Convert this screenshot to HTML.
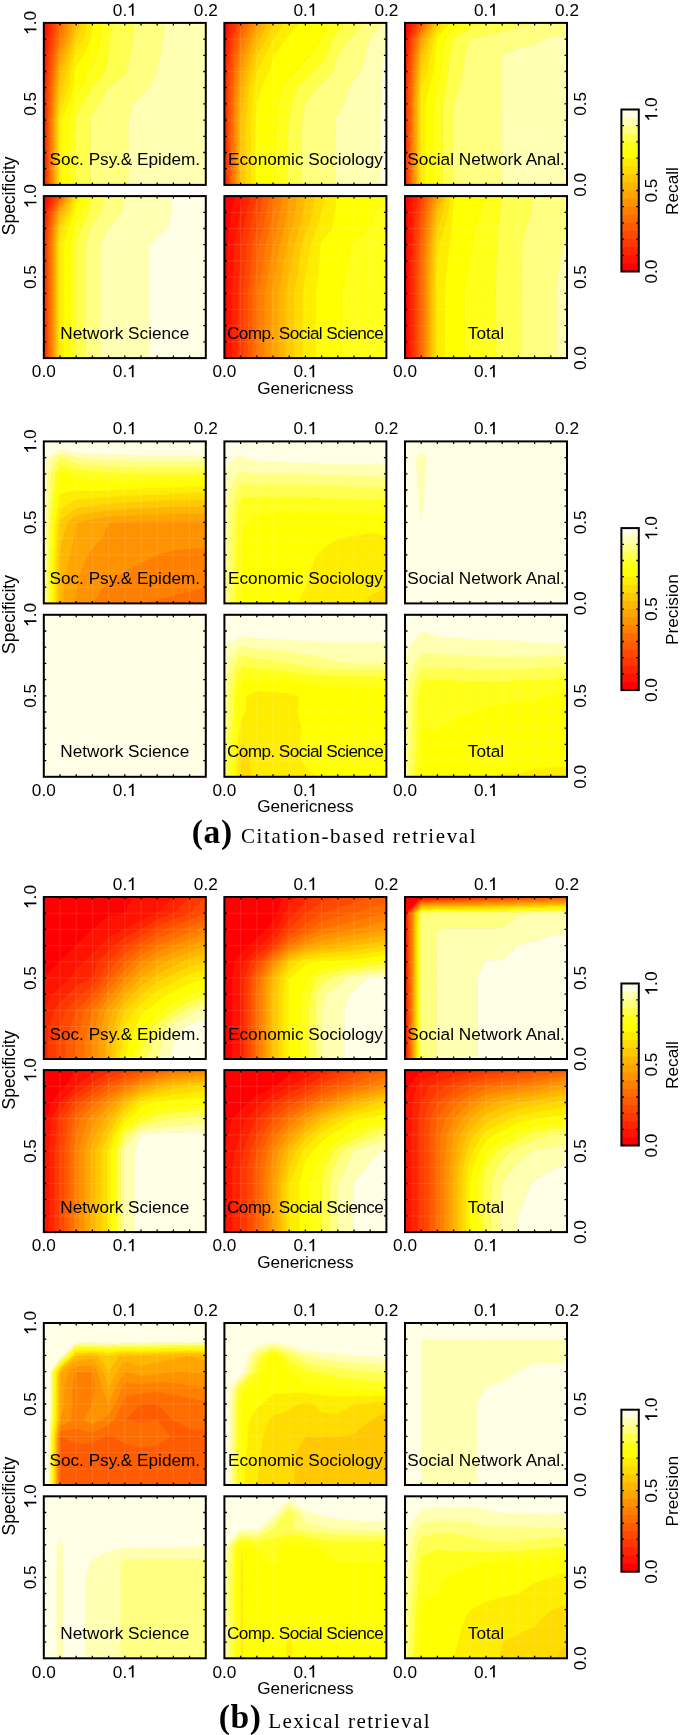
<!DOCTYPE html>
<html><head><meta charset="utf-8"><style>
html,body{margin:0;padding:0;background:#fff;}
svg{display:block;will-change:transform;}
.s{font-family:"Liberation Sans",sans-serif;font-size:17.2px;fill:#000;font-variant-ligatures:none;}
.cb{font-family:"Liberation Serif",serif;font-weight:bold;font-size:33.5px;fill:#000;letter-spacing:0.6px;}
.cn{font-family:"Liberation Serif",serif;font-size:21px;fill:#000;}
</style></head><body>
<svg width="685" height="1735" viewBox="0 0 685 1735" shape-rendering="auto">
<g>
<rect x="43.8" y="22.9" width="162.0" height="162.0" fill="#FF0000"/>
<path fill="#FF0000" stroke="#FF0000" stroke-width="0.7" d="M44.3 39.1L43.8 55.3L43.8 55.3L43.8 55.3L43.8 39.1L43.8 22.9L45.3 22.9Z"/>
<path fill="#FF1200" stroke="#FF1200" stroke-width="0.7" d="M46.9 39.1L45.8 55.3L45.2 71.5L44.6 87.7L44.5 103.9L44.5 120.1L44.5 136.3L44.5 152.5L44.5 168.7L44.5 184.9L43.8 184.9L43.8 168.7L43.8 152.5L43.8 136.3L43.8 120.1L43.8 103.9L43.8 87.7L43.8 71.5L43.8 55.3L43.8 55.3L44.3 39.1L45.3 22.9L48.2 22.9Z"/>
<path fill="#FF2400" stroke="#FF2400" stroke-width="0.7" d="M49.5 39.1L47.8 55.3L46.9 71.5L46.2 87.7L46.0 103.9L45.8 120.1L45.8 136.3L45.8 152.5L45.8 168.7L45.8 184.9L44.5 184.9L44.5 168.7L44.5 152.5L44.5 136.3L44.5 120.1L44.5 103.9L44.6 87.7L45.2 71.5L45.8 55.3L46.9 39.1L48.2 22.9L51.2 22.9Z"/>
<path fill="#FF3700" stroke="#FF3700" stroke-width="0.7" d="M52.2 39.1L49.9 55.3L48.7 71.5L47.8 87.7L47.5 103.9L47.1 120.1L47.1 136.3L47.1 152.5L47.1 168.7L47.1 184.9L45.8 184.9L45.8 168.7L45.8 152.5L45.8 136.3L45.8 120.1L46.0 103.9L46.2 87.7L46.9 71.5L47.8 55.3L49.5 39.1L51.2 22.9L54.1 22.9Z"/>
<path fill="#FF4900" stroke="#FF4900" stroke-width="0.7" d="M54.8 39.1L51.9 55.3L50.4 71.5L49.5 87.7L49.0 103.9L48.4 120.1L48.4 136.3L48.4 152.5L48.4 168.7L48.4 184.9L47.1 184.9L47.1 168.7L47.1 152.5L47.1 136.3L47.1 120.1L47.5 103.9L47.8 87.7L48.7 71.5L49.9 55.3L52.2 39.1L54.1 22.9L57.1 22.9Z"/>
<path fill="#FF5B00" stroke="#FF5B00" stroke-width="0.7" d="M60.0 22.9L60.0 22.9L60.0 22.9L57.4 39.1L53.9 55.3L52.2 71.5L51.1 87.7L50.4 103.9L49.7 120.1L49.7 136.3L49.7 152.5L49.7 168.7L49.7 184.9L48.4 184.9L48.4 168.7L48.4 152.5L48.4 136.3L48.4 120.1L49.0 103.9L49.5 87.7L50.4 71.5L51.9 55.3L54.8 39.1L57.1 22.9Z"/>
<path fill="#FF6D00" stroke="#FF6D00" stroke-width="0.7" d="M60.0 22.9L60.0 22.9L63.2 22.9L60.0 39.1L60.0 39.1L55.9 55.3L53.9 71.5L52.7 87.7L51.9 103.9L51.0 120.1L51.0 136.3L51.0 152.5L51.0 168.7L51.0 184.9L49.7 184.9L49.7 168.7L49.7 152.5L49.7 136.3L49.7 120.1L50.4 103.9L51.1 87.7L52.2 71.5L53.9 55.3L57.4 39.1Z"/>
<path fill="#FF8000" stroke="#FF8000" stroke-width="0.7" d="M63.2 39.1L60.0 47.2L58.0 55.3L55.6 71.5L54.3 87.7L53.4 103.9L52.4 120.1L52.4 136.3L52.4 152.5L52.4 168.7L52.4 184.9L51.0 184.9L51.0 168.7L51.0 152.5L51.0 136.3L51.0 120.1L51.9 103.9L52.7 87.7L53.9 71.5L55.9 55.3L60.0 39.1L60.0 39.1L63.2 22.9L66.5 22.9Z"/>
<path fill="#FF9200" stroke="#FF9200" stroke-width="0.7" d="M66.5 39.1L60.0 55.3L60.0 55.3L57.4 71.5L55.9 87.7L54.8 103.9L53.7 120.1L53.7 136.3L53.7 152.5L53.7 168.7L53.7 184.9L52.4 184.9L52.4 168.7L52.4 152.5L52.4 136.3L52.4 120.1L53.4 103.9L54.3 87.7L55.6 71.5L58.0 55.3L60.0 47.2L63.2 39.1L66.5 22.9L69.7 22.9Z"/>
<path fill="#FFA400" stroke="#FFA400" stroke-width="0.7" d="M69.7 39.1L63.6 55.3L60.0 66.1L59.1 71.5L57.6 87.7L56.3 103.9L55.0 120.1L55.0 136.3L55.0 152.5L55.0 168.7L55.0 184.9L53.7 184.9L53.7 168.7L53.7 152.5L53.7 136.3L53.7 120.1L54.8 103.9L55.9 87.7L57.4 71.5L60.0 55.3L60.0 55.3L66.5 39.1L69.7 22.9L73.0 22.9Z"/>
<path fill="#FFB600" stroke="#FFB600" stroke-width="0.7" d="M76.2 22.9L76.2 22.9L76.2 22.9L73.0 39.1L67.2 55.3L62.1 71.5L60.0 79.6L59.2 87.7L57.8 103.9L56.3 120.1L56.3 136.3L56.3 152.5L56.3 168.7L56.3 184.9L55.0 184.9L55.0 168.7L55.0 152.5L55.0 136.3L55.0 120.1L56.3 103.9L57.6 87.7L59.1 71.5L60.0 66.1L63.6 55.3L69.7 39.1L73.0 22.9Z"/>
<path fill="#FFC800" stroke="#FFC800" stroke-width="0.7" d="M76.2 22.9L76.2 22.9L81.6 22.9L76.2 39.1L76.2 39.1L70.8 55.3L66.4 71.5L62.6 87.7L60.0 95.8L59.3 103.9L57.6 120.1L57.6 136.3L57.6 152.5L57.6 168.7L57.6 184.9L56.3 184.9L56.3 168.7L56.3 152.5L56.3 136.3L56.3 120.1L57.8 103.9L59.2 87.7L60.0 79.6L62.1 71.5L67.2 55.3L73.0 39.1Z"/>
<path fill="#FFDB00" stroke="#FFDB00" stroke-width="0.7" d="M83.6 39.1L76.2 49.9L74.4 55.3L70.7 71.5L67.8 87.7L62.7 103.9L60.0 110.1L58.9 120.1L58.9 136.3L58.9 152.5L58.9 168.7L58.9 184.9L57.6 184.9L57.6 168.7L57.6 152.5L57.6 136.3L57.6 120.1L59.3 103.9L60.0 95.8L62.6 87.7L66.4 71.5L70.8 55.3L76.2 39.1L76.2 39.1L81.6 22.9L87.0 22.9Z"/>
<path fill="#FFED00" stroke="#FFED00" stroke-width="0.7" d="M92.4 22.9L92.4 22.9L92.4 22.9L90.9 39.1L83.6 55.3L76.2 65.4L74.9 71.5L73.1 87.7L68.1 103.9L61.4 120.1L61.4 136.3L61.4 152.5L61.4 168.7L61.4 184.9L60.0 184.9L58.9 184.9L58.9 168.7L58.9 152.5L58.9 136.3L58.9 120.1L60.0 110.1L62.7 103.9L67.8 87.7L70.7 71.5L74.4 55.3L76.2 49.9L83.6 39.1L87.0 22.9Z"/>
<path fill="#FFFF00" stroke="#FFFF00" stroke-width="0.7" d="M92.4 22.9L92.4 22.9L101.4 22.9L100.0 39.1L97.0 55.3L92.4 64.6L87.5 71.5L80.8 87.7L76.2 94.9L73.5 103.9L68.5 120.1L68.5 136.3L68.5 152.5L68.5 168.7L68.5 184.9L61.4 184.9L61.4 168.7L61.4 152.5L61.4 136.3L61.4 120.1L68.1 103.9L73.1 87.7L74.9 71.5L76.2 65.4L83.6 55.3L90.9 39.1Z"/>
<path fill="#FFFF19" stroke="#FFFF19" stroke-width="0.7" d="M108.6 22.9L112.6 22.9L110.6 39.1L108.6 55.3L108.6 55.3L105.0 71.5L92.4 87.7L92.4 87.7L82.4 103.9L76.2 117.4L75.5 120.1L75.5 136.3L75.5 152.5L75.5 168.7L75.5 184.9L68.5 184.9L68.5 168.7L68.5 152.5L68.5 136.3L68.5 120.1L73.5 103.9L76.2 94.9L80.8 87.7L87.5 71.5L92.4 64.6L97.0 55.3L100.0 39.1L101.4 22.9Z"/>
<path fill="#FFFF4D" stroke="#FFFF4D" stroke-width="0.7" d="M124.8 22.9L134.1 22.9L132.9 39.1L130.2 55.3L127.5 71.5L124.8 74.7L108.6 87.7L108.6 87.7L98.9 103.9L92.4 114.7L90.8 120.1L90.8 136.3L90.8 152.5L90.8 168.7L90.8 184.9L76.2 184.9L75.5 184.9L75.5 168.7L75.5 152.5L75.5 136.3L75.5 120.1L76.2 117.4L82.4 103.9L92.4 87.7L92.4 87.7L105.0 71.5L108.6 55.3L108.6 55.3L110.6 39.1L112.6 22.9Z"/>
<path fill="#FFFF80" stroke="#FFFF80" stroke-width="0.7" d="M141.0 22.9L157.2 22.9L163.7 22.9L163.7 39.1L160.4 55.3L157.2 71.5L157.2 71.5L149.1 87.7L141.0 95.8L132.9 103.9L128.9 120.1L128.9 136.3L128.9 152.5L128.9 168.7L128.9 184.9L124.8 184.9L108.6 184.9L92.4 184.9L90.8 184.9L90.8 168.7L90.8 152.5L90.8 136.3L90.8 120.1L92.4 114.7L98.9 103.9L108.6 87.7L108.6 87.7L124.8 74.7L127.5 71.5L130.2 55.3L132.9 39.1L134.1 22.9Z"/>
<path fill="#FFFFB2" stroke="#FFFFB2" stroke-width="0.7" d="M173.4 22.9L189.6 22.9L205.8 22.9L205.8 39.1L205.8 55.3L205.8 71.5L205.8 87.7L205.8 103.9L205.8 120.1L205.8 136.3L205.8 152.5L205.8 168.7L205.8 184.9L189.6 184.9L173.4 184.9L157.2 184.9L141.0 184.9L128.9 184.9L128.9 168.7L128.9 152.5L128.9 136.3L128.9 120.1L132.9 103.9L141.0 95.8L149.1 87.7L157.2 71.5L157.2 71.5L160.4 55.3L163.7 39.1L163.7 22.9Z"/>
<path d="M60.0 22.9v162.0M43.8 39.1h162.0M76.2 22.9v162.0M43.8 55.3h162.0M92.4 22.9v162.0M43.8 71.5h162.0M108.6 22.9v162.0M43.8 87.7h162.0M124.8 22.9v162.0M43.8 103.9h162.0M141.0 22.9v162.0M43.8 120.1h162.0M157.2 22.9v162.0M43.8 136.3h162.0M173.4 22.9v162.0M43.8 152.5h162.0M189.6 22.9v162.0M43.8 168.7h162.0" stroke="#fff" stroke-width="0.8" stroke-opacity="0.14" fill="none"/>
</g>
<path d="M60.0 22.9v2.5M60.0 184.9v-2.5M43.8 39.1h2.5M205.8 39.1h-2.5M76.2 22.9v2.5M76.2 184.9v-2.5M43.8 55.3h2.5M205.8 55.3h-2.5M92.4 22.9v2.5M92.4 184.9v-2.5M43.8 71.5h2.5M205.8 71.5h-2.5M108.6 22.9v2.5M108.6 184.9v-2.5M43.8 87.7h2.5M205.8 87.7h-2.5M124.8 22.9v2.5M124.8 184.9v-2.5M43.8 103.9h2.5M205.8 103.9h-2.5M141.0 22.9v2.5M141.0 184.9v-2.5M43.8 120.1h2.5M205.8 120.1h-2.5M157.2 22.9v2.5M157.2 184.9v-2.5M43.8 136.3h2.5M205.8 136.3h-2.5M173.4 22.9v2.5M173.4 184.9v-2.5M43.8 152.5h2.5M205.8 152.5h-2.5M189.6 22.9v2.5M189.6 184.9v-2.5M43.8 168.7h2.5M205.8 168.7h-2.5" stroke="#000" stroke-width="1.3" fill="none"/>
<rect x="43.8" y="22.9" width="162.0" height="162.0" fill="none" stroke="#000" stroke-width="2"/>
<text x="124.8" y="165.4" text-anchor="middle" class="s">Soc. Psy.& Epidem.</text>
<g><text x="112.85" y="15.80" class="s">0.</text><path d="M133.59 15.80L133.59 3.50L132.19 3.50C131.79 4.60 130.59 5.80 128.79 6.50L128.79 8.00C130.19 7.60 131.19 7.00 131.89 6.20L131.89 15.80Z" fill="#000"/></g>
<g><text x="193.85" y="15.80" class="s">0.2</text></g>
<g transform="rotate(-90 36.4 22.9)"><path d="M30.85 22.90L30.85 10.60L29.45 10.60C29.05 11.70 27.85 12.90 26.05 13.60L26.05 15.10C27.45 14.70 28.45 14.10 29.15 13.30L29.15 22.90Z" fill="#000"/><text x="34.01" y="22.90" class="s">.0</text></g>
<g transform="rotate(-90 36.4 103.9)"><text x="24.45" y="103.90" class="s">0.5</text></g>
<g>
<rect x="224.4" y="22.9" width="162.0" height="162.0" fill="#FF0000"/>
<path fill="#FF0000" stroke="#FF0000" stroke-width="0.7" d="M224.4 39.1L224.4 39.1L224.4 39.1L224.4 22.9L226.2 22.9Z"/>
<path fill="#FF1200" stroke="#FF1200" stroke-width="0.7" d="M227.3 39.1L225.6 55.3L224.4 71.5L224.4 87.7L224.4 103.9L224.4 120.1L224.4 136.3L224.4 152.5L224.4 168.7L224.4 184.9L224.4 184.9L224.4 168.7L224.4 152.5L224.4 136.3L224.4 120.1L224.4 103.9L224.4 87.7L224.4 71.5L224.4 55.3L224.4 39.1L224.4 39.1L226.2 22.9L229.8 22.9Z"/>
<path fill="#FF2400" stroke="#FF2400" stroke-width="0.7" d="M230.3 39.1L228.1 55.3L226.7 71.5L226.4 87.7L226.3 103.9L226.2 120.1L226.2 136.3L226.2 152.5L226.2 168.7L226.2 184.9L224.4 184.9L224.4 168.7L224.4 152.5L224.4 136.3L224.4 120.1L224.4 103.9L224.4 87.7L224.4 71.5L225.6 55.3L227.3 39.1L229.8 22.9L233.4 22.9Z"/>
<path fill="#FF3700" stroke="#FF3700" stroke-width="0.7" d="M233.2 39.1L230.6 55.3L229.0 71.5L228.5 87.7L228.2 103.9L228.0 120.1L228.0 136.3L228.0 152.5L228.0 168.7L228.0 184.9L226.2 184.9L226.2 168.7L226.2 152.5L226.2 136.3L226.2 120.1L226.3 103.9L226.4 87.7L226.7 71.5L228.1 55.3L230.3 39.1L233.4 22.9L237.0 22.9Z"/>
<path fill="#FF4900" stroke="#FF4900" stroke-width="0.7" d="M240.6 22.9L240.6 22.9L240.6 22.9L236.2 39.1L233.1 55.3L231.3 71.5L230.5 87.7L230.1 103.9L229.8 120.1L229.8 136.3L229.8 152.5L229.8 168.7L229.8 184.9L228.0 184.9L228.0 168.7L228.0 152.5L228.0 136.3L228.0 120.1L228.2 103.9L228.5 87.7L229.0 71.5L230.6 55.3L233.2 39.1L237.0 22.9Z"/>
<path fill="#FF5B00" stroke="#FF5B00" stroke-width="0.7" d="M240.6 22.9L240.6 22.9L244.7 22.9L240.6 33.7L239.1 39.1L235.6 55.3L233.7 71.5L232.5 87.7L232.0 103.9L231.6 120.1L231.6 136.3L231.6 152.5L231.6 168.7L231.6 184.9L229.8 184.9L229.8 168.7L229.8 152.5L229.8 136.3L229.8 120.1L230.1 103.9L230.5 87.7L231.3 71.5L233.1 55.3L236.2 39.1Z"/>
<path fill="#FF6D00" stroke="#FF6D00" stroke-width="0.7" d="M240.6 33.7L244.7 22.9L248.7 22.9L242.6 39.1L240.6 44.5L238.1 55.3L236.0 71.5L234.5 87.7L233.9 103.9L233.4 120.1L233.4 136.3L233.4 152.5L233.4 168.7L233.4 184.9L231.6 184.9L231.6 168.7L231.6 152.5L231.6 136.3L231.6 120.1L232.0 103.9L232.5 87.7L233.7 71.5L235.6 55.3L239.1 39.1Z"/>
<path fill="#FF8000" stroke="#FF8000" stroke-width="0.7" d="M246.7 39.1L240.6 55.3L240.6 55.3L238.3 71.5L236.6 87.7L235.8 103.9L235.2 120.1L235.2 136.3L235.2 152.5L235.2 168.7L235.2 184.9L233.4 184.9L233.4 168.7L233.4 152.5L233.4 136.3L233.4 120.1L233.9 103.9L234.5 87.7L236.0 71.5L238.1 55.3L240.6 44.5L242.6 39.1L248.7 22.9L252.8 22.9Z"/>
<path fill="#FF9200" stroke="#FF9200" stroke-width="0.7" d="M256.8 22.9L256.8 22.9L256.8 22.9L250.7 39.1L244.7 55.3L240.6 71.5L240.6 71.5L238.6 87.7L237.7 103.9L237.0 120.1L237.0 136.3L237.0 152.5L237.0 168.7L237.0 184.9L235.2 184.9L235.2 168.7L235.2 152.5L235.2 136.3L235.2 120.1L235.8 103.9L236.6 87.7L238.3 71.5L240.6 55.3L240.6 55.3L246.7 39.1L252.8 22.9Z"/>
<path fill="#FFA400" stroke="#FFA400" stroke-width="0.7" d="M256.8 22.9L256.8 22.9L262.2 22.9L256.8 33.7L254.8 39.1L248.7 55.3L244.7 71.5L240.6 87.7L240.6 87.7L239.6 103.9L238.8 120.1L238.8 136.3L238.8 152.5L238.8 168.7L238.8 184.9L237.0 184.9L237.0 168.7L237.0 152.5L237.0 136.3L237.0 120.1L237.7 103.9L238.6 87.7L240.6 71.5L240.6 71.5L244.7 55.3L250.7 39.1Z"/>
<path fill="#FFB600" stroke="#FFB600" stroke-width="0.7" d="M256.8 33.7L262.2 22.9L267.6 22.9L260.0 39.1L256.8 44.5L252.8 55.3L248.7 71.5L244.9 87.7L242.9 103.9L240.6 120.1L240.6 136.3L240.6 152.5L240.6 168.7L240.6 184.9L240.6 184.9L238.8 184.9L238.8 168.7L238.8 152.5L238.8 136.3L238.8 120.1L239.6 103.9L240.6 87.7L240.6 87.7L244.7 71.5L248.7 55.3L254.8 39.1Z"/>
<path fill="#FFC800" stroke="#FFC800" stroke-width="0.7" d="M273.0 22.9L273.0 22.9L273.0 22.9L266.5 39.1L256.8 55.3L256.8 55.3L252.8 71.5L249.1 87.7L247.5 103.9L245.7 120.1L245.5 136.3L245.5 152.5L245.5 168.7L245.5 184.9L240.6 184.9L240.6 168.7L240.6 152.5L240.6 136.3L240.6 120.1L242.9 103.9L244.9 87.7L248.7 71.5L252.8 55.3L256.8 44.5L260.0 39.1L267.6 22.9Z"/>
<path fill="#FFDB00" stroke="#FFDB00" stroke-width="0.7" d="M273.0 22.9L273.0 22.9L283.8 22.9L273.0 39.1L273.0 39.1L264.9 55.3L256.8 71.5L256.8 71.5L253.4 87.7L252.2 103.9L250.7 120.1L250.4 136.3L250.4 152.5L250.4 168.7L250.4 184.9L245.5 184.9L245.5 168.7L245.5 152.5L245.5 136.3L245.7 120.1L247.5 103.9L249.1 87.7L252.8 71.5L256.8 55.3L256.8 55.3L266.5 39.1Z"/>
<path fill="#FFED00" stroke="#FFED00" stroke-width="0.7" d="M289.2 22.9L299.3 22.9L289.2 34.5L286.5 39.1L273.0 55.3L273.0 55.3L269.3 71.5L261.4 87.7L256.8 103.9L256.8 103.9L255.8 120.1L255.3 136.3L255.3 152.5L255.3 168.7L255.3 184.9L250.4 184.9L250.4 168.7L250.4 152.5L250.4 136.3L250.7 120.1L252.2 103.9L253.4 87.7L256.8 71.5L256.8 71.5L264.9 55.3L273.0 39.1L273.0 39.1L283.8 22.9Z"/>
<path fill="#FFFF00" stroke="#FFFF00" stroke-width="0.7" d="M289.2 34.5L299.3 22.9L305.4 22.9L321.6 22.9L327.7 22.9L321.6 39.1L321.6 39.1L310.0 55.3L305.4 59.9L295.3 71.5L289.2 77.6L281.1 87.7L278.4 103.9L276.7 120.1L275.5 136.3L275.5 152.5L275.5 168.7L275.5 184.9L273.0 184.9L256.8 184.9L255.3 184.9L255.3 168.7L255.3 152.5L255.3 136.3L255.8 120.1L256.8 103.9L256.8 103.9L261.4 87.7L269.3 71.5L273.0 55.3L273.0 55.3L286.5 39.1Z"/>
<path fill="#FFFF19" stroke="#FFFF19" stroke-width="0.7" d="M337.8 22.9L345.9 22.9L337.8 31.0L332.4 39.1L327.0 55.3L321.6 63.4L313.5 71.5L305.4 79.6L297.3 87.7L291.9 103.9L289.2 120.1L289.2 120.1L288.0 136.3L288.0 152.5L288.0 168.7L288.0 184.9L275.5 184.9L275.5 168.7L275.5 152.5L275.5 136.3L276.7 120.1L278.4 103.9L281.1 87.7L289.2 77.6L295.3 71.5L305.4 59.9L310.0 55.3L321.6 39.1L321.6 39.1L327.7 22.9Z"/>
<path fill="#FFFF4D" stroke="#FFFF4D" stroke-width="0.7" d="M337.8 31.0L345.9 22.9L354.0 22.9L362.1 22.9L354.0 34.5L349.4 39.1L337.8 55.3L337.8 55.3L333.2 71.5L321.6 83.1L317.0 87.7L305.4 103.9L305.4 103.9L302.7 120.1L301.4 136.3L301.4 152.5L301.4 168.7L301.4 184.9L289.2 184.9L288.0 184.9L288.0 168.7L288.0 152.5L288.0 136.3L289.2 120.1L289.2 120.1L291.9 103.9L297.3 87.7L305.4 79.6L313.5 71.5L321.6 63.4L327.0 55.3L332.4 39.1Z"/>
<path fill="#FFFF80" stroke="#FFFF80" stroke-width="0.7" d="M354.0 34.5L362.1 22.9L370.2 22.9L381.8 22.9L370.2 39.1L370.2 39.1L365.6 55.3L360.5 71.5L354.0 79.6L349.4 87.7L344.3 103.9L337.8 114.7L335.1 120.1L336.0 136.3L336.0 152.5L336.0 168.7L336.0 184.9L321.6 184.9L305.4 184.9L301.4 184.9L301.4 168.7L301.4 152.5L301.4 136.3L302.7 120.1L305.4 103.9L305.4 103.9L317.0 87.7L321.6 83.1L333.2 71.5L337.8 55.3L337.8 55.3L349.4 39.1Z"/>
<path fill="#FFFFB2" stroke="#FFFFB2" stroke-width="0.7" d="M386.4 22.9L386.4 39.1L386.4 50.7L383.2 55.3L382.8 71.5L381.8 87.7L381.8 103.9L381.0 120.1L381.0 136.3L381.0 152.5L381.0 168.7L381.0 184.9L370.2 184.9L354.0 184.9L337.8 184.9L336.0 184.9L336.0 168.7L336.0 152.5L336.0 136.3L335.1 120.1L337.8 114.7L344.3 103.9L349.4 87.7L354.0 79.6L360.5 71.5L365.6 55.3L370.2 39.1L370.2 39.1L381.8 22.9Z"/>
<path fill="#FFFFE6" stroke="#FFFFE6" stroke-width="0.7" d="M386.4 50.7L386.4 55.3L386.4 71.5L386.4 87.7L386.4 103.9L386.4 120.1L386.4 136.3L386.4 152.5L386.4 168.7L386.4 184.9L381.0 184.9L381.0 168.7L381.0 152.5L381.0 136.3L381.0 120.1L381.8 103.9L381.8 87.7L382.8 71.5L383.2 55.3Z"/>
<path d="M240.6 22.9v162.0M224.4 39.1h162.0M256.8 22.9v162.0M224.4 55.3h162.0M273.0 22.9v162.0M224.4 71.5h162.0M289.2 22.9v162.0M224.4 87.7h162.0M305.4 22.9v162.0M224.4 103.9h162.0M321.6 22.9v162.0M224.4 120.1h162.0M337.8 22.9v162.0M224.4 136.3h162.0M354.0 22.9v162.0M224.4 152.5h162.0M370.2 22.9v162.0M224.4 168.7h162.0" stroke="#fff" stroke-width="0.8" stroke-opacity="0.14" fill="none"/>
</g>
<path d="M240.6 22.9v2.5M240.6 184.9v-2.5M224.4 39.1h2.5M386.4 39.1h-2.5M256.8 22.9v2.5M256.8 184.9v-2.5M224.4 55.3h2.5M386.4 55.3h-2.5M273.0 22.9v2.5M273.0 184.9v-2.5M224.4 71.5h2.5M386.4 71.5h-2.5M289.2 22.9v2.5M289.2 184.9v-2.5M224.4 87.7h2.5M386.4 87.7h-2.5M305.4 22.9v2.5M305.4 184.9v-2.5M224.4 103.9h2.5M386.4 103.9h-2.5M321.6 22.9v2.5M321.6 184.9v-2.5M224.4 120.1h2.5M386.4 120.1h-2.5M337.8 22.9v2.5M337.8 184.9v-2.5M224.4 136.3h2.5M386.4 136.3h-2.5M354.0 22.9v2.5M354.0 184.9v-2.5M224.4 152.5h2.5M386.4 152.5h-2.5M370.2 22.9v2.5M370.2 184.9v-2.5M224.4 168.7h2.5M386.4 168.7h-2.5" stroke="#000" stroke-width="1.3" fill="none"/>
<rect x="224.4" y="22.9" width="162.0" height="162.0" fill="none" stroke="#000" stroke-width="2"/>
<text x="305.4" y="165.4" text-anchor="middle" class="s">Economic Sociology</text>
<g><text x="293.45" y="15.80" class="s">0.</text><path d="M314.19 15.80L314.19 3.50L312.79 3.50C312.39 4.60 311.19 5.80 309.39 6.50L309.39 8.00C310.79 7.60 311.79 7.00 312.49 6.20L312.49 15.80Z" fill="#000"/></g>
<g><text x="374.45" y="15.80" class="s">0.2</text></g>
<g>
<rect x="405.0" y="22.9" width="162.0" height="162.0" fill="#FF0000"/>
<path fill="#FF0000" stroke="#FF0000" stroke-width="0.7" d="M406.0 39.1L405.0 55.3L405.0 55.3L405.0 55.3L405.0 39.1L405.0 22.9L408.2 22.9Z"/>
<path fill="#FF1200" stroke="#FF1200" stroke-width="0.7" d="M407.9 39.1L406.6 55.3L405.8 71.5L405.0 87.7L405.0 103.9L405.0 120.1L405.0 136.3L405.0 152.5L405.0 168.7L405.0 184.9L405.0 184.9L405.0 168.7L405.0 152.5L405.0 136.3L405.0 120.1L405.0 103.9L405.0 87.7L405.0 71.5L405.0 55.3L405.0 55.3L406.0 39.1L408.2 22.9L411.5 22.9Z"/>
<path fill="#FF2400" stroke="#FF2400" stroke-width="0.7" d="M409.8 39.1L408.2 55.3L407.3 71.5L406.5 87.7L406.4 103.9L406.4 120.1L406.4 136.3L406.4 152.5L406.4 168.7L406.4 184.9L405.0 184.9L405.0 168.7L405.0 152.5L405.0 136.3L405.0 120.1L405.0 103.9L405.0 87.7L405.8 71.5L406.6 55.3L407.9 39.1L411.5 22.9L414.7 22.9Z"/>
<path fill="#FF3700" stroke="#FF3700" stroke-width="0.7" d="M411.7 39.1L409.9 55.3L408.9 71.5L407.9 87.7L407.8 103.9L407.8 120.1L407.8 136.3L407.8 152.5L407.8 168.7L407.8 184.9L406.4 184.9L406.4 168.7L406.4 152.5L406.4 136.3L406.4 120.1L406.4 103.9L406.5 87.7L407.3 71.5L408.2 55.3L409.8 39.1L414.7 22.9L418.0 22.9Z"/>
<path fill="#FF4900" stroke="#FF4900" stroke-width="0.7" d="M421.2 22.9L421.2 22.9L421.2 22.9L413.6 39.1L411.5 55.3L410.4 71.5L409.4 87.7L409.2 103.9L409.2 120.1L409.2 136.3L409.2 152.5L409.2 168.7L409.2 184.9L407.8 184.9L407.8 168.7L407.8 152.5L407.8 136.3L407.8 120.1L407.8 103.9L407.9 87.7L408.9 71.5L409.9 55.3L411.7 39.1L418.0 22.9Z"/>
<path fill="#FF5B00" stroke="#FF5B00" stroke-width="0.7" d="M421.2 22.9L421.2 22.9L423.5 22.9L421.2 26.9L415.5 39.1L413.1 55.3L411.9 71.5L410.9 87.7L410.6 103.9L410.6 120.1L410.6 136.3L410.6 152.5L410.6 168.7L410.6 184.9L409.2 184.9L409.2 168.7L409.2 152.5L409.2 136.3L409.2 120.1L409.2 103.9L409.4 87.7L410.4 71.5L411.5 55.3L413.6 39.1Z"/>
<path fill="#FF6D00" stroke="#FF6D00" stroke-width="0.7" d="M421.2 26.9L423.5 22.9L425.8 22.9L421.2 31.0L417.4 39.1L414.7 55.3L413.5 71.5L412.4 87.7L412.0 103.9L412.0 120.1L412.0 136.3L412.0 152.5L412.0 168.7L412.0 184.9L410.6 184.9L410.6 168.7L410.6 152.5L410.6 136.3L410.6 120.1L410.6 103.9L410.9 87.7L411.9 71.5L413.1 55.3L415.5 39.1Z"/>
<path fill="#FF8000" stroke="#FF8000" stroke-width="0.7" d="M421.2 31.0L425.8 22.9L428.1 22.9L421.2 35.0L419.3 39.1L416.3 55.3L415.0 71.5L413.8 87.7L413.5 103.9L413.5 120.1L413.5 136.3L413.5 152.5L413.5 168.7L413.5 184.9L412.0 184.9L412.0 168.7L412.0 152.5L412.0 136.3L412.0 120.1L412.0 103.9L412.4 87.7L413.5 71.5L414.7 55.3L417.4 39.1Z"/>
<path fill="#FF9200" stroke="#FF9200" stroke-width="0.7" d="M421.2 35.0L428.1 22.9L430.5 22.9L421.2 39.1L421.2 39.1L418.0 55.3L416.6 71.5L415.3 87.7L414.9 103.9L414.9 120.1L414.9 136.3L414.9 152.5L414.9 168.7L414.9 184.9L413.5 184.9L413.5 168.7L413.5 152.5L413.5 136.3L413.5 120.1L413.5 103.9L413.8 87.7L415.0 71.5L416.3 55.3L419.3 39.1Z"/>
<path fill="#FFA400" stroke="#FFA400" stroke-width="0.7" d="M424.3 39.1L421.2 47.2L419.6 55.3L418.1 71.5L416.8 87.7L416.3 103.9L416.3 120.1L416.3 136.3L416.3 152.5L416.3 168.7L416.3 184.9L414.9 184.9L414.9 168.7L414.9 152.5L414.9 136.3L414.9 120.1L414.9 103.9L415.3 87.7L416.6 71.5L418.0 55.3L421.2 39.1L421.2 39.1L430.5 22.9L432.8 22.9Z"/>
<path fill="#FFB600" stroke="#FFB600" stroke-width="0.7" d="M427.4 39.1L421.2 55.3L421.2 55.3L419.7 71.5L418.3 87.7L417.7 103.9L417.7 120.1L417.7 136.3L417.7 152.5L417.7 168.7L417.7 184.9L416.3 184.9L416.3 168.7L416.3 152.5L416.3 136.3L416.3 120.1L416.3 103.9L416.8 87.7L418.1 71.5L419.6 55.3L421.2 47.2L424.3 39.1L432.8 22.9L435.1 22.9Z"/>
<path fill="#FFC800" stroke="#FFC800" stroke-width="0.7" d="M437.4 22.9L437.4 22.9L437.4 22.9L430.5 39.1L425.8 55.3L421.2 71.5L421.2 71.5L419.7 87.7L419.1 103.9L419.1 120.1L419.1 136.3L419.1 152.5L419.1 168.7L419.1 184.9L417.7 184.9L417.7 168.7L417.7 152.5L417.7 136.3L417.7 120.1L417.7 103.9L418.3 87.7L419.7 71.5L421.2 55.3L421.2 55.3L427.4 39.1L435.1 22.9Z"/>
<path fill="#FFDB00" stroke="#FFDB00" stroke-width="0.7" d="M437.4 22.9L437.4 22.9L443.9 22.9L437.4 30.3L433.7 39.1L430.5 55.3L427.4 71.5L421.2 87.7L421.2 87.7L420.5 103.9L420.5 120.1L420.5 136.3L420.5 152.5L420.5 168.7L420.5 184.9L419.1 184.9L419.1 168.7L419.1 152.5L419.1 136.3L419.1 120.1L419.1 103.9L419.7 87.7L421.2 71.5L421.2 71.5L425.8 55.3L430.5 39.1Z"/>
<path fill="#FFED00" stroke="#FFED00" stroke-width="0.7" d="M437.4 30.3L443.9 22.9L450.4 22.9L437.4 37.6L436.8 39.1L435.1 55.3L433.7 71.5L429.3 87.7L425.2 103.9L425.2 120.1L425.2 136.3L425.2 152.5L425.2 168.7L425.2 184.9L421.2 184.9L420.5 184.9L420.5 168.7L420.5 152.5L420.5 136.3L420.5 120.1L420.5 103.9L421.2 87.7L421.2 87.7L427.4 71.5L430.5 55.3L433.7 39.1Z"/>
<path fill="#FFFF00" stroke="#FFFF00" stroke-width="0.7" d="M437.4 37.6L450.4 22.9L453.6 22.9L461.7 22.9L453.6 28.3L444.6 39.1L441.4 55.3L440.5 71.5L437.4 87.7L437.4 87.7L433.4 103.9L433.4 120.1L433.4 136.3L433.4 152.5L433.4 168.7L433.4 184.9L425.2 184.9L425.2 168.7L425.2 152.5L425.2 136.3L425.2 120.1L425.2 103.9L429.3 87.7L433.7 71.5L435.1 55.3L436.8 39.1Z"/>
<path fill="#FFFF19" stroke="#FFFF19" stroke-width="0.7" d="M453.6 28.3L461.7 22.9L469.8 22.9L486.0 22.9L486.0 22.9L486.0 22.9L469.8 28.3L453.6 39.1L453.6 39.1L449.6 55.3L448.2 71.5L446.4 87.7L442.8 103.9L442.8 120.1L442.8 136.3L442.8 152.5L442.8 168.7L442.8 184.9L437.4 184.9L433.4 184.9L433.4 168.7L433.4 152.5L433.4 136.3L433.4 120.1L433.4 103.9L437.4 87.7L437.4 87.7L440.5 71.5L441.4 55.3L444.6 39.1Z"/>
<path fill="#FFFF4D" stroke="#FFFF4D" stroke-width="0.7" d="M469.8 28.3L486.0 22.9L486.0 22.9L502.2 22.9L518.4 22.9L534.6 22.9L534.6 22.9L534.6 22.9L518.4 26.9L502.2 31.9L486.0 36.4L469.8 39.1L469.8 39.1L465.2 55.3L463.3 71.5L460.1 87.7L453.6 103.9L453.6 120.1L453.6 136.3L453.6 152.5L453.6 168.7L453.6 184.9L453.6 184.9L442.8 184.9L442.8 168.7L442.8 152.5L442.8 136.3L442.8 120.1L442.8 103.9L446.4 87.7L448.2 71.5L449.6 55.3L453.6 39.1L453.6 39.1Z"/>
<path fill="#FFFF80" stroke="#FFFF80" stroke-width="0.7" d="M486.0 36.4L502.2 31.9L518.4 26.9L534.6 22.9L534.6 22.9L550.8 22.9L567.0 22.9L567.0 35.5L550.8 37.3L545.4 39.1L534.6 44.5L518.4 48.4L502.2 55.3L502.2 71.5L502.2 87.7L502.2 103.9L502.2 120.1L502.2 136.3L502.2 152.5L502.2 168.7L502.2 184.9L502.2 184.9L486.0 184.9L469.8 184.9L453.6 184.9L453.6 168.7L453.6 152.5L453.6 136.3L453.6 120.1L453.6 103.9L460.1 87.7L463.3 71.5L465.2 55.3L469.8 39.1L469.8 39.1Z"/>
<path fill="#FFFFB2" stroke="#FFFFB2" stroke-width="0.7" d="M550.8 37.3L567.0 35.5L567.0 39.1L567.0 55.3L567.0 71.5L567.0 87.7L567.0 103.9L567.0 120.1L567.0 136.3L567.0 152.5L567.0 168.7L567.0 184.9L550.8 184.9L534.6 184.9L518.4 184.9L502.2 184.9L502.2 168.7L502.2 152.5L502.2 136.3L502.2 120.1L502.2 103.9L502.2 87.7L502.2 71.5L502.2 55.3L518.4 48.4L534.6 44.5L545.4 39.1Z"/>
<path d="M421.2 22.9v162.0M405.0 39.1h162.0M437.4 22.9v162.0M405.0 55.3h162.0M453.6 22.9v162.0M405.0 71.5h162.0M469.8 22.9v162.0M405.0 87.7h162.0M486.0 22.9v162.0M405.0 103.9h162.0M502.2 22.9v162.0M405.0 120.1h162.0M518.4 22.9v162.0M405.0 136.3h162.0M534.6 22.9v162.0M405.0 152.5h162.0M550.8 22.9v162.0M405.0 168.7h162.0" stroke="#fff" stroke-width="0.8" stroke-opacity="0.14" fill="none"/>
</g>
<path d="M421.2 22.9v2.5M421.2 184.9v-2.5M405.0 39.1h2.5M567.0 39.1h-2.5M437.4 22.9v2.5M437.4 184.9v-2.5M405.0 55.3h2.5M567.0 55.3h-2.5M453.6 22.9v2.5M453.6 184.9v-2.5M405.0 71.5h2.5M567.0 71.5h-2.5M469.8 22.9v2.5M469.8 184.9v-2.5M405.0 87.7h2.5M567.0 87.7h-2.5M486.0 22.9v2.5M486.0 184.9v-2.5M405.0 103.9h2.5M567.0 103.9h-2.5M502.2 22.9v2.5M502.2 184.9v-2.5M405.0 120.1h2.5M567.0 120.1h-2.5M518.4 22.9v2.5M518.4 184.9v-2.5M405.0 136.3h2.5M567.0 136.3h-2.5M534.6 22.9v2.5M534.6 184.9v-2.5M405.0 152.5h2.5M567.0 152.5h-2.5M550.8 22.9v2.5M550.8 184.9v-2.5M405.0 168.7h2.5M567.0 168.7h-2.5" stroke="#000" stroke-width="1.3" fill="none"/>
<rect x="405.0" y="22.9" width="162.0" height="162.0" fill="none" stroke="#000" stroke-width="2"/>
<text x="486.0" y="165.4" text-anchor="middle" class="s">Social Network Anal.</text>
<g><text x="474.05" y="15.80" class="s">0.</text><path d="M494.79 15.80L494.79 3.50L493.39 3.50C492.99 4.60 491.79 5.80 489.99 6.50L489.99 8.00C491.39 7.60 492.39 7.00 493.09 6.20L493.09 15.80Z" fill="#000"/></g>
<g><text x="555.05" y="15.80" class="s">0.2</text></g>
<g transform="rotate(-90 586.3 103.9)"><text x="574.35" y="103.90" class="s">0.5</text></g>
<g transform="rotate(-90 586.3 184.9)"><text x="574.35" y="184.90" class="s">0.0</text></g>
<g>
<rect x="43.8" y="196.1" width="162.0" height="162.0" fill="#FF0000"/>
<path fill="#FF0000" stroke="#FF0000" stroke-width="0.7" d="M44.2 212.3L43.8 216.9L43.8 212.3L43.8 196.1L47.0 196.1Z"/>
<path fill="#FF1200" stroke="#FF1200" stroke-width="0.7" d="M45.9 212.3L44.5 228.5L43.8 244.7L43.8 260.9L43.8 277.1L43.8 293.3L43.8 309.5L43.8 325.7L43.8 341.9L43.8 358.1L43.8 358.1L43.8 341.9L43.8 325.7L43.8 309.5L43.8 293.3L43.8 277.1L43.8 260.9L43.8 244.7L43.8 228.5L43.8 216.9L44.2 212.3L47.0 196.1L50.3 196.1Z"/>
<path fill="#FF2400" stroke="#FF2400" stroke-width="0.7" d="M47.7 212.3L46.0 228.5L45.2 244.7L45.2 260.9L45.2 277.1L45.2 293.3L45.2 309.5L45.2 325.7L45.2 341.9L45.2 358.1L43.8 358.1L43.8 341.9L43.8 325.7L43.8 309.5L43.8 293.3L43.8 277.1L43.8 260.9L43.8 244.7L44.5 228.5L45.9 212.3L50.3 196.1L53.5 196.1Z"/>
<path fill="#FF3700" stroke="#FF3700" stroke-width="0.7" d="M49.4 212.3L47.5 228.5L46.6 244.7L46.6 260.9L46.6 277.1L46.6 293.3L46.6 309.5L46.6 325.7L46.6 341.9L46.6 358.1L45.2 358.1L45.2 341.9L45.2 325.7L45.2 309.5L45.2 293.3L45.2 277.1L45.2 260.9L45.2 244.7L46.0 228.5L47.7 212.3L53.5 196.1L56.8 196.1Z"/>
<path fill="#FF4900" stroke="#FF4900" stroke-width="0.7" d="M60.0 196.1L60.0 196.1L60.0 196.1L51.2 212.3L49.0 228.5L48.0 244.7L48.0 260.9L48.0 277.1L48.0 293.3L48.0 309.5L48.0 325.7L48.0 341.9L48.0 358.1L46.6 358.1L46.6 341.9L46.6 325.7L46.6 309.5L46.6 293.3L46.6 277.1L46.6 260.9L46.6 244.7L47.5 228.5L49.4 212.3L56.8 196.1Z"/>
<path fill="#FF5B00" stroke="#FF5B00" stroke-width="0.7" d="M60.0 196.1L60.0 196.1L61.9 196.1L60.0 199.3L53.0 212.3L50.4 228.5L49.4 244.7L49.4 260.9L49.4 277.1L49.4 293.3L49.4 309.5L49.4 325.7L49.4 341.9L49.4 358.1L48.0 358.1L48.0 341.9L48.0 325.7L48.0 309.5L48.0 293.3L48.0 277.1L48.0 260.9L48.0 244.7L49.0 228.5L51.2 212.3Z"/>
<path fill="#FF6D00" stroke="#FF6D00" stroke-width="0.7" d="M60.0 199.3L61.9 196.1L63.8 196.1L60.0 202.6L54.7 212.3L51.9 228.5L50.8 244.7L50.8 260.9L50.8 277.1L50.8 293.3L50.8 309.5L50.8 325.7L50.8 341.9L50.8 358.1L49.4 358.1L49.4 341.9L49.4 325.7L49.4 309.5L49.4 293.3L49.4 277.1L49.4 260.9L49.4 244.7L50.4 228.5L53.0 212.3Z"/>
<path fill="#FF8000" stroke="#FF8000" stroke-width="0.7" d="M60.0 202.6L63.8 196.1L65.7 196.1L60.0 205.8L56.5 212.3L53.4 228.5L52.3 244.7L52.3 260.9L52.3 277.1L52.3 293.3L52.3 309.5L52.3 325.7L52.3 341.9L52.3 358.1L50.8 358.1L50.8 341.9L50.8 325.7L50.8 309.5L50.8 293.3L50.8 277.1L50.8 260.9L50.8 244.7L51.9 228.5L54.7 212.3Z"/>
<path fill="#FF9200" stroke="#FF9200" stroke-width="0.7" d="M60.0 205.8L65.7 196.1L67.6 196.1L60.0 209.1L58.2 212.3L54.8 228.5L53.7 244.7L53.7 260.9L53.7 277.1L53.7 293.3L53.7 309.5L53.7 325.7L53.7 341.9L53.7 358.1L52.3 358.1L52.3 341.9L52.3 325.7L52.3 309.5L52.3 293.3L52.3 277.1L52.3 260.9L52.3 244.7L53.4 228.5L56.5 212.3Z"/>
<path fill="#FFA400" stroke="#FFA400" stroke-width="0.7" d="M60.0 209.1L67.6 196.1L69.5 196.1L60.0 212.3L60.0 212.3L56.3 228.5L55.1 244.7L55.1 260.9L55.1 277.1L55.1 293.3L55.1 309.5L55.1 325.7L55.1 341.9L55.1 358.1L53.7 358.1L53.7 341.9L53.7 325.7L53.7 309.5L53.7 293.3L53.7 277.1L53.7 260.9L53.7 244.7L54.8 228.5L58.2 212.3Z"/>
<path fill="#FFB600" stroke="#FFB600" stroke-width="0.7" d="M63.6 212.3L60.0 218.8L57.8 228.5L56.5 244.7L56.5 260.9L56.5 277.1L56.5 293.3L56.5 309.5L56.5 325.7L56.5 341.9L56.5 358.1L55.1 358.1L55.1 341.9L55.1 325.7L55.1 309.5L55.1 293.3L55.1 277.1L55.1 260.9L55.1 244.7L56.3 228.5L60.0 212.3L60.0 212.3L69.5 196.1L71.4 196.1Z"/>
<path fill="#FFC800" stroke="#FFC800" stroke-width="0.7" d="M67.2 212.3L60.0 225.3L59.3 228.5L57.9 244.7L57.9 260.9L57.9 277.1L57.9 293.3L57.9 309.5L57.9 325.7L57.9 341.9L57.9 358.1L56.5 358.1L56.5 341.9L56.5 325.7L56.5 309.5L56.5 293.3L56.5 277.1L56.5 260.9L56.5 244.7L57.8 228.5L60.0 218.8L63.6 212.3L71.4 196.1L73.3 196.1Z"/>
<path fill="#FFDB00" stroke="#FFDB00" stroke-width="0.7" d="M70.8 212.3L62.7 228.5L60.0 236.6L59.3 244.7L59.3 260.9L59.3 277.1L59.3 293.3L59.3 309.5L59.3 325.7L59.3 341.9L59.3 358.1L57.9 358.1L57.9 341.9L57.9 325.7L57.9 309.5L57.9 293.3L57.9 277.1L57.9 260.9L57.9 244.7L59.3 228.5L60.0 225.3L67.2 212.3L73.3 196.1L75.2 196.1Z"/>
<path fill="#FFED00" stroke="#FFED00" stroke-width="0.7" d="M76.2 196.1L79.4 196.1L76.2 204.2L74.4 212.3L68.1 228.5L63.2 244.7L63.2 260.9L63.2 277.1L63.2 293.3L63.2 309.5L63.2 325.7L63.2 341.9L63.2 358.1L60.0 358.1L59.3 358.1L59.3 341.9L59.3 325.7L59.3 309.5L59.3 293.3L59.3 277.1L59.3 260.9L59.3 244.7L60.0 236.6L62.7 228.5L70.8 212.3L75.2 196.1Z"/>
<path fill="#FFFF00" stroke="#FFFF00" stroke-width="0.7" d="M76.2 204.2L79.4 196.1L85.9 196.1L80.2 212.3L76.2 220.4L73.5 228.5L69.7 244.7L69.7 260.9L69.7 277.1L69.7 293.3L69.7 309.5L69.7 325.7L69.7 341.9L69.7 358.1L63.2 358.1L63.2 341.9L63.2 325.7L63.2 309.5L63.2 293.3L63.2 277.1L63.2 260.9L63.2 244.7L68.1 228.5L74.4 212.3Z"/>
<path fill="#FFFF19" stroke="#FFFF19" stroke-width="0.7" d="M92.4 196.1L92.4 196.1L92.4 196.1L88.3 212.3L81.0 228.5L76.2 244.7L76.2 260.9L76.2 277.1L76.2 293.3L76.2 309.5L76.2 325.7L76.2 341.9L76.2 358.1L76.2 358.1L69.7 358.1L69.7 341.9L69.7 325.7L69.7 309.5L69.7 293.3L69.7 277.1L69.7 260.9L69.7 244.7L73.5 228.5L76.2 220.4L80.2 212.3L85.9 196.1Z"/>
<path fill="#FFFF4D" stroke="#FFFF4D" stroke-width="0.7" d="M92.4 196.1L92.4 196.1L104.9 196.1L100.5 212.3L92.4 223.9L90.5 228.5L85.2 244.7L85.2 260.9L85.2 277.1L85.2 293.3L85.2 309.5L85.2 325.7L85.2 341.9L85.2 358.1L76.2 358.1L76.2 341.9L76.2 325.7L76.2 309.5L76.2 293.3L76.2 277.1L76.2 260.9L76.2 244.7L81.0 228.5L88.3 212.3Z"/>
<path fill="#FFFF80" stroke="#FFFF80" stroke-width="0.7" d="M108.6 196.1L124.8 196.1L124.8 196.1L124.8 196.1L122.1 212.3L108.6 228.5L108.6 228.5L100.5 244.7L100.5 260.9L100.5 277.1L100.5 293.3L100.5 309.5L100.5 325.7L100.5 341.9L100.5 358.1L92.4 358.1L85.2 358.1L85.2 341.9L85.2 325.7L85.2 309.5L85.2 293.3L85.2 277.1L85.2 260.9L85.2 244.7L90.5 228.5L92.4 223.9L100.5 212.3L104.9 196.1Z"/>
<path fill="#FFFFB2" stroke="#FFFFB2" stroke-width="0.7" d="M124.8 196.1L124.8 196.1L141.0 196.1L157.2 196.1L171.6 196.1L171.6 212.3L168.0 228.5L157.2 236.6L150.0 244.7L150.0 260.9L150.0 277.1L150.0 293.3L150.0 309.5L150.0 325.7L150.0 341.9L150.0 358.1L141.0 358.1L124.8 358.1L108.6 358.1L100.5 358.1L100.5 341.9L100.5 325.7L100.5 309.5L100.5 293.3L100.5 277.1L100.5 260.9L100.5 244.7L108.6 228.5L108.6 228.5L122.1 212.3Z"/>
<path fill="#FFFFE6" stroke="#FFFFE6" stroke-width="0.7" d="M173.4 196.1L189.6 196.1L205.8 196.1L205.8 212.3L205.8 228.5L205.8 244.7L205.8 260.9L205.8 277.1L205.8 293.3L205.8 309.5L205.8 325.7L205.8 341.9L205.8 358.1L189.6 358.1L173.4 358.1L157.2 358.1L150.0 358.1L150.0 341.9L150.0 325.7L150.0 309.5L150.0 293.3L150.0 277.1L150.0 260.9L150.0 244.7L157.2 236.6L168.0 228.5L171.6 212.3L171.6 196.1Z"/>
<path d="M60.0 196.1v162.0M43.8 212.3h162.0M76.2 196.1v162.0M43.8 228.5h162.0M92.4 196.1v162.0M43.8 244.7h162.0M108.6 196.1v162.0M43.8 260.9h162.0M124.8 196.1v162.0M43.8 277.1h162.0M141.0 196.1v162.0M43.8 293.3h162.0M157.2 196.1v162.0M43.8 309.5h162.0M173.4 196.1v162.0M43.8 325.7h162.0M189.6 196.1v162.0M43.8 341.9h162.0" stroke="#fff" stroke-width="0.8" stroke-opacity="0.14" fill="none"/>
</g>
<path d="M60.0 196.1v2.5M60.0 358.1v-2.5M43.8 212.3h2.5M205.8 212.3h-2.5M76.2 196.1v2.5M76.2 358.1v-2.5M43.8 228.5h2.5M205.8 228.5h-2.5M92.4 196.1v2.5M92.4 358.1v-2.5M43.8 244.7h2.5M205.8 244.7h-2.5M108.6 196.1v2.5M108.6 358.1v-2.5M43.8 260.9h2.5M205.8 260.9h-2.5M124.8 196.1v2.5M124.8 358.1v-2.5M43.8 277.1h2.5M205.8 277.1h-2.5M141.0 196.1v2.5M141.0 358.1v-2.5M43.8 293.3h2.5M205.8 293.3h-2.5M157.2 196.1v2.5M157.2 358.1v-2.5M43.8 309.5h2.5M205.8 309.5h-2.5M173.4 196.1v2.5M173.4 358.1v-2.5M43.8 325.7h2.5M205.8 325.7h-2.5M189.6 196.1v2.5M189.6 358.1v-2.5M43.8 341.9h2.5M205.8 341.9h-2.5" stroke="#000" stroke-width="1.3" fill="none"/>
<rect x="43.8" y="196.1" width="162.0" height="162.0" fill="none" stroke="#000" stroke-width="2"/>
<text x="124.8" y="338.6" text-anchor="middle" class="s">Network Science</text>
<g><text x="31.85" y="377.30" class="s">0.0</text></g>
<g><text x="112.85" y="377.30" class="s">0.</text><path d="M133.59 377.30L133.59 365.00L132.19 365.00C131.79 366.10 130.59 367.30 128.79 368.00L128.79 369.50C130.19 369.10 131.19 368.50 131.89 367.70L131.89 377.30Z" fill="#000"/></g>
<g transform="rotate(-90 36.4 196.1)"><path d="M30.85 196.10L30.85 183.80L29.45 183.80C29.05 184.90 27.85 186.10 26.05 186.80L26.05 188.30C27.45 187.90 28.45 187.30 29.15 186.50L29.15 196.10Z" fill="#000"/><text x="34.01" y="196.10" class="s">.0</text></g>
<g transform="rotate(-90 36.4 277.1)"><text x="24.45" y="277.10" class="s">0.5</text></g>
<g>
<rect x="224.4" y="196.1" width="162.0" height="162.0" fill="#FF0000"/>
<path fill="#FF0000" stroke="#FF0000" stroke-width="0.7" d="M231.6 212.3L229.6 228.5L228.1 244.7L227.6 260.9L227.4 277.1L227.1 293.3L227.1 309.5L227.1 325.7L227.1 341.9L227.1 358.1L224.4 358.1L224.4 341.9L224.4 325.7L224.4 309.5L224.4 293.3L224.4 277.1L224.4 260.9L224.4 244.7L224.4 228.5L224.4 212.3L224.4 196.1L235.2 196.1Z"/>
<path fill="#FF1200" stroke="#FF1200" stroke-width="0.7" d="M240.6 196.1L243.8 196.1L240.6 212.3L240.6 212.3L236.9 228.5L234.4 244.7L234.1 260.9L233.4 277.1L232.5 293.3L232.5 309.5L232.5 325.7L232.5 341.9L232.5 358.1L227.1 358.1L227.1 341.9L227.1 325.7L227.1 309.5L227.1 293.3L227.4 277.1L227.6 260.9L228.1 244.7L229.6 228.5L231.6 212.3L235.2 196.1Z"/>
<path fill="#FF2400" stroke="#FF2400" stroke-width="0.7" d="M247.1 212.3L243.8 228.5L240.6 244.7L240.6 260.9L240.6 260.9L239.4 277.1L237.9 293.3L237.9 309.5L237.9 325.7L237.9 341.9L237.9 358.1L232.5 358.1L232.5 341.9L232.5 325.7L232.5 309.5L232.5 293.3L233.4 277.1L234.1 260.9L234.4 244.7L236.9 228.5L240.6 212.3L240.6 212.3L243.8 196.1L250.3 196.1Z"/>
<path fill="#FF3700" stroke="#FF3700" stroke-width="0.7" d="M256.8 196.1L256.8 196.1L256.8 196.1L253.6 212.3L250.3 228.5L246.6 244.7L246.0 260.9L244.8 277.1L243.1 293.3L243.1 309.5L243.1 325.7L243.1 341.9L243.1 358.1L240.6 358.1L237.9 358.1L237.9 341.9L237.9 325.7L237.9 309.5L237.9 293.3L239.4 277.1L240.6 260.9L240.6 260.9L240.6 244.7L243.8 228.5L247.1 212.3L250.3 196.1Z"/>
<path fill="#FF4900" stroke="#FF4900" stroke-width="0.7" d="M256.8 196.1L256.8 196.1L263.3 196.1L260.0 212.3L256.8 228.5L256.8 228.5L252.6 244.7L251.4 260.9L250.0 277.1L248.0 293.3L248.0 309.5L248.0 325.7L248.0 341.9L248.0 358.1L243.1 358.1L243.1 341.9L243.1 325.7L243.1 309.5L243.1 293.3L244.8 277.1L246.0 260.9L246.6 244.7L250.3 228.5L253.6 212.3Z"/>
<path fill="#FF5B00" stroke="#FF5B00" stroke-width="0.7" d="M266.5 212.3L263.3 228.5L258.9 244.7L256.8 260.9L256.8 260.9L255.2 277.1L252.9 293.3L252.9 309.5L252.9 325.7L252.9 341.9L252.9 358.1L248.0 358.1L248.0 341.9L248.0 325.7L248.0 309.5L248.0 293.3L250.0 277.1L251.4 260.9L252.6 244.7L256.8 228.5L256.8 228.5L260.0 212.3L263.3 196.1L269.8 196.1Z"/>
<path fill="#FF6D00" stroke="#FF6D00" stroke-width="0.7" d="M273.0 196.1L276.2 196.1L273.0 212.3L273.0 212.3L269.8 228.5L266.0 244.7L263.3 260.9L261.3 277.1L258.1 293.3L258.1 309.5L258.1 325.7L258.1 341.9L258.1 358.1L256.8 358.1L252.9 358.1L252.9 341.9L252.9 325.7L252.9 309.5L252.9 293.3L255.2 277.1L256.8 260.9L256.8 260.9L258.9 244.7L263.3 228.5L266.5 212.3L269.8 196.1Z"/>
<path fill="#FF8000" stroke="#FF8000" stroke-width="0.7" d="M280.0 212.3L276.7 228.5L273.0 244.7L273.0 244.7L269.8 260.9L267.8 277.1L264.6 293.3L264.6 309.5L264.6 325.7L264.6 341.9L264.6 358.1L258.1 358.1L258.1 341.9L258.1 325.7L258.1 309.5L258.1 293.3L261.3 277.1L263.3 260.9L266.0 244.7L269.8 228.5L273.0 212.3L273.0 212.3L276.2 196.1L282.7 196.1Z"/>
<path fill="#FF9200" stroke="#FF9200" stroke-width="0.7" d="M289.2 196.1L289.2 196.1L289.2 196.1L287.1 212.3L284.0 228.5L280.0 244.7L276.7 260.9L274.5 277.1L273.0 283.6L271.1 293.3L271.1 309.5L271.1 325.7L271.1 341.9L271.1 358.1L264.6 358.1L264.6 341.9L264.6 325.7L264.6 309.5L264.6 293.3L267.8 277.1L269.8 260.9L273.0 244.7L273.0 244.7L276.7 228.5L280.0 212.3L282.7 196.1Z"/>
<path fill="#FFA400" stroke="#FFA400" stroke-width="0.7" d="M289.2 196.1L289.2 196.1L297.3 196.1L294.9 212.3L291.5 228.5L289.2 236.6L287.1 244.7L284.0 260.9L281.8 277.1L278.2 293.3L278.2 309.5L278.2 325.7L278.2 341.9L278.2 358.1L273.0 358.1L271.1 358.1L271.1 341.9L271.1 325.7L271.1 309.5L271.1 293.3L273.0 283.6L274.5 277.1L276.7 260.9L280.0 244.7L284.0 228.5L287.1 212.3Z"/>
<path fill="#FFB600" stroke="#FFB600" stroke-width="0.7" d="M305.4 196.1L305.4 196.1L305.4 196.1L303.0 212.3L299.2 228.5L294.4 244.7L291.5 260.9L289.2 277.1L289.2 277.1L285.5 293.3L285.5 309.5L285.5 325.7L285.5 341.9L285.5 358.1L278.2 358.1L278.2 341.9L278.2 325.7L278.2 309.5L278.2 293.3L281.8 277.1L284.0 260.9L287.1 244.7L289.2 236.6L291.5 228.5L294.9 212.3L297.3 196.1Z"/>
<path fill="#FFC800" stroke="#FFC800" stroke-width="0.7" d="M305.4 196.1L305.4 196.1L314.9 196.1L312.1 212.3L307.3 228.5L305.4 233.1L301.7 244.7L299.2 260.9L297.3 277.1L293.7 293.3L293.7 309.5L293.7 325.7L293.7 341.9L293.7 358.1L289.2 358.1L285.5 358.1L285.5 341.9L285.5 325.7L285.5 309.5L285.5 293.3L289.2 277.1L289.2 277.1L291.5 260.9L294.4 244.7L299.2 228.5L303.0 212.3Z"/>
<path fill="#FFDB00" stroke="#FFDB00" stroke-width="0.7" d="M321.6 196.1L325.1 196.1L321.6 212.3L321.6 212.3L316.8 228.5L310.5 244.7L307.7 260.9L305.4 277.1L305.4 277.1L302.7 293.3L302.7 309.5L302.7 325.7L302.7 341.9L302.7 358.1L293.7 358.1L293.7 341.9L293.7 325.7L293.7 309.5L293.7 293.3L297.3 277.1L299.2 260.9L301.7 244.7L305.4 233.1L307.3 228.5L312.1 212.3L314.9 196.1Z"/>
<path fill="#FFED00" stroke="#FFED00" stroke-width="0.7" d="M335.1 212.3L331.7 228.5L321.6 242.0L320.6 244.7L319.3 260.9L317.9 277.1L315.7 293.3L315.7 309.5L315.7 325.7L315.7 341.9L315.7 358.1L305.4 358.1L302.7 358.1L302.7 341.9L302.7 325.7L302.7 309.5L302.7 293.3L305.4 277.1L305.4 277.1L307.7 260.9L310.5 244.7L316.8 228.5L321.6 212.3L321.6 212.3L325.1 196.1L336.6 196.1Z"/>
<path fill="#FFFF00" stroke="#FFFF00" stroke-width="0.7" d="M337.8 196.1L354.0 196.1L370.2 196.1L381.0 196.1L375.6 212.3L370.2 228.5L370.2 228.5L354.0 240.7L351.3 244.7L348.6 260.9L345.9 277.1L341.9 293.3L341.9 309.5L341.9 325.7L341.9 341.9L341.9 358.1L337.8 358.1L321.6 358.1L315.7 358.1L315.7 341.9L315.7 325.7L315.7 309.5L315.7 293.3L317.9 277.1L319.3 260.9L320.6 244.7L321.6 242.0L331.7 228.5L335.1 212.3L336.6 196.1Z"/>
<path fill="#FFFF19" stroke="#FFFF19" stroke-width="0.7" d="M386.4 196.1L386.4 212.3L386.4 228.5L386.4 244.7L386.4 260.9L386.4 277.1L386.4 289.2L383.2 293.3L383.2 309.5L383.2 325.7L383.2 341.9L383.2 358.1L370.2 358.1L354.0 358.1L341.9 358.1L341.9 341.9L341.9 325.7L341.9 309.5L341.9 293.3L345.9 277.1L348.6 260.9L351.3 244.7L354.0 240.7L370.2 228.5L370.2 228.5L375.6 212.3L381.0 196.1Z"/>
<path fill="#FFFF4D" stroke="#FFFF4D" stroke-width="0.7" d="M386.4 289.2L386.4 293.3L386.4 309.5L386.4 325.7L386.4 341.9L386.4 358.1L383.2 358.1L383.2 341.9L383.2 325.7L383.2 309.5L383.2 293.3Z"/>
<path d="M240.6 196.1v162.0M224.4 212.3h162.0M256.8 196.1v162.0M224.4 228.5h162.0M273.0 196.1v162.0M224.4 244.7h162.0M289.2 196.1v162.0M224.4 260.9h162.0M305.4 196.1v162.0M224.4 277.1h162.0M321.6 196.1v162.0M224.4 293.3h162.0M337.8 196.1v162.0M224.4 309.5h162.0M354.0 196.1v162.0M224.4 325.7h162.0M370.2 196.1v162.0M224.4 341.9h162.0" stroke="#fff" stroke-width="0.8" stroke-opacity="0.14" fill="none"/>
</g>
<path d="M240.6 196.1v2.5M240.6 358.1v-2.5M224.4 212.3h2.5M386.4 212.3h-2.5M256.8 196.1v2.5M256.8 358.1v-2.5M224.4 228.5h2.5M386.4 228.5h-2.5M273.0 196.1v2.5M273.0 358.1v-2.5M224.4 244.7h2.5M386.4 244.7h-2.5M289.2 196.1v2.5M289.2 358.1v-2.5M224.4 260.9h2.5M386.4 260.9h-2.5M305.4 196.1v2.5M305.4 358.1v-2.5M224.4 277.1h2.5M386.4 277.1h-2.5M321.6 196.1v2.5M321.6 358.1v-2.5M224.4 293.3h2.5M386.4 293.3h-2.5M337.8 196.1v2.5M337.8 358.1v-2.5M224.4 309.5h2.5M386.4 309.5h-2.5M354.0 196.1v2.5M354.0 358.1v-2.5M224.4 325.7h2.5M386.4 325.7h-2.5M370.2 196.1v2.5M370.2 358.1v-2.5M224.4 341.9h2.5M386.4 341.9h-2.5" stroke="#000" stroke-width="1.3" fill="none"/>
<rect x="224.4" y="196.1" width="162.0" height="162.0" fill="none" stroke="#000" stroke-width="2"/>
<text x="305.4" y="338.6" text-anchor="middle" class="s" textLength="157" lengthAdjust="spacing">Comp. Social Science</text>
<g><text x="212.45" y="377.30" class="s">0.0</text></g>
<g><text x="293.45" y="377.30" class="s">0.</text><path d="M314.19 377.30L314.19 365.00L312.79 365.00C312.39 366.10 311.19 367.30 309.39 368.00L309.39 369.50C310.79 369.10 311.79 368.50 312.49 367.70L312.49 377.30Z" fill="#000"/></g>
<g>
<rect x="405.0" y="196.1" width="162.0" height="162.0" fill="#FF0000"/>
<path fill="#FF0000" stroke="#FF0000" stroke-width="0.7" d="M408.6 212.3L408.1 228.5L407.9 244.7L407.7 260.9L407.7 277.1L407.7 293.3L407.7 309.5L407.7 325.7L407.7 341.9L407.7 358.1L405.0 358.1L405.0 341.9L405.0 325.7L405.0 309.5L405.0 293.3L405.0 277.1L405.0 260.9L405.0 244.7L405.0 228.5L405.0 212.3L405.0 196.1L409.6 196.1Z"/>
<path fill="#FF1200" stroke="#FF1200" stroke-width="0.7" d="M412.2 212.3L411.2 228.5L410.8 244.7L410.4 260.9L410.4 277.1L410.4 293.3L410.4 309.5L410.4 325.7L410.4 341.9L410.4 358.1L407.7 358.1L407.7 341.9L407.7 325.7L407.7 309.5L407.7 293.3L407.7 277.1L407.7 260.9L407.9 244.7L408.1 228.5L408.6 212.3L409.6 196.1L414.3 196.1Z"/>
<path fill="#FF2400" stroke="#FF2400" stroke-width="0.7" d="M415.8 212.3L414.3 228.5L413.7 244.7L413.1 260.9L413.1 277.1L413.1 293.3L413.1 309.5L413.1 325.7L413.1 341.9L413.1 358.1L410.4 358.1L410.4 341.9L410.4 325.7L410.4 309.5L410.4 293.3L410.4 277.1L410.4 260.9L410.8 244.7L411.2 228.5L412.2 212.3L414.3 196.1L418.9 196.1Z"/>
<path fill="#FF3700" stroke="#FF3700" stroke-width="0.7" d="M421.2 196.1L422.6 196.1L421.2 204.2L419.4 212.3L417.5 228.5L416.6 244.7L415.8 260.9L415.8 277.1L415.8 293.3L415.8 309.5L415.8 325.7L415.8 341.9L415.8 358.1L413.1 358.1L413.1 341.9L413.1 325.7L413.1 309.5L413.1 293.3L413.1 277.1L413.1 260.9L413.7 244.7L414.3 228.5L415.8 212.3L418.9 196.1Z"/>
<path fill="#FF4900" stroke="#FF4900" stroke-width="0.7" d="M421.2 204.2L422.6 196.1L425.2 196.1L422.4 212.3L421.2 223.9L420.6 228.5L419.5 244.7L418.5 260.9L418.5 277.1L418.5 293.3L418.5 309.5L418.5 325.7L418.5 341.9L418.5 358.1L415.8 358.1L415.8 341.9L415.8 325.7L415.8 309.5L415.8 293.3L415.8 277.1L415.8 260.9L416.6 244.7L417.5 228.5L419.4 212.3Z"/>
<path fill="#FF5B00" stroke="#FF5B00" stroke-width="0.7" d="M424.9 212.3L423.1 228.5L422.1 244.7L421.2 260.9L421.2 277.1L421.2 293.3L421.2 309.5L421.2 325.7L421.2 341.9L421.2 358.1L421.2 358.1L418.5 358.1L418.5 341.9L418.5 325.7L418.5 309.5L418.5 293.3L418.5 277.1L418.5 260.9L419.5 244.7L420.6 228.5L421.2 223.9L422.4 212.3L425.2 196.1L427.9 196.1Z"/>
<path fill="#FF6D00" stroke="#FF6D00" stroke-width="0.7" d="M427.4 212.3L425.5 228.5L424.4 244.7L423.4 260.9L423.4 277.1L423.4 293.3L423.4 309.5L423.4 325.7L423.4 341.9L423.4 358.1L421.2 358.1L421.2 341.9L421.2 325.7L421.2 309.5L421.2 293.3L421.2 277.1L421.2 260.9L422.1 244.7L423.1 228.5L424.9 212.3L427.9 196.1L430.6 196.1Z"/>
<path fill="#FF8000" stroke="#FF8000" stroke-width="0.7" d="M429.9 212.3L427.9 228.5L426.6 244.7L425.7 260.9L425.6 277.1L425.5 293.3L425.5 309.5L425.5 325.7L425.5 341.9L425.5 358.1L423.4 358.1L423.4 341.9L423.4 325.7L423.4 309.5L423.4 293.3L423.4 277.1L423.4 260.9L424.4 244.7L425.5 228.5L427.4 212.3L430.6 196.1L433.4 196.1Z"/>
<path fill="#FF9200" stroke="#FF9200" stroke-width="0.7" d="M432.4 212.3L430.3 228.5L428.9 244.7L427.9 260.9L427.8 277.1L427.7 293.3L427.7 309.5L427.7 325.7L427.7 341.9L427.7 358.1L425.5 358.1L425.5 341.9L425.5 325.7L425.5 309.5L425.5 293.3L425.6 277.1L425.7 260.9L426.6 244.7L427.9 228.5L429.9 212.3L433.4 196.1L436.1 196.1Z"/>
<path fill="#FFA400" stroke="#FFA400" stroke-width="0.7" d="M437.4 196.1L439.2 196.1L437.4 201.5L434.9 212.3L432.6 228.5L431.1 244.7L430.2 260.9L430.0 277.1L429.8 293.3L429.8 309.5L429.8 325.7L429.8 341.9L429.8 358.1L427.7 358.1L427.7 341.9L427.7 325.7L427.7 309.5L427.7 293.3L427.8 277.1L427.9 260.9L428.9 244.7L430.3 228.5L432.4 212.3L436.1 196.1Z"/>
<path fill="#FFB600" stroke="#FFB600" stroke-width="0.7" d="M437.4 201.5L439.2 196.1L442.9 196.1L437.4 212.3L437.4 212.3L435.0 228.5L433.4 244.7L432.4 260.9L432.1 277.1L432.0 293.3L432.0 309.5L432.0 325.7L432.0 341.9L432.0 358.1L429.8 358.1L429.8 341.9L429.8 325.7L429.8 309.5L429.8 293.3L430.0 277.1L430.2 260.9L431.1 244.7L432.6 228.5L434.9 212.3Z"/>
<path fill="#FFC800" stroke="#FFC800" stroke-width="0.7" d="M442.6 212.3L437.4 228.5L437.4 228.5L435.6 244.7L434.7 260.9L434.3 277.1L434.2 293.3L434.2 309.5L434.2 325.7L434.2 341.9L434.2 358.1L432.0 358.1L432.0 341.9L432.0 325.7L432.0 309.5L432.0 293.3L432.1 277.1L432.4 260.9L433.4 244.7L435.0 228.5L437.4 212.3L437.4 212.3L442.9 196.1L446.5 196.1Z"/>
<path fill="#FFDB00" stroke="#FFDB00" stroke-width="0.7" d="M447.9 212.3L444.4 228.5L439.4 244.7L437.4 252.8L436.9 260.9L436.5 277.1L436.3 293.3L436.3 309.5L436.3 325.7L436.3 341.9L436.3 358.1L434.2 358.1L434.2 341.9L434.2 325.7L434.2 309.5L434.2 293.3L434.3 277.1L434.7 260.9L435.6 244.7L437.4 228.5L437.4 228.5L442.6 212.3L446.5 196.1L450.1 196.1Z"/>
<path fill="#FFED00" stroke="#FFED00" stroke-width="0.7" d="M453.6 196.1L455.1 196.1L453.6 201.5L453.1 212.3L451.5 228.5L449.6 244.7L447.4 260.9L445.9 277.1L444.8 293.3L444.8 309.5L444.8 325.7L444.8 341.9L444.8 358.1L437.4 358.1L436.3 358.1L436.3 341.9L436.3 325.7L436.3 309.5L436.3 293.3L436.5 277.1L436.9 260.9L437.4 252.8L439.4 244.7L444.4 228.5L447.9 212.3L450.1 196.1Z"/>
<path fill="#FFFF00" stroke="#FFFF00" stroke-width="0.7" d="M453.6 201.5L455.1 196.1L469.8 196.1L486.0 196.1L486.0 196.1L486.0 196.1L480.6 212.3L475.2 228.5L472.5 244.7L469.8 260.9L469.8 260.9L466.9 277.1L464.4 293.3L464.4 309.5L464.4 325.7L464.4 341.9L464.4 358.1L453.6 358.1L444.8 358.1L444.8 341.9L444.8 325.7L444.8 309.5L444.8 293.3L445.9 277.1L447.4 260.9L449.6 244.7L451.5 228.5L453.1 212.3Z"/>
<path fill="#FFFF19" stroke="#FFFF19" stroke-width="0.7" d="M486.0 196.1L486.0 196.1L502.2 196.1L502.2 196.1L502.2 196.1L500.4 212.3L498.1 228.5L497.6 244.7L496.8 260.9L496.3 277.1L495.7 293.3L495.7 309.5L495.7 325.7L495.7 341.9L495.7 358.1L486.0 358.1L469.8 358.1L464.4 358.1L464.4 341.9L464.4 325.7L464.4 309.5L464.4 293.3L466.9 277.1L469.8 260.9L469.8 260.9L472.5 244.7L475.2 228.5L480.6 212.3Z"/>
<path fill="#FFFF4D" stroke="#FFFF4D" stroke-width="0.7" d="M502.2 196.1L502.2 196.1L518.4 196.1L533.1 196.1L531.4 212.3L526.5 228.5L522.5 244.7L522.5 260.9L522.0 277.1L521.6 293.3L521.6 309.5L521.6 325.7L521.6 341.9L521.6 358.1L518.4 358.1L502.2 358.1L495.7 358.1L495.7 341.9L495.7 325.7L495.7 309.5L495.7 293.3L496.3 277.1L496.8 260.9L497.6 244.7L498.1 228.5L500.4 212.3Z"/>
<path fill="#FFFF80" stroke="#FFFF80" stroke-width="0.7" d="M534.6 196.1L550.8 196.1L567.0 196.1L567.0 212.3L567.0 228.5L567.0 239.3L563.8 244.7L560.5 260.9L557.3 277.1L556.2 293.3L556.2 309.5L556.2 325.7L556.2 341.9L556.2 358.1L550.8 358.1L534.6 358.1L521.6 358.1L521.6 341.9L521.6 325.7L521.6 309.5L521.6 293.3L522.0 277.1L522.5 260.9L522.5 244.7L526.5 228.5L531.4 212.3L533.1 196.1Z"/>
<path fill="#FFFFB2" stroke="#FFFFB2" stroke-width="0.7" d="M567.0 239.3L567.0 244.7L567.0 260.9L567.0 277.1L567.0 293.3L567.0 309.5L567.0 325.7L567.0 341.9L567.0 358.1L556.2 358.1L556.2 341.9L556.2 325.7L556.2 309.5L556.2 293.3L557.3 277.1L560.5 260.9L563.8 244.7Z"/>
<path d="M421.2 196.1v162.0M405.0 212.3h162.0M437.4 196.1v162.0M405.0 228.5h162.0M453.6 196.1v162.0M405.0 244.7h162.0M469.8 196.1v162.0M405.0 260.9h162.0M486.0 196.1v162.0M405.0 277.1h162.0M502.2 196.1v162.0M405.0 293.3h162.0M518.4 196.1v162.0M405.0 309.5h162.0M534.6 196.1v162.0M405.0 325.7h162.0M550.8 196.1v162.0M405.0 341.9h162.0" stroke="#fff" stroke-width="0.8" stroke-opacity="0.14" fill="none"/>
</g>
<path d="M421.2 196.1v2.5M421.2 358.1v-2.5M405.0 212.3h2.5M567.0 212.3h-2.5M437.4 196.1v2.5M437.4 358.1v-2.5M405.0 228.5h2.5M567.0 228.5h-2.5M453.6 196.1v2.5M453.6 358.1v-2.5M405.0 244.7h2.5M567.0 244.7h-2.5M469.8 196.1v2.5M469.8 358.1v-2.5M405.0 260.9h2.5M567.0 260.9h-2.5M486.0 196.1v2.5M486.0 358.1v-2.5M405.0 277.1h2.5M567.0 277.1h-2.5M502.2 196.1v2.5M502.2 358.1v-2.5M405.0 293.3h2.5M567.0 293.3h-2.5M518.4 196.1v2.5M518.4 358.1v-2.5M405.0 309.5h2.5M567.0 309.5h-2.5M534.6 196.1v2.5M534.6 358.1v-2.5M405.0 325.7h2.5M567.0 325.7h-2.5M550.8 196.1v2.5M550.8 358.1v-2.5M405.0 341.9h2.5M567.0 341.9h-2.5" stroke="#000" stroke-width="1.3" fill="none"/>
<rect x="405.0" y="196.1" width="162.0" height="162.0" fill="none" stroke="#000" stroke-width="2"/>
<text x="486.0" y="338.6" text-anchor="middle" class="s">Total</text>
<g><text x="393.05" y="377.30" class="s">0.0</text></g>
<g><text x="474.05" y="377.30" class="s">0.</text><path d="M494.79 377.30L494.79 365.00L493.39 365.00C492.99 366.10 491.79 367.30 489.99 368.00L489.99 369.50C491.39 369.10 492.39 368.50 493.09 367.70L493.09 377.30Z" fill="#000"/></g>
<g transform="rotate(-90 586.3 277.1)"><text x="574.35" y="277.10" class="s">0.5</text></g>
<g transform="rotate(-90 586.3 358.1)"><text x="574.35" y="358.10" class="s">0.0</text></g>
<text x="305.4" y="393.6" text-anchor="middle" class="s">Genericness</text>
<text x="14.8" y="195.9" text-anchor="middle" transform="rotate(-90 14.8 195.9)" class="s" style="font-size:17.5px">Specificity</text>
<rect x="621.4" y="109.50" width="17.4" height="162.00" fill="#FF0000"/>
<rect x="621.4" y="109.50" width="17.4" height="153.90" fill="#FF1200"/>
<rect x="621.4" y="109.50" width="17.4" height="145.80" fill="#FF2400"/>
<rect x="621.4" y="109.50" width="17.4" height="137.70" fill="#FF3700"/>
<rect x="621.4" y="109.50" width="17.4" height="129.60" fill="#FF4900"/>
<rect x="621.4" y="109.50" width="17.4" height="121.50" fill="#FF5B00"/>
<rect x="621.4" y="109.50" width="17.4" height="113.40" fill="#FF6D00"/>
<rect x="621.4" y="109.50" width="17.4" height="105.30" fill="#FF8000"/>
<rect x="621.4" y="109.50" width="17.4" height="97.20" fill="#FF9200"/>
<rect x="621.4" y="109.50" width="17.4" height="89.10" fill="#FFA400"/>
<rect x="621.4" y="109.50" width="17.4" height="81.00" fill="#FFB600"/>
<rect x="621.4" y="109.50" width="17.4" height="72.90" fill="#FFC800"/>
<rect x="621.4" y="109.50" width="17.4" height="64.80" fill="#FFDB00"/>
<rect x="621.4" y="109.50" width="17.4" height="56.70" fill="#FFED00"/>
<rect x="621.4" y="109.50" width="17.4" height="48.60" fill="#FFFF00"/>
<rect x="621.4" y="109.50" width="17.4" height="40.50" fill="#FFFF19"/>
<rect x="621.4" y="109.50" width="17.4" height="32.40" fill="#FFFF4D"/>
<rect x="621.4" y="109.50" width="17.4" height="24.30" fill="#FFFF80"/>
<rect x="621.4" y="109.50" width="17.4" height="16.20" fill="#FFFFB2"/>
<rect x="621.4" y="109.50" width="17.4" height="8.10" fill="#FFFFE6"/>
<path d="M621.4 125.7h2.5M638.8 125.7h-2.5M621.4 141.9h2.5M638.8 141.9h-2.5M621.4 158.1h2.5M638.8 158.1h-2.5M621.4 174.3h2.5M638.8 174.3h-2.5M621.4 190.5h2.5M638.8 190.5h-2.5M621.4 206.7h2.5M638.8 206.7h-2.5M621.4 222.9h2.5M638.8 222.9h-2.5M621.4 239.1h2.5M638.8 239.1h-2.5M621.4 255.3h2.5M638.8 255.3h-2.5" stroke="#000" stroke-width="1.3" fill="none"/>
<rect x="621.4" y="109.5" width="17.4" height="162.0" fill="none" stroke="#000" stroke-width="2"/>
<g transform="rotate(-90 657.4 109.5)"><path d="M651.85 109.50L651.85 97.20L650.45 97.20C650.05 98.30 648.85 99.50 647.05 100.20L647.05 101.70C648.45 101.30 649.45 100.70 650.15 99.90L650.15 109.50Z" fill="#000"/><text x="655.01" y="109.50" class="s">.0</text></g>
<g transform="rotate(-90 657.4 190.5)"><text x="645.45" y="190.50" class="s">0.5</text></g>
<g transform="rotate(-90 657.4 271.5)"><text x="645.45" y="271.50" class="s">0.0</text></g>
<text x="678.0" y="191.0" text-anchor="middle" transform="rotate(-90 678.0 191.0)" class="s">Recall</text>
<g>
<rect x="43.8" y="441.4" width="162.0" height="162.0" fill="#FF6D00"/>
<path fill="#FF6D00" stroke="#FF6D00" stroke-width="0.7" d="M205.8 587.2L205.8 587.2L205.8 603.4L189.6 603.4L173.4 603.4L157.2 603.4L141.0 603.4L141.0 603.4L141.0 603.4L157.2 599.3L173.4 595.3L189.6 591.2L205.8 587.2Z"/>
<path fill="#FF8000" stroke="#FF8000" stroke-width="0.7" d="M157.2 554.8L173.4 550.2L189.6 548.7L205.8 547.6L205.8 554.8L205.8 571.0L205.8 587.2L205.8 587.2L189.6 591.2L173.4 595.3L157.2 599.3L141.0 603.4L141.0 603.4L124.8 603.4L108.6 603.4L92.4 603.4L92.4 603.4L92.4 603.4L103.2 587.2L108.6 581.8L124.8 571.0L124.8 571.0L141.0 562.9L157.2 554.8Z"/>
<path fill="#FF9200" stroke="#FF9200" stroke-width="0.7" d="M108.6 522.4L124.8 521.8L141.0 521.1L157.2 521.0L173.4 520.9L189.6 520.9L205.8 520.9L205.8 522.4L205.8 538.6L205.8 547.6L189.6 548.7L173.4 550.2L157.2 554.8L157.2 554.8L141.0 562.9L124.8 571.0L124.8 571.0L108.6 581.8L103.2 587.2L92.4 603.4L92.4 603.4L76.2 603.4L73.2 603.4L76.2 587.2L76.2 587.2L80.8 571.0L87.8 554.8L92.4 548.3L102.1 538.6L108.6 522.4Z"/>
<path fill="#FFA400" stroke="#FFA400" stroke-width="0.7" d="M76.2 522.4L92.4 519.0L108.6 516.4L124.8 515.5L141.0 514.6L157.2 514.3L173.4 513.6L189.6 513.6L205.8 513.6L205.8 520.9L189.6 520.9L173.4 520.9L157.2 521.0L141.0 521.1L124.8 521.8L108.6 522.4L108.6 522.4L102.1 538.6L92.4 548.3L87.8 554.8L80.8 571.0L76.2 587.2L76.2 587.2L73.2 603.4L63.0 603.4L63.7 587.2L66.2 571.0L70.0 554.8L73.9 538.6L76.2 522.4Z"/>
<path fill="#FFB600" stroke="#FFB600" stroke-width="0.7" d="M173.4 506.2L189.6 506.2L205.8 506.2L205.8 506.2L205.8 513.6L189.6 513.6L173.4 513.6L157.2 514.3L141.0 514.6L124.8 515.5L108.6 516.4L92.4 519.0L76.2 522.4L76.2 522.4L73.9 538.6L70.0 554.8L66.2 571.0L63.7 587.2L63.0 603.4L60.0 603.4L58.7 603.4L58.7 587.2L59.0 571.0L59.6 554.8L60.0 546.7L62.3 538.6L67.2 522.4L76.2 515.4L92.4 512.3L108.6 510.4L124.8 509.3L141.0 508.1L157.2 507.5L173.4 506.2Z"/>
<path fill="#FFC800" stroke="#FFC800" stroke-width="0.7" d="M92.4 505.5L108.6 504.1L124.8 502.8L141.0 501.7L157.2 501.0L173.4 500.0L189.6 499.7L205.8 499.7L205.8 506.2L189.6 506.2L173.4 506.2L173.4 506.2L157.2 507.5L141.0 508.1L124.8 509.3L108.6 510.4L92.4 512.3L76.2 515.4L67.2 522.4L62.3 538.6L60.0 546.7L59.6 554.8L59.0 571.0L58.7 587.2L58.7 603.4L56.8 603.4L56.8 587.2L57.1 571.0L57.6 554.8L58.3 538.6L59.5 522.4L60.0 520.2L76.2 508.3L88.4 506.2Z"/>
<path fill="#FFDB00" stroke="#FFDB00" stroke-width="0.7" d="M76.2 499.5L92.4 498.1L108.6 497.0L124.8 496.1L141.0 495.2L157.2 494.5L173.4 493.7L189.6 493.2L205.8 493.2L205.8 499.7L189.6 499.7L173.4 500.0L157.2 501.0L141.0 501.7L124.8 502.8L108.6 504.1L92.4 505.5L88.4 506.2L76.2 508.3L60.0 520.2L59.5 522.4L58.3 538.6L57.6 554.8L57.1 571.0L56.8 587.2L56.8 603.4L55.0 603.4L55.0 587.2L55.2 571.0L55.7 554.8L56.3 538.6L57.3 522.4L60.0 509.4L64.9 506.2Z"/>
<path fill="#FFED00" stroke="#FFED00" stroke-width="0.7" d="M76.2 490.0L76.2 490.0L92.4 490.7L108.6 490.0L108.6 490.0L124.8 489.2L141.0 488.5L157.2 487.9L173.4 487.3L189.6 486.8L205.8 486.8L205.8 490.0L205.8 493.2L189.6 493.2L173.4 493.7L157.2 494.5L141.0 495.2L124.8 496.1L108.6 497.0L92.4 498.1L76.2 499.5L64.9 506.2L60.0 509.4L57.3 522.4L56.3 538.6L55.7 554.8L55.2 571.0L55.0 587.2L55.0 603.4L53.1 603.4L53.1 587.2L53.3 571.0L53.7 554.8L54.2 538.6L55.0 522.4L58.0 506.2L60.0 493.6L76.2 490.0Z"/>
<path fill="#FFFF00" stroke="#FFFF00" stroke-width="0.7" d="M60.0 472.3L65.4 473.8L76.2 478.4L92.4 480.3L108.6 481.0L124.8 481.1L141.0 481.2L157.2 480.8L173.4 480.5L189.6 480.3L205.8 480.3L205.8 486.8L189.6 486.8L173.4 487.3L157.2 487.9L141.0 488.5L124.8 489.2L108.6 490.0L108.6 490.0L92.4 490.7L76.2 490.0L76.2 490.0L76.2 490.0L60.0 493.6L58.0 506.2L55.0 522.4L54.2 538.6L53.7 554.8L53.3 571.0L53.1 587.2L53.1 603.4L51.2 603.4L51.2 587.2L51.4 571.0L51.7 554.8L52.1 538.6L52.8 522.4L55.2 506.2L57.3 490.0L59.2 473.8Z"/>
<path fill="#FFFF19" stroke="#FFFF19" stroke-width="0.7" d="M60.0 465.0L76.2 470.1L92.4 471.5L108.6 472.6L124.8 473.2L141.0 473.8L157.2 473.8L173.4 473.8L189.6 473.8L205.8 473.8L205.8 473.8L205.8 480.3L189.6 480.3L173.4 480.5L157.2 480.8L141.0 481.2L124.8 481.1L108.6 481.0L92.4 480.3L76.2 478.4L65.4 473.8L60.0 472.3L59.2 473.8L57.3 490.0L55.2 506.2L52.8 522.4L52.1 538.6L51.7 554.8L51.4 571.0L51.2 587.2L51.2 603.4L49.4 603.4L49.4 587.2L49.5 571.0L49.7 554.8L50.0 538.6L50.5 522.4L52.3 506.2L53.9 490.0L55.4 473.8Z"/>
<path fill="#FFFF4D" stroke="#FFFF4D" stroke-width="0.7" d="M60.0 457.6L60.0 457.6L76.2 463.8L92.4 465.7L108.6 466.6L124.8 466.9L141.0 467.6L157.2 467.6L173.4 467.6L189.6 467.6L205.8 467.6L205.8 473.8L189.6 473.8L173.4 473.8L157.2 473.8L141.0 473.8L124.8 473.2L108.6 472.6L92.4 471.5L76.2 470.1L60.0 465.0L55.4 473.8L53.9 490.0L52.3 506.2L50.5 522.4L50.0 538.6L49.7 554.8L49.5 571.0L49.4 587.2L49.4 603.4L47.5 603.4L47.5 587.2L47.6 571.0L47.8 554.8L48.0 538.6L48.3 522.4L49.5 506.2L50.5 490.0L51.5 473.8L60.0 457.6Z"/>
<path fill="#FFFF80" stroke="#FFFF80" stroke-width="0.7" d="M60.0 453.5L76.2 457.6L76.2 457.6L92.4 459.9L108.6 460.6L124.8 460.7L141.0 461.3L157.2 461.3L173.4 461.3L189.6 461.3L205.8 461.3L205.8 467.6L189.6 467.6L173.4 467.6L157.2 467.6L141.0 467.6L124.8 466.9L108.6 466.6L92.4 465.7L76.2 463.8L60.0 457.6L60.0 457.6L60.0 457.6L51.5 473.8L50.5 490.0L49.5 506.2L48.3 522.4L48.0 538.6L47.8 554.8L47.6 571.0L47.5 587.2L47.5 603.4L45.7 603.4L45.7 587.2L45.7 571.0L45.8 554.8L45.9 538.6L46.0 522.4L46.6 506.2L47.2 490.0L47.7 473.8L53.5 457.6Z"/>
<path fill="#FFFFB2" stroke="#FFFFB2" stroke-width="0.7" d="M60.0 449.5L76.2 452.2L92.4 453.9L108.6 454.4L124.8 454.4L141.0 454.9L157.2 454.9L173.4 454.9L189.6 454.9L205.8 454.9L205.8 457.6L205.8 461.3L189.6 461.3L173.4 461.3L157.2 461.3L141.0 461.3L124.8 460.7L108.6 460.6L92.4 459.9L76.2 457.6L76.2 457.6L60.0 453.5L53.5 457.6L47.7 473.8L47.2 490.0L46.6 506.2L46.0 522.4L45.9 538.6L45.8 554.8L45.7 571.0L45.7 587.2L45.7 603.4L43.8 603.4L43.8 587.2L43.8 571.0L43.8 554.8L43.8 538.6L43.8 522.4L43.8 506.2L43.8 490.0L43.8 473.8L43.8 473.8L47.0 457.6Z"/>
<path fill="#FFFFE6" stroke="#FFFFE6" stroke-width="0.7" d="M60.0 441.4L76.2 441.4L92.4 441.4L108.6 441.4L124.8 441.4L141.0 441.4L157.2 441.4L173.4 441.4L189.6 441.4L205.8 441.4L205.8 454.9L189.6 454.9L173.4 454.9L157.2 454.9L141.0 454.9L124.8 454.4L108.6 454.4L92.4 453.9L76.2 452.2L60.0 449.5L47.0 457.6L43.8 473.8L43.8 457.6L43.8 441.4Z"/>
<path d="M60.0 441.4v162.0M43.8 457.6h162.0M76.2 441.4v162.0M43.8 473.8h162.0M92.4 441.4v162.0M43.8 490.0h162.0M108.6 441.4v162.0M43.8 506.2h162.0M124.8 441.4v162.0M43.8 522.4h162.0M141.0 441.4v162.0M43.8 538.6h162.0M157.2 441.4v162.0M43.8 554.8h162.0M173.4 441.4v162.0M43.8 571.0h162.0M189.6 441.4v162.0M43.8 587.2h162.0" stroke="#fff" stroke-width="0.8" stroke-opacity="0.14" fill="none"/>
</g>
<path d="M60.0 441.4v2.5M60.0 603.4v-2.5M43.8 457.6h2.5M205.8 457.6h-2.5M76.2 441.4v2.5M76.2 603.4v-2.5M43.8 473.8h2.5M205.8 473.8h-2.5M92.4 441.4v2.5M92.4 603.4v-2.5M43.8 490.0h2.5M205.8 490.0h-2.5M108.6 441.4v2.5M108.6 603.4v-2.5M43.8 506.2h2.5M205.8 506.2h-2.5M124.8 441.4v2.5M124.8 603.4v-2.5M43.8 522.4h2.5M205.8 522.4h-2.5M141.0 441.4v2.5M141.0 603.4v-2.5M43.8 538.6h2.5M205.8 538.6h-2.5M157.2 441.4v2.5M157.2 603.4v-2.5M43.8 554.8h2.5M205.8 554.8h-2.5M173.4 441.4v2.5M173.4 603.4v-2.5M43.8 571.0h2.5M205.8 571.0h-2.5M189.6 441.4v2.5M189.6 603.4v-2.5M43.8 587.2h2.5M205.8 587.2h-2.5" stroke="#000" stroke-width="1.3" fill="none"/>
<rect x="43.8" y="441.4" width="162.0" height="162.0" fill="none" stroke="#000" stroke-width="2"/>
<text x="124.8" y="583.9" text-anchor="middle" class="s">Soc. Psy.& Epidem.</text>
<g><text x="112.85" y="434.30" class="s">0.</text><path d="M133.59 434.30L133.59 422.00L132.19 422.00C131.79 423.10 130.59 424.30 128.79 425.00L128.79 426.50C130.19 426.10 131.19 425.50 131.89 424.70L131.89 434.30Z" fill="#000"/></g>
<g><text x="193.85" y="434.30" class="s">0.2</text></g>
<g transform="rotate(-90 36.4 441.4)"><path d="M30.85 441.40L30.85 429.10L29.45 429.10C29.05 430.20 27.85 431.40 26.05 432.10L26.05 433.60C27.45 433.20 28.45 432.60 29.15 431.80L29.15 441.40Z" fill="#000"/><text x="34.01" y="441.40" class="s">.0</text></g>
<g transform="rotate(-90 36.4 522.4)"><text x="24.45" y="522.40" class="s">0.5</text></g>
<g>
<rect x="224.4" y="441.4" width="162.0" height="162.0" fill="#FFDB00"/>
<path fill="#FFDB00" stroke="#FFDB00" stroke-width="0.7" d="M386.4 587.2L386.4 587.2L386.4 603.4L370.2 603.4L362.1 603.4L370.2 595.3L386.4 587.2Z"/>
<path fill="#FFED00" stroke="#FFED00" stroke-width="0.7" d="M337.8 538.6L354.0 535.9L370.2 532.1L386.4 535.9L386.4 538.6L386.4 554.8L386.4 571.0L386.4 587.2L386.4 587.2L370.2 595.3L362.1 603.4L354.0 603.4L337.8 603.4L321.6 603.4L305.4 603.4L297.3 603.4L305.4 587.2L305.4 587.2L310.8 571.0L316.2 554.8L321.6 549.4L337.8 538.6Z"/>
<path fill="#FFFF00" stroke="#FFFF00" stroke-width="0.7" d="M256.8 514.3L273.0 513.1L289.2 512.3L305.4 512.3L321.6 513.4L337.8 513.4L354.0 514.3L370.2 512.9L386.4 514.3L386.4 522.4L386.4 535.9L370.2 532.1L354.0 535.9L337.8 538.6L337.8 538.6L321.6 549.4L316.2 554.8L310.8 571.0L305.4 587.2L305.4 587.2L297.3 603.4L289.2 603.4L273.0 603.4L256.8 603.4L240.6 603.4L240.6 603.4L240.6 587.2L240.6 571.0L240.6 554.8L240.6 538.6L240.6 538.6L247.1 522.4Z"/>
<path fill="#FFFF19" stroke="#FFFF19" stroke-width="0.7" d="M240.6 498.1L256.8 496.8L273.0 496.8L289.2 496.8L305.4 496.8L321.6 498.1L337.8 498.1L354.0 499.4L370.2 499.4L386.4 499.4L386.4 506.2L386.4 514.3L370.2 512.9L354.0 514.3L337.8 513.4L321.6 513.4L305.4 512.3L289.2 512.3L273.0 513.1L256.8 514.3L247.1 522.4L240.6 538.6L240.6 538.6L240.6 554.8L240.6 571.0L240.6 587.2L240.6 603.4L235.2 603.4L235.5 587.2L235.7 571.0L235.8 554.8L236.0 538.6L236.7 522.4L238.0 506.2Z"/>
<path fill="#FFFF4D" stroke="#FFFF4D" stroke-width="0.7" d="M240.6 483.8L256.8 484.6L273.0 484.6L289.2 484.6L305.4 484.6L321.6 485.7L337.8 485.7L354.0 486.8L370.2 486.8L386.4 486.8L386.4 490.0L386.4 499.4L370.2 499.4L354.0 499.4L337.8 498.1L321.6 498.1L305.4 496.8L289.2 496.8L273.0 496.8L256.8 496.8L240.6 498.1L238.0 506.2L236.7 522.4L236.0 538.6L235.8 554.8L235.7 571.0L235.5 587.2L235.2 603.4L229.8 603.4L230.5 587.2L230.8 571.0L231.1 554.8L231.3 538.6L231.8 522.4L232.8 506.2L236.9 490.0Z"/>
<path fill="#FFFF80" stroke="#FFFF80" stroke-width="0.7" d="M240.6 470.9L256.8 473.8L273.0 473.8L289.2 473.8L305.4 473.8L305.4 473.8L321.6 474.9L337.8 474.9L354.0 476.0L370.2 476.0L386.4 476.0L386.4 486.8L370.2 486.8L354.0 486.8L337.8 485.7L321.6 485.7L305.4 484.6L289.2 484.6L273.0 484.6L256.8 484.6L240.6 483.8L236.9 490.0L232.8 506.2L231.8 522.4L231.3 538.6L231.1 554.8L230.8 571.0L230.5 587.2L229.8 603.4L224.4 603.4L224.4 603.4L225.4 587.2L225.9 571.0L226.3 554.8L226.7 538.6L226.9 522.4L227.5 506.2L229.6 490.0L237.7 473.8Z"/>
<path fill="#FFFFB2" stroke="#FFFFB2" stroke-width="0.7" d="M240.6 454.9L246.0 457.6L256.8 460.3L273.0 461.3L289.2 462.2L305.4 462.2L321.6 463.4L337.8 463.4L354.0 463.8L370.2 463.8L386.4 463.8L386.4 473.8L386.4 476.0L370.2 476.0L354.0 476.0L337.8 474.9L321.6 474.9L305.4 473.8L305.4 473.8L289.2 473.8L273.0 473.8L256.8 473.8L240.6 470.9L237.7 473.8L229.6 490.0L227.5 506.2L226.9 522.4L226.7 538.6L226.3 554.8L225.9 571.0L225.4 587.2L224.4 603.4L224.4 587.2L224.4 571.0L224.4 554.8L224.4 538.6L224.4 522.4L224.4 506.2L224.4 490.0L224.4 473.8L224.4 468.4L235.2 457.6Z"/>
<path fill="#FFFFE6" stroke="#FFFFE6" stroke-width="0.7" d="M240.6 441.4L256.8 441.4L273.0 441.4L289.2 441.4L305.4 441.4L321.6 441.4L337.8 441.4L354.0 441.4L370.2 441.4L386.4 441.4L386.4 457.6L386.4 463.8L370.2 463.8L354.0 463.8L337.8 463.4L321.6 463.4L305.4 462.2L289.2 462.2L273.0 461.3L256.8 460.3L246.0 457.6L240.6 454.9L235.2 457.6L224.4 468.4L224.4 457.6L224.4 441.4Z"/>
<path d="M240.6 441.4v162.0M224.4 457.6h162.0M256.8 441.4v162.0M224.4 473.8h162.0M273.0 441.4v162.0M224.4 490.0h162.0M289.2 441.4v162.0M224.4 506.2h162.0M305.4 441.4v162.0M224.4 522.4h162.0M321.6 441.4v162.0M224.4 538.6h162.0M337.8 441.4v162.0M224.4 554.8h162.0M354.0 441.4v162.0M224.4 571.0h162.0M370.2 441.4v162.0M224.4 587.2h162.0" stroke="#fff" stroke-width="0.8" stroke-opacity="0.14" fill="none"/>
</g>
<path d="M240.6 441.4v2.5M240.6 603.4v-2.5M224.4 457.6h2.5M386.4 457.6h-2.5M256.8 441.4v2.5M256.8 603.4v-2.5M224.4 473.8h2.5M386.4 473.8h-2.5M273.0 441.4v2.5M273.0 603.4v-2.5M224.4 490.0h2.5M386.4 490.0h-2.5M289.2 441.4v2.5M289.2 603.4v-2.5M224.4 506.2h2.5M386.4 506.2h-2.5M305.4 441.4v2.5M305.4 603.4v-2.5M224.4 522.4h2.5M386.4 522.4h-2.5M321.6 441.4v2.5M321.6 603.4v-2.5M224.4 538.6h2.5M386.4 538.6h-2.5M337.8 441.4v2.5M337.8 603.4v-2.5M224.4 554.8h2.5M386.4 554.8h-2.5M354.0 441.4v2.5M354.0 603.4v-2.5M224.4 571.0h2.5M386.4 571.0h-2.5M370.2 441.4v2.5M370.2 603.4v-2.5M224.4 587.2h2.5M386.4 587.2h-2.5" stroke="#000" stroke-width="1.3" fill="none"/>
<rect x="224.4" y="441.4" width="162.0" height="162.0" fill="none" stroke="#000" stroke-width="2"/>
<text x="305.4" y="583.9" text-anchor="middle" class="s">Economic Sociology</text>
<g><text x="293.45" y="434.30" class="s">0.</text><path d="M314.19 434.30L314.19 422.00L312.79 422.00C312.39 423.10 311.19 424.30 309.39 425.00L309.39 426.50C310.79 426.10 311.79 425.50 312.49 424.70L312.49 434.30Z" fill="#000"/></g>
<g><text x="374.45" y="434.30" class="s">0.2</text></g>
<g>
<rect x="405.0" y="441.4" width="162.0" height="162.0" fill="#FFFFB2"/>
<path fill="#FFFFB2" stroke="#FFFFB2" stroke-width="0.7" d="M421.2 451.5L427.3 457.6L425.8 473.8L424.9 490.0L423.9 506.2L421.2 522.4L421.2 522.4L421.2 522.4L418.5 506.2L417.5 490.0L416.6 473.8L415.1 457.6Z"/>
<path fill="#FFFFE6" stroke="#FFFFE6" stroke-width="0.7" d="M421.2 441.4L437.4 441.4L453.6 441.4L469.8 441.4L486.0 441.4L502.2 441.4L518.4 441.4L534.6 441.4L550.8 441.4L567.0 441.4L567.0 457.6L567.0 473.8L567.0 490.0L567.0 506.2L567.0 522.4L567.0 538.6L567.0 554.8L567.0 571.0L567.0 587.2L567.0 603.4L550.8 603.4L534.6 603.4L518.4 603.4L502.2 603.4L486.0 603.4L469.8 603.4L453.6 603.4L437.4 603.4L421.2 603.4L405.0 603.4L405.0 587.2L405.0 571.0L405.0 554.8L405.0 538.6L405.0 522.4L405.0 506.2L405.0 490.0L405.0 473.8L405.0 457.6L405.0 441.4ZM415.1 457.6L416.6 473.8L417.5 490.0L418.5 506.2L421.2 522.4L421.2 522.4L421.2 522.4L423.9 506.2L424.9 490.0L425.8 473.8L427.3 457.6L421.2 451.5Z"/>
<path d="M421.2 441.4v162.0M405.0 457.6h162.0M437.4 441.4v162.0M405.0 473.8h162.0M453.6 441.4v162.0M405.0 490.0h162.0M469.8 441.4v162.0M405.0 506.2h162.0M486.0 441.4v162.0M405.0 522.4h162.0M502.2 441.4v162.0M405.0 538.6h162.0M518.4 441.4v162.0M405.0 554.8h162.0M534.6 441.4v162.0M405.0 571.0h162.0M550.8 441.4v162.0M405.0 587.2h162.0" stroke="#fff" stroke-width="0.8" stroke-opacity="0.14" fill="none"/>
</g>
<path d="M421.2 441.4v2.5M421.2 603.4v-2.5M405.0 457.6h2.5M567.0 457.6h-2.5M437.4 441.4v2.5M437.4 603.4v-2.5M405.0 473.8h2.5M567.0 473.8h-2.5M453.6 441.4v2.5M453.6 603.4v-2.5M405.0 490.0h2.5M567.0 490.0h-2.5M469.8 441.4v2.5M469.8 603.4v-2.5M405.0 506.2h2.5M567.0 506.2h-2.5M486.0 441.4v2.5M486.0 603.4v-2.5M405.0 522.4h2.5M567.0 522.4h-2.5M502.2 441.4v2.5M502.2 603.4v-2.5M405.0 538.6h2.5M567.0 538.6h-2.5M518.4 441.4v2.5M518.4 603.4v-2.5M405.0 554.8h2.5M567.0 554.8h-2.5M534.6 441.4v2.5M534.6 603.4v-2.5M405.0 571.0h2.5M567.0 571.0h-2.5M550.8 441.4v2.5M550.8 603.4v-2.5M405.0 587.2h2.5M567.0 587.2h-2.5" stroke="#000" stroke-width="1.3" fill="none"/>
<rect x="405.0" y="441.4" width="162.0" height="162.0" fill="none" stroke="#000" stroke-width="2"/>
<text x="486.0" y="583.9" text-anchor="middle" class="s">Social Network Anal.</text>
<g><text x="474.05" y="434.30" class="s">0.</text><path d="M494.79 434.30L494.79 422.00L493.39 422.00C492.99 423.10 491.79 424.30 489.99 425.00L489.99 426.50C491.39 426.10 492.39 425.50 493.09 424.70L493.09 434.30Z" fill="#000"/></g>
<g><text x="555.05" y="434.30" class="s">0.2</text></g>
<g transform="rotate(-90 586.3 522.4)"><text x="574.35" y="522.40" class="s">0.5</text></g>
<g transform="rotate(-90 586.3 603.4)"><text x="574.35" y="603.40" class="s">0.0</text></g>
<g>
<rect x="43.8" y="614.8" width="162.0" height="162.0" fill="#FFFFE6"/>
<path fill="#FFFFE6" stroke="#FFFFE6" stroke-width="0.7" d="M60.0 614.8L76.2 614.8L92.4 614.8L108.6 614.8L124.8 614.8L141.0 614.8L157.2 614.8L173.4 614.8L189.6 614.8L205.8 614.8L205.8 631.0L205.8 647.2L205.8 663.4L205.8 679.6L205.8 695.8L205.8 712.0L205.8 728.2L205.8 744.4L205.8 760.6L205.8 776.8L189.6 776.8L173.4 776.8L157.2 776.8L141.0 776.8L124.8 776.8L108.6 776.8L92.4 776.8L76.2 776.8L60.0 776.8L43.8 776.8L43.8 760.6L43.8 744.4L43.8 728.2L43.8 712.0L43.8 695.8L43.8 679.6L43.8 663.4L43.8 647.2L43.8 631.0L43.8 614.8Z"/>
<path d="M60.0 614.8v162.0M43.8 631.0h162.0M76.2 614.8v162.0M43.8 647.2h162.0M92.4 614.8v162.0M43.8 663.4h162.0M108.6 614.8v162.0M43.8 679.6h162.0M124.8 614.8v162.0M43.8 695.8h162.0M141.0 614.8v162.0M43.8 712.0h162.0M157.2 614.8v162.0M43.8 728.2h162.0M173.4 614.8v162.0M43.8 744.4h162.0M189.6 614.8v162.0M43.8 760.6h162.0" stroke="#fff" stroke-width="0.8" stroke-opacity="0.14" fill="none"/>
</g>
<path d="M60.0 614.8v2.5M60.0 776.8v-2.5M43.8 631.0h2.5M205.8 631.0h-2.5M76.2 614.8v2.5M76.2 776.8v-2.5M43.8 647.2h2.5M205.8 647.2h-2.5M92.4 614.8v2.5M92.4 776.8v-2.5M43.8 663.4h2.5M205.8 663.4h-2.5M108.6 614.8v2.5M108.6 776.8v-2.5M43.8 679.6h2.5M205.8 679.6h-2.5M124.8 614.8v2.5M124.8 776.8v-2.5M43.8 695.8h2.5M205.8 695.8h-2.5M141.0 614.8v2.5M141.0 776.8v-2.5M43.8 712.0h2.5M205.8 712.0h-2.5M157.2 614.8v2.5M157.2 776.8v-2.5M43.8 728.2h2.5M205.8 728.2h-2.5M173.4 614.8v2.5M173.4 776.8v-2.5M43.8 744.4h2.5M205.8 744.4h-2.5M189.6 614.8v2.5M189.6 776.8v-2.5M43.8 760.6h2.5M205.8 760.6h-2.5" stroke="#000" stroke-width="1.3" fill="none"/>
<rect x="43.8" y="614.8" width="162.0" height="162.0" fill="none" stroke="#000" stroke-width="2"/>
<text x="124.8" y="757.3" text-anchor="middle" class="s">Network Science</text>
<g><text x="31.85" y="796.00" class="s">0.0</text></g>
<g><text x="112.85" y="796.00" class="s">0.</text><path d="M133.59 796.00L133.59 783.70L132.19 783.70C131.79 784.80 130.59 786.00 128.79 786.70L128.79 788.20C130.19 787.80 131.19 787.20 131.89 786.40L131.89 796.00Z" fill="#000"/></g>
<g transform="rotate(-90 36.4 614.8)"><path d="M30.85 614.80L30.85 602.50L29.45 602.50C29.05 603.60 27.85 604.80 26.05 605.50L26.05 607.00C27.45 606.60 28.45 606.00 29.15 605.20L29.15 614.80Z" fill="#000"/><text x="34.01" y="614.80" class="s">.0</text></g>
<g transform="rotate(-90 36.4 695.8)"><text x="24.45" y="695.80" class="s">0.5</text></g>
<g>
<rect x="224.4" y="614.8" width="162.0" height="162.0" fill="#FFDB00"/>
<path fill="#FFDB00" stroke="#FFDB00" stroke-width="0.7" d="M240.6 742.6L244.6 744.4L250.3 760.6L251.4 776.8L240.6 776.8L239.9 776.8L239.6 760.6L240.3 744.4Z"/>
<path fill="#FFED00" stroke="#FFED00" stroke-width="0.7" d="M256.8 690.8L273.0 691.8L289.2 693.1L300.0 695.8L297.3 712.0L302.2 728.2L300.0 744.4L301.4 760.6L305.4 766.0L316.2 776.8L305.4 776.8L289.2 776.8L273.0 776.8L256.8 776.8L251.4 776.8L250.3 760.6L244.6 744.4L240.6 742.6L240.3 744.4L239.6 760.6L239.9 776.8L236.2 776.8L236.2 760.6L237.0 744.4L239.8 728.2L240.6 720.1L245.2 712.0L246.0 695.8Z"/>
<path fill="#FFFF00" stroke="#FFFF00" stroke-width="0.7" d="M240.6 679.6L256.8 678.6L273.0 678.7L289.2 679.6L289.2 679.6L305.4 682.5L321.6 685.0L337.8 686.3L354.0 686.3L370.2 687.0L386.4 687.0L386.4 695.8L386.4 712.0L386.4 728.2L386.4 744.4L386.4 760.6L386.4 776.8L370.2 776.8L354.0 776.8L337.8 776.8L321.6 776.8L316.2 776.8L305.4 766.0L301.4 760.6L300.0 744.4L302.2 728.2L297.3 712.0L300.0 695.8L289.2 693.1L273.0 691.8L256.8 690.8L246.0 695.8L245.2 712.0L240.6 720.1L239.8 728.2L237.0 744.4L236.2 760.6L236.2 776.8L232.5 776.8L232.8 760.6L233.7 744.4L236.0 728.2L237.4 712.0L237.4 695.8L240.6 679.6Z"/>
<path fill="#FFFF19" stroke="#FFFF19" stroke-width="0.7" d="M240.6 666.1L256.8 668.5L273.0 669.7L289.2 671.5L305.4 673.7L321.6 675.4L337.8 676.2L354.0 676.4L370.2 676.4L386.4 676.4L386.4 679.6L386.4 687.0L370.2 687.0L354.0 686.3L337.8 686.3L321.6 685.0L305.4 682.5L289.2 679.6L289.2 679.6L273.0 678.7L256.8 678.6L240.6 679.6L240.6 679.6L237.4 695.8L237.4 712.0L236.0 728.2L233.7 744.4L232.8 760.6L232.5 776.8L228.8 776.8L229.5 760.6L230.4 744.4L232.1 728.2L233.3 712.0L233.5 695.8L236.0 679.6Z"/>
<path fill="#FFFF4D" stroke="#FFFF4D" stroke-width="0.7" d="M240.6 655.3L256.8 658.6L273.0 660.4L289.2 663.4L289.2 663.4L305.4 666.3L321.6 668.3L337.8 669.5L354.0 669.9L370.2 669.9L386.4 669.9L386.4 676.4L370.2 676.4L354.0 676.4L337.8 676.2L321.6 675.4L305.4 673.7L289.2 671.5L273.0 669.7L256.8 668.5L240.6 666.1L236.0 679.6L233.5 695.8L233.3 712.0L232.1 728.2L230.4 744.4L229.5 760.6L228.8 776.8L225.1 776.8L226.1 760.6L227.0 744.4L228.3 728.2L229.3 712.0L229.5 695.8L231.3 679.6L235.4 663.4Z"/>
<path fill="#FFFF80" stroke="#FFFF80" stroke-width="0.7" d="M240.6 645.3L248.7 647.2L256.8 649.1L273.0 650.2L289.2 651.8L305.4 654.6L321.6 657.3L337.8 661.1L354.0 663.4L370.2 663.4L386.4 663.4L386.4 663.4L386.4 669.9L370.2 669.9L354.0 669.9L337.8 669.5L321.6 668.3L305.4 666.3L289.2 663.4L289.2 663.4L273.0 660.4L256.8 658.6L240.6 655.3L235.4 663.4L231.3 679.6L229.5 695.8L229.3 712.0L228.3 728.2L227.0 744.4L226.1 760.6L225.1 776.8L224.4 776.8L224.4 760.6L224.4 744.4L224.4 728.2L224.4 728.2L225.2 712.0L225.6 695.8L226.7 679.6L228.9 663.4L237.9 647.2Z"/>
<path fill="#FFFFB2" stroke="#FFFFB2" stroke-width="0.7" d="M240.6 635.8L256.8 637.9L273.0 638.5L289.2 639.7L305.4 640.4L321.6 641.0L337.8 641.8L354.0 641.8L370.2 641.8L386.4 641.8L386.4 647.2L386.4 663.4L370.2 663.4L354.0 663.4L337.8 661.1L321.6 657.3L305.4 654.6L289.2 651.8L273.0 650.2L256.8 649.1L248.7 647.2L240.6 645.3L237.9 647.2L228.9 663.4L226.7 679.6L225.6 695.8L225.2 712.0L224.4 728.2L224.4 712.0L224.4 695.8L224.4 679.6L224.4 663.4L224.4 647.2L224.4 647.2Z"/>
<path fill="#FFFFE6" stroke="#FFFFE6" stroke-width="0.7" d="M240.6 614.8L256.8 614.8L273.0 614.8L289.2 614.8L305.4 614.8L321.6 614.8L337.8 614.8L354.0 614.8L370.2 614.8L386.4 614.8L386.4 631.0L386.4 641.8L370.2 641.8L354.0 641.8L337.8 641.8L321.6 641.0L305.4 640.4L289.2 639.7L273.0 638.5L256.8 637.9L240.6 635.8L224.4 647.2L224.4 631.0L224.4 614.8Z"/>
<path d="M240.6 614.8v162.0M224.4 631.0h162.0M256.8 614.8v162.0M224.4 647.2h162.0M273.0 614.8v162.0M224.4 663.4h162.0M289.2 614.8v162.0M224.4 679.6h162.0M305.4 614.8v162.0M224.4 695.8h162.0M321.6 614.8v162.0M224.4 712.0h162.0M337.8 614.8v162.0M224.4 728.2h162.0M354.0 614.8v162.0M224.4 744.4h162.0M370.2 614.8v162.0M224.4 760.6h162.0" stroke="#fff" stroke-width="0.8" stroke-opacity="0.14" fill="none"/>
</g>
<path d="M240.6 614.8v2.5M240.6 776.8v-2.5M224.4 631.0h2.5M386.4 631.0h-2.5M256.8 614.8v2.5M256.8 776.8v-2.5M224.4 647.2h2.5M386.4 647.2h-2.5M273.0 614.8v2.5M273.0 776.8v-2.5M224.4 663.4h2.5M386.4 663.4h-2.5M289.2 614.8v2.5M289.2 776.8v-2.5M224.4 679.6h2.5M386.4 679.6h-2.5M305.4 614.8v2.5M305.4 776.8v-2.5M224.4 695.8h2.5M386.4 695.8h-2.5M321.6 614.8v2.5M321.6 776.8v-2.5M224.4 712.0h2.5M386.4 712.0h-2.5M337.8 614.8v2.5M337.8 776.8v-2.5M224.4 728.2h2.5M386.4 728.2h-2.5M354.0 614.8v2.5M354.0 776.8v-2.5M224.4 744.4h2.5M386.4 744.4h-2.5M370.2 614.8v2.5M370.2 776.8v-2.5M224.4 760.6h2.5M386.4 760.6h-2.5" stroke="#000" stroke-width="1.3" fill="none"/>
<rect x="224.4" y="614.8" width="162.0" height="162.0" fill="none" stroke="#000" stroke-width="2"/>
<text x="305.4" y="757.3" text-anchor="middle" class="s" textLength="157" lengthAdjust="spacing">Comp. Social Science</text>
<g><text x="212.45" y="796.00" class="s">0.0</text></g>
<g><text x="293.45" y="796.00" class="s">0.</text><path d="M314.19 796.00L314.19 783.70L312.79 783.70C312.39 784.80 311.19 786.00 309.39 786.70L309.39 788.20C310.79 787.80 311.79 787.20 312.49 786.40L312.49 796.00Z" fill="#000"/></g>
<g>
<rect x="405.0" y="614.8" width="162.0" height="162.0" fill="#FFED00"/>
<path fill="#FFED00" stroke="#FFED00" stroke-width="0.7" d="M502.2 772.8L518.4 772.8L534.6 768.7L550.8 767.1L567.0 766.0L567.0 776.8L550.8 776.8L534.6 776.8L518.4 776.8L502.2 776.8L496.8 776.8Z"/>
<path fill="#FFFF00" stroke="#FFFF00" stroke-width="0.7" d="M550.8 694.2L567.0 690.4L567.0 695.8L567.0 712.0L567.0 728.2L567.0 744.4L567.0 760.6L567.0 766.0L550.8 767.1L534.6 768.7L518.4 772.8L502.2 772.8L496.8 776.8L486.0 776.8L469.8 776.8L453.6 776.8L437.4 776.8L421.2 776.8L419.2 776.8L420.2 760.6L421.2 744.4L421.2 728.2L421.2 728.2L437.4 728.2L453.6 720.1L469.8 712.0L469.8 712.0L486.0 707.9L502.2 703.9L518.4 702.3L534.6 699.8L542.7 695.8Z"/>
<path fill="#FFFF19" stroke="#FFFF19" stroke-width="0.7" d="M421.2 679.6L437.4 679.6L453.6 679.6L453.6 679.6L469.8 681.6L486.0 681.6L502.2 681.4L518.4 679.6L518.4 679.6L534.6 679.6L550.8 678.4L567.0 677.3L567.0 679.6L567.0 690.4L550.8 694.2L542.7 695.8L534.6 699.8L518.4 702.3L502.2 703.9L486.0 707.9L469.8 712.0L469.8 712.0L453.6 720.1L437.4 728.2L421.2 728.2L421.2 728.2L421.2 744.4L420.2 760.6L419.2 776.8L414.1 776.8L415.1 760.6L416.1 744.4L416.3 728.2L416.8 712.0L417.3 695.8L421.2 679.6Z"/>
<path fill="#FFFF4D" stroke="#FFFF4D" stroke-width="0.7" d="M421.2 668.0L437.4 668.0L453.6 668.0L469.8 668.4L486.0 669.2L502.2 669.2L518.4 668.8L534.6 668.0L550.8 666.9L567.0 665.7L567.0 677.3L550.8 678.4L534.6 679.6L518.4 679.6L518.4 679.6L502.2 681.4L486.0 681.6L469.8 681.6L453.6 679.6L453.6 679.6L437.4 679.6L421.2 679.6L421.2 679.6L417.3 695.8L416.8 712.0L416.3 728.2L416.1 744.4L415.1 760.6L414.1 776.8L409.1 776.8L410.1 760.6L411.1 744.4L411.4 728.2L411.9 712.0L412.4 695.8L415.0 679.6Z"/>
<path fill="#FFFF80" stroke="#FFFF80" stroke-width="0.7" d="M421.2 652.6L437.4 653.7L453.6 654.6L469.8 655.3L486.0 656.0L502.2 656.6L518.4 656.6L534.6 656.5L550.8 655.8L567.0 655.3L567.0 663.4L567.0 665.7L550.8 666.9L534.6 668.0L518.4 668.8L502.2 669.2L486.0 669.2L469.8 668.4L453.6 668.0L437.4 668.0L421.2 668.0L415.0 679.6L412.4 695.8L411.9 712.0L411.4 728.2L411.1 744.4L410.1 760.6L409.1 776.8L405.0 776.8L405.0 760.6L405.0 760.6L406.0 744.4L406.5 728.2L407.0 712.0L407.5 695.8L408.7 679.6L414.7 663.4Z"/>
<path fill="#FFFFB2" stroke="#FFFFB2" stroke-width="0.7" d="M421.2 631.0L421.2 631.0L437.4 636.4L453.6 637.1L469.8 639.1L486.0 639.1L502.2 640.3L518.4 640.3L534.6 642.6L550.8 642.6L567.0 642.6L567.0 647.2L567.0 655.3L550.8 655.8L534.6 656.5L518.4 656.6L502.2 656.6L486.0 656.0L469.8 655.3L453.6 654.6L437.4 653.7L421.2 652.6L414.7 663.4L408.7 679.6L407.5 695.8L407.0 712.0L406.5 728.2L406.0 744.4L405.0 760.6L405.0 744.4L405.0 728.2L405.0 712.0L405.0 695.8L405.0 679.6L405.0 663.4L405.0 658.0L408.6 647.2L421.2 631.0Z"/>
<path fill="#FFFFE6" stroke="#FFFFE6" stroke-width="0.7" d="M421.2 614.8L437.4 614.8L453.6 614.8L469.8 614.8L486.0 614.8L502.2 614.8L518.4 614.8L534.6 614.8L550.8 614.8L567.0 614.8L567.0 631.0L567.0 642.6L550.8 642.6L534.6 642.6L518.4 640.3L502.2 640.3L486.0 639.1L469.8 639.1L453.6 637.1L437.4 636.4L421.2 631.0L421.2 631.0L421.2 631.0L408.6 647.2L405.0 658.0L405.0 647.2L405.0 631.0L405.0 614.8Z"/>
<path d="M421.2 614.8v162.0M405.0 631.0h162.0M437.4 614.8v162.0M405.0 647.2h162.0M453.6 614.8v162.0M405.0 663.4h162.0M469.8 614.8v162.0M405.0 679.6h162.0M486.0 614.8v162.0M405.0 695.8h162.0M502.2 614.8v162.0M405.0 712.0h162.0M518.4 614.8v162.0M405.0 728.2h162.0M534.6 614.8v162.0M405.0 744.4h162.0M550.8 614.8v162.0M405.0 760.6h162.0" stroke="#fff" stroke-width="0.8" stroke-opacity="0.14" fill="none"/>
</g>
<path d="M421.2 614.8v2.5M421.2 776.8v-2.5M405.0 631.0h2.5M567.0 631.0h-2.5M437.4 614.8v2.5M437.4 776.8v-2.5M405.0 647.2h2.5M567.0 647.2h-2.5M453.6 614.8v2.5M453.6 776.8v-2.5M405.0 663.4h2.5M567.0 663.4h-2.5M469.8 614.8v2.5M469.8 776.8v-2.5M405.0 679.6h2.5M567.0 679.6h-2.5M486.0 614.8v2.5M486.0 776.8v-2.5M405.0 695.8h2.5M567.0 695.8h-2.5M502.2 614.8v2.5M502.2 776.8v-2.5M405.0 712.0h2.5M567.0 712.0h-2.5M518.4 614.8v2.5M518.4 776.8v-2.5M405.0 728.2h2.5M567.0 728.2h-2.5M534.6 614.8v2.5M534.6 776.8v-2.5M405.0 744.4h2.5M567.0 744.4h-2.5M550.8 614.8v2.5M550.8 776.8v-2.5M405.0 760.6h2.5M567.0 760.6h-2.5" stroke="#000" stroke-width="1.3" fill="none"/>
<rect x="405.0" y="614.8" width="162.0" height="162.0" fill="none" stroke="#000" stroke-width="2"/>
<text x="486.0" y="757.3" text-anchor="middle" class="s">Total</text>
<g><text x="393.05" y="796.00" class="s">0.0</text></g>
<g><text x="474.05" y="796.00" class="s">0.</text><path d="M494.79 796.00L494.79 783.70L493.39 783.70C492.99 784.80 491.79 786.00 489.99 786.70L489.99 788.20C491.39 787.80 492.39 787.20 493.09 786.40L493.09 796.00Z" fill="#000"/></g>
<g transform="rotate(-90 586.3 695.8)"><text x="574.35" y="695.80" class="s">0.5</text></g>
<g transform="rotate(-90 586.3 776.8)"><text x="574.35" y="776.80" class="s">0.0</text></g>
<text x="305.4" y="812.3" text-anchor="middle" class="s">Genericness</text>
<text x="14.8" y="614.5" text-anchor="middle" transform="rotate(-90 14.8 614.5)" class="s" style="font-size:17.5px">Specificity</text>
<rect x="621.4" y="528.10" width="17.4" height="162.00" fill="#FF0000"/>
<rect x="621.4" y="528.10" width="17.4" height="153.90" fill="#FF1200"/>
<rect x="621.4" y="528.10" width="17.4" height="145.80" fill="#FF2400"/>
<rect x="621.4" y="528.10" width="17.4" height="137.70" fill="#FF3700"/>
<rect x="621.4" y="528.10" width="17.4" height="129.60" fill="#FF4900"/>
<rect x="621.4" y="528.10" width="17.4" height="121.50" fill="#FF5B00"/>
<rect x="621.4" y="528.10" width="17.4" height="113.40" fill="#FF6D00"/>
<rect x="621.4" y="528.10" width="17.4" height="105.30" fill="#FF8000"/>
<rect x="621.4" y="528.10" width="17.4" height="97.20" fill="#FF9200"/>
<rect x="621.4" y="528.10" width="17.4" height="89.10" fill="#FFA400"/>
<rect x="621.4" y="528.10" width="17.4" height="81.00" fill="#FFB600"/>
<rect x="621.4" y="528.10" width="17.4" height="72.90" fill="#FFC800"/>
<rect x="621.4" y="528.10" width="17.4" height="64.80" fill="#FFDB00"/>
<rect x="621.4" y="528.10" width="17.4" height="56.70" fill="#FFED00"/>
<rect x="621.4" y="528.10" width="17.4" height="48.60" fill="#FFFF00"/>
<rect x="621.4" y="528.10" width="17.4" height="40.50" fill="#FFFF19"/>
<rect x="621.4" y="528.10" width="17.4" height="32.40" fill="#FFFF4D"/>
<rect x="621.4" y="528.10" width="17.4" height="24.30" fill="#FFFF80"/>
<rect x="621.4" y="528.10" width="17.4" height="16.20" fill="#FFFFB2"/>
<rect x="621.4" y="528.10" width="17.4" height="8.10" fill="#FFFFE6"/>
<path d="M621.4 544.3h2.5M638.8 544.3h-2.5M621.4 560.5h2.5M638.8 560.5h-2.5M621.4 576.7h2.5M638.8 576.7h-2.5M621.4 592.9h2.5M638.8 592.9h-2.5M621.4 609.1h2.5M638.8 609.1h-2.5M621.4 625.3h2.5M638.8 625.3h-2.5M621.4 641.5h2.5M638.8 641.5h-2.5M621.4 657.7h2.5M638.8 657.7h-2.5M621.4 673.9h2.5M638.8 673.9h-2.5" stroke="#000" stroke-width="1.3" fill="none"/>
<rect x="621.4" y="528.1" width="17.4" height="162.0" fill="none" stroke="#000" stroke-width="2"/>
<g transform="rotate(-90 657.4 528.1)"><path d="M651.85 528.10L651.85 515.80L650.45 515.80C650.05 516.90 648.85 518.10 647.05 518.80L647.05 520.30C648.45 519.90 649.45 519.30 650.15 518.50L650.15 528.10Z" fill="#000"/><text x="655.01" y="528.10" class="s">.0</text></g>
<g transform="rotate(-90 657.4 609.1)"><text x="645.45" y="609.10" class="s">0.5</text></g>
<g transform="rotate(-90 657.4 690.1)"><text x="645.45" y="690.10" class="s">0.0</text></g>
<text x="678.0" y="609.6" text-anchor="middle" transform="rotate(-90 678.0 609.6)" class="s">Precision</text>
<g>
<rect x="43.8" y="897.0" width="162.0" height="162.0" fill="#FF0000"/>
<path fill="#FF0000" stroke="#FF0000" stroke-width="0.7" d="M60.0 897.0L76.2 897.0L92.4 897.0L108.6 897.0L124.8 897.0L132.9 897.0L124.8 913.2L124.8 913.2L108.6 915.9L92.4 929.4L92.4 929.4L76.2 945.6L76.2 945.6L60.0 961.8L60.0 961.8L43.8 978.0L43.8 978.0L43.8 978.0L43.8 961.8L43.8 945.6L43.8 929.4L43.8 913.2L43.8 897.0Z"/>
<path fill="#FF1200" stroke="#FF1200" stroke-width="0.7" d="M141.0 897.0L157.2 897.0L173.4 897.0L173.4 897.0L173.4 897.0L157.2 913.2L157.2 913.2L141.0 920.4L124.8 929.4L124.8 929.4L108.6 937.5L100.5 945.6L92.4 953.7L84.3 961.8L76.2 969.9L70.0 978.0L60.0 988.0L51.9 994.2L43.8 1010.4L43.8 1010.4L43.8 1010.4L43.8 994.2L43.8 978.0L43.8 978.0L60.0 961.8L60.0 961.8L76.2 945.6L76.2 945.6L92.4 929.4L92.4 929.4L108.6 915.9L124.8 913.2L124.8 913.2L132.9 897.0Z"/>
<path fill="#FF2400" stroke="#FF2400" stroke-width="0.7" d="M173.4 897.0L173.4 897.0L189.6 897.0L189.6 897.0L189.6 897.0L173.4 913.2L173.4 913.2L157.2 919.7L141.0 929.4L141.0 929.4L124.8 937.5L114.0 945.6L108.6 951.0L97.8 961.8L92.4 978.0L92.4 978.0L76.2 986.1L68.1 994.2L60.0 1002.3L54.6 1010.4L49.2 1026.6L47.8 1042.8L47.8 1059.0L43.8 1059.0L43.8 1042.8L43.8 1026.6L43.8 1010.4L43.8 1010.4L51.9 994.2L60.0 988.0L70.0 978.0L76.2 969.9L84.3 961.8L92.4 953.7L100.5 945.6L108.6 937.5L124.8 929.4L124.8 929.4L141.0 920.4L157.2 913.2L157.2 913.2Z"/>
<path fill="#FF3700" stroke="#FF3700" stroke-width="0.7" d="M189.6 897.0L189.6 897.0L205.8 897.0L205.8 897.0L189.6 913.2L189.6 913.2L173.4 919.7L157.2 926.2L151.8 929.4L141.0 935.9L124.8 945.6L124.8 945.6L108.6 961.8L108.6 961.8L98.9 978.0L92.4 986.1L81.6 994.2L76.2 999.6L65.4 1010.4L60.0 1026.6L60.0 1026.6L55.9 1042.8L55.9 1059.0L47.8 1059.0L47.8 1042.8L49.2 1026.6L54.6 1010.4L60.0 1002.3L68.1 994.2L76.2 986.1L92.4 978.0L92.4 978.0L97.8 961.8L108.6 951.0L114.0 945.6L124.8 937.5L141.0 929.4L141.0 929.4L157.2 919.7L173.4 913.2L173.4 913.2Z"/>
<path fill="#FF4900" stroke="#FF4900" stroke-width="0.7" d="M205.8 897.0L205.8 913.2L205.8 913.2L189.6 919.7L173.4 926.2L165.3 929.4L157.2 932.6L141.0 942.4L135.6 945.6L124.8 953.7L116.7 961.8L108.6 972.6L105.4 978.0L92.4 994.2L92.4 994.2L76.2 1010.4L76.2 1010.4L70.8 1026.6L65.4 1042.8L65.4 1059.0L60.0 1059.0L55.9 1059.0L55.9 1042.8L60.0 1026.6L60.0 1026.6L65.4 1010.4L76.2 999.6L81.6 994.2L92.4 986.1L98.9 978.0L108.6 961.8L108.6 961.8L124.8 945.6L124.8 945.6L141.0 935.9L151.8 929.4L157.2 926.2L173.4 919.7L189.6 913.2L189.6 913.2Z"/>
<path fill="#FF5B00" stroke="#FF5B00" stroke-width="0.7" d="M173.4 926.2L189.6 919.7L205.8 913.2L205.8 919.7L189.6 926.2L181.5 929.4L173.4 932.6L157.2 939.1L146.4 945.6L141.0 948.8L124.8 961.8L124.8 961.8L111.8 978.0L108.6 982.0L98.9 994.2L92.4 1002.3L84.3 1010.4L80.2 1026.6L76.2 1042.8L76.2 1059.0L76.2 1059.0L65.4 1059.0L65.4 1042.8L70.8 1026.6L76.2 1010.4L76.2 1010.4L92.4 994.2L92.4 994.2L105.4 978.0L108.6 972.6L116.7 961.8L124.8 953.7L135.6 945.6L141.0 942.4L157.2 932.6L165.3 929.4Z"/>
<path fill="#FF6D00" stroke="#FF6D00" stroke-width="0.7" d="M189.6 926.2L205.8 919.7L205.8 926.2L197.7 929.4L189.6 932.6L173.4 939.1L157.2 945.6L157.2 945.6L141.0 955.3L132.9 961.8L124.8 969.9L118.3 978.0L108.6 990.1L105.4 994.2L92.4 1010.4L92.4 1010.4L88.3 1026.6L84.3 1042.8L84.3 1059.0L76.2 1059.0L76.2 1042.8L80.2 1026.6L84.3 1010.4L92.4 1002.3L98.9 994.2L108.6 982.0L111.8 978.0L124.8 961.8L124.8 961.8L141.0 948.8L146.4 945.6L157.2 939.1L173.4 932.6L181.5 929.4Z"/>
<path fill="#FF8000" stroke="#FF8000" stroke-width="0.7" d="M205.8 926.2L205.8 929.4L205.8 932.6L189.6 939.1L173.4 945.6L173.4 945.6L157.2 952.1L141.0 961.8L141.0 961.8L124.8 978.0L124.8 978.0L111.8 994.2L108.6 998.2L98.9 1010.4L95.6 1026.6L92.4 1042.8L92.4 1059.0L92.4 1059.0L84.3 1059.0L84.3 1042.8L88.3 1026.6L92.4 1010.4L92.4 1010.4L105.4 994.2L108.6 990.1L118.3 978.0L124.8 969.9L132.9 961.8L141.0 955.3L157.2 945.6L157.2 945.6L173.4 939.1L189.6 932.6L197.7 929.4Z"/>
<path fill="#FF9200" stroke="#FF9200" stroke-width="0.7" d="M189.6 939.1L205.8 932.6L205.8 939.1L189.6 945.6L189.6 945.6L173.4 952.1L157.2 958.6L151.8 961.8L141.0 969.9L132.9 978.0L124.8 986.1L118.3 994.2L108.6 1006.4L105.4 1010.4L102.1 1026.6L98.9 1042.8L98.9 1059.0L92.4 1059.0L92.4 1042.8L95.6 1026.6L98.9 1010.4L108.6 998.2L111.8 994.2L124.8 978.0L124.8 978.0L141.0 961.8L141.0 961.8L157.2 952.1L173.4 945.6L173.4 945.6Z"/>
<path fill="#FFA400" stroke="#FFA400" stroke-width="0.7" d="M205.8 939.1L205.8 945.6L205.8 945.6L189.6 952.1L173.4 958.6L165.3 961.8L157.2 965.9L141.0 978.0L141.0 978.0L124.8 994.2L124.8 994.2L111.8 1010.4L108.6 1026.6L108.6 1026.6L105.4 1042.8L105.4 1059.0L98.9 1059.0L98.9 1042.8L102.1 1026.6L105.4 1010.4L108.6 1006.4L118.3 994.2L124.8 986.1L132.9 978.0L141.0 969.9L151.8 961.8L157.2 958.6L173.4 952.1L189.6 945.6L189.6 945.6Z"/>
<path fill="#FFB600" stroke="#FFB600" stroke-width="0.7" d="M173.4 958.6L189.6 952.1L205.8 945.6L205.8 953.7L189.6 958.6L181.5 961.8L173.4 965.9L157.2 974.0L151.8 978.0L141.0 986.1L132.9 994.2L124.8 1002.3L118.3 1010.4L114.0 1026.6L111.3 1042.8L110.9 1059.0L108.6 1059.0L105.4 1059.0L105.4 1042.8L108.6 1026.6L108.6 1026.6L111.8 1010.4L124.8 994.2L124.8 994.2L141.0 978.0L141.0 978.0L157.2 965.9L165.3 961.8Z"/>
<path fill="#FFC800" stroke="#FFC800" stroke-width="0.7" d="M189.6 958.6L205.8 953.7L205.8 961.8L205.8 961.8L189.6 965.9L173.4 974.0L165.3 978.0L157.2 982.0L141.0 994.2L141.0 994.2L124.8 1010.4L124.8 1010.4L119.4 1026.6L116.7 1042.8L115.5 1059.0L110.9 1059.0L111.3 1042.8L114.0 1026.6L118.3 1010.4L124.8 1002.3L132.9 994.2L141.0 986.1L151.8 978.0L157.2 974.0L173.4 965.9L181.5 961.8Z"/>
<path fill="#FFDB00" stroke="#FFDB00" stroke-width="0.7" d="M173.4 974.0L189.6 965.9L205.8 961.8L205.8 969.9L189.6 974.0L181.5 978.0L173.4 982.5L157.2 990.1L151.8 994.2L141.0 1003.2L133.8 1010.4L124.8 1026.6L124.8 1026.6L122.1 1042.8L120.2 1059.0L115.5 1059.0L116.7 1042.8L119.4 1026.6L124.8 1010.4L124.8 1010.4L141.0 994.2L141.0 994.2L157.2 982.0L165.3 978.0Z"/>
<path fill="#FFED00" stroke="#FFED00" stroke-width="0.7" d="M189.6 974.0L205.8 969.9L205.8 978.0L205.8 978.0L189.6 983.4L173.4 991.5L167.3 994.2L157.2 1002.3L145.6 1010.4L141.0 1015.0L135.6 1026.6L128.8 1042.8L124.8 1059.0L124.8 1059.0L120.2 1059.0L122.1 1042.8L124.8 1026.6L124.8 1026.6L133.8 1010.4L141.0 1003.2L151.8 994.2L157.2 990.1L173.4 982.5L181.5 978.0Z"/>
<path fill="#FFFF00" stroke="#FFFF00" stroke-width="0.7" d="M173.4 991.5L189.6 983.4L205.8 978.0L205.8 986.1L189.6 994.2L189.6 994.2L173.4 1000.9L162.6 1010.4L157.2 1014.5L145.0 1026.6L141.0 1034.7L136.9 1042.8L131.3 1059.0L124.8 1059.0L128.8 1042.8L135.6 1026.6L141.0 1015.0L145.6 1010.4L157.2 1002.3L167.3 994.2Z"/>
<path fill="#FFFF19" stroke="#FFFF19" stroke-width="0.7" d="M205.8 986.1L205.8 994.2L205.8 994.2L189.6 1000.7L173.4 1010.4L173.4 1010.4L157.2 1022.5L153.1 1026.6L145.0 1042.8L141.0 1050.9L137.8 1059.0L131.3 1059.0L136.9 1042.8L141.0 1034.7L145.0 1026.6L157.2 1014.5L162.6 1010.4L173.4 1000.9L189.6 994.2L189.6 994.2Z"/>
<path fill="#FFFF4D" stroke="#FFFF4D" stroke-width="0.7" d="M189.6 1000.7L205.8 994.2L205.8 1000.7L189.6 1007.2L184.2 1010.4L173.4 1016.9L161.2 1026.6L157.2 1034.7L153.1 1042.8L146.4 1059.0L141.0 1059.0L137.8 1059.0L141.0 1050.9L145.0 1042.8L153.1 1026.6L157.2 1022.5L173.4 1010.4L173.4 1010.4Z"/>
<path fill="#FFFF80" stroke="#FFFF80" stroke-width="0.7" d="M189.6 1007.2L205.8 1000.7L205.8 1007.2L197.7 1010.4L189.6 1015.2L173.4 1023.4L169.3 1026.6L162.6 1042.8L157.2 1059.0L157.2 1059.0L146.4 1059.0L153.1 1042.8L157.2 1034.7L161.2 1026.6L173.4 1016.9L184.2 1010.4Z"/>
<path fill="#FFFFB2" stroke="#FFFFB2" stroke-width="0.7" d="M205.8 1007.2L205.8 1010.4L205.8 1019.4L189.6 1024.7L185.0 1026.6L173.4 1042.8L173.4 1042.8L170.7 1059.0L157.2 1059.0L162.6 1042.8L169.3 1026.6L173.4 1023.4L189.6 1015.2L197.7 1010.4Z"/>
<path fill="#FFFFE6" stroke="#FFFFE6" stroke-width="0.7" d="M189.6 1024.7L205.8 1019.4L205.8 1026.6L205.8 1042.8L205.8 1059.0L189.6 1059.0L173.4 1059.0L170.7 1059.0L173.4 1042.8L173.4 1042.8L185.0 1026.6Z"/>
<path d="M60.0 897.0v162.0M43.8 913.2h162.0M76.2 897.0v162.0M43.8 929.4h162.0M92.4 897.0v162.0M43.8 945.6h162.0M108.6 897.0v162.0M43.8 961.8h162.0M124.8 897.0v162.0M43.8 978.0h162.0M141.0 897.0v162.0M43.8 994.2h162.0M157.2 897.0v162.0M43.8 1010.4h162.0M173.4 897.0v162.0M43.8 1026.6h162.0M189.6 897.0v162.0M43.8 1042.8h162.0" stroke="#fff" stroke-width="0.8" stroke-opacity="0.14" fill="none"/>
</g>
<path d="M60.0 897.0v2.5M60.0 1059.0v-2.5M43.8 913.2h2.5M205.8 913.2h-2.5M76.2 897.0v2.5M76.2 1059.0v-2.5M43.8 929.4h2.5M205.8 929.4h-2.5M92.4 897.0v2.5M92.4 1059.0v-2.5M43.8 945.6h2.5M205.8 945.6h-2.5M108.6 897.0v2.5M108.6 1059.0v-2.5M43.8 961.8h2.5M205.8 961.8h-2.5M124.8 897.0v2.5M124.8 1059.0v-2.5M43.8 978.0h2.5M205.8 978.0h-2.5M141.0 897.0v2.5M141.0 1059.0v-2.5M43.8 994.2h2.5M205.8 994.2h-2.5M157.2 897.0v2.5M157.2 1059.0v-2.5M43.8 1010.4h2.5M205.8 1010.4h-2.5M173.4 897.0v2.5M173.4 1059.0v-2.5M43.8 1026.6h2.5M205.8 1026.6h-2.5M189.6 897.0v2.5M189.6 1059.0v-2.5M43.8 1042.8h2.5M205.8 1042.8h-2.5" stroke="#000" stroke-width="1.3" fill="none"/>
<rect x="43.8" y="897.0" width="162.0" height="162.0" fill="none" stroke="#000" stroke-width="2"/>
<text x="124.8" y="1039.5" text-anchor="middle" class="s">Soc. Psy.& Epidem.</text>
<g><text x="112.85" y="889.90" class="s">0.</text><path d="M133.59 889.90L133.59 877.60L132.19 877.60C131.79 878.70 130.59 879.90 128.79 880.60L128.79 882.10C130.19 881.70 131.19 881.10 131.89 880.30L131.89 889.90Z" fill="#000"/></g>
<g><text x="193.85" y="889.90" class="s">0.2</text></g>
<g transform="rotate(-90 36.4 897.0)"><path d="M30.85 897.00L30.85 884.70L29.45 884.70C29.05 885.80 27.85 887.00 26.05 887.70L26.05 889.20C27.45 888.80 28.45 888.20 29.15 887.40L29.15 897.00Z" fill="#000"/><text x="34.01" y="897.00" class="s">.0</text></g>
<g transform="rotate(-90 36.4 978.0)"><text x="24.45" y="978.00" class="s">0.5</text></g>
<g>
<rect x="224.4" y="897.0" width="162.0" height="162.0" fill="#FF0000"/>
<path fill="#FF0000" stroke="#FF0000" stroke-width="0.7" d="M240.6 897.0L256.8 897.0L273.0 897.0L282.4 897.0L277.1 913.2L273.0 921.3L266.2 929.4L256.8 938.9L248.7 945.6L240.6 953.7L235.2 961.8L232.5 978.0L232.5 994.2L232.5 1010.4L232.5 1026.6L232.5 1042.8L232.5 1059.0L224.4 1059.0L224.4 1042.8L224.4 1026.6L224.4 1010.4L224.4 994.2L224.4 978.0L224.4 961.8L224.4 945.6L224.4 929.4L224.4 913.2L224.4 897.0Z"/>
<path fill="#FF1200" stroke="#FF1200" stroke-width="0.7" d="M289.2 897.0L297.3 897.0L289.2 905.1L285.1 913.2L276.2 929.4L273.0 933.5L260.9 945.6L256.8 948.8L243.8 961.8L240.6 978.0L240.6 994.2L240.6 1010.4L240.6 1026.6L240.6 1042.8L240.6 1059.0L240.6 1059.0L232.5 1059.0L232.5 1042.8L232.5 1026.6L232.5 1010.4L232.5 994.2L232.5 978.0L235.2 961.8L240.6 953.7L248.7 945.6L256.8 938.9L266.2 929.4L273.0 921.3L277.1 913.2L282.4 897.0Z"/>
<path fill="#FF2400" stroke="#FF2400" stroke-width="0.7" d="M289.2 905.1L297.3 897.0L305.4 897.0L313.5 897.0L305.4 902.4L294.6 913.2L289.2 918.6L282.7 929.4L273.0 941.5L268.9 945.6L256.8 955.3L250.3 961.8L244.7 978.0L244.2 994.2L244.2 1010.4L244.2 1026.6L244.2 1042.8L244.2 1059.0L240.6 1059.0L240.6 1042.8L240.6 1026.6L240.6 1010.4L240.6 994.2L240.6 978.0L243.8 961.8L256.8 948.8L260.9 945.6L273.0 933.5L276.2 929.4L285.1 913.2Z"/>
<path fill="#FF3700" stroke="#FF3700" stroke-width="0.7" d="M305.4 902.4L313.5 897.0L321.6 897.0L337.8 897.0L337.8 897.0L337.8 897.0L321.6 902.4L305.4 913.2L305.4 913.2L289.2 929.4L289.2 929.4L275.3 945.6L273.0 947.4L256.8 961.8L256.8 961.8L248.7 978.0L247.8 994.2L247.8 1010.4L247.8 1026.6L247.8 1042.8L247.8 1059.0L244.2 1059.0L244.2 1042.8L244.2 1026.6L244.2 1010.4L244.2 994.2L244.7 978.0L250.3 961.8L256.8 955.3L268.9 945.6L273.0 941.5L282.7 929.4L289.2 918.6L294.6 913.2Z"/>
<path fill="#FF4900" stroke="#FF4900" stroke-width="0.7" d="M321.6 902.4L337.8 897.0L337.8 897.0L354.0 897.0L370.2 897.0L370.2 897.0L370.2 897.0L354.0 902.4L337.8 907.8L321.6 913.2L321.6 913.2L305.4 924.0L300.0 929.4L289.2 934.8L279.9 945.6L273.0 951.0L260.9 961.8L256.8 969.9L252.8 978.0L251.4 994.2L251.4 1010.4L251.4 1026.6L251.4 1042.8L251.4 1059.0L247.8 1059.0L247.8 1042.8L247.8 1026.6L247.8 1010.4L247.8 994.2L248.7 978.0L256.8 961.8L256.8 961.8L273.0 947.4L275.3 945.6L289.2 929.4L289.2 929.4L305.4 913.2L305.4 913.2Z"/>
<path fill="#FF5B00" stroke="#FF5B00" stroke-width="0.7" d="M337.8 907.8L354.0 902.4L370.2 897.0L370.2 897.0L386.4 897.0L386.4 902.4L370.2 907.8L354.0 913.2L354.0 913.2L337.8 917.2L321.6 921.3L310.8 929.4L305.4 931.7L289.2 940.2L284.6 945.6L273.0 954.6L264.9 961.8L256.8 978.0L256.8 978.0L255.0 994.2L255.0 1010.4L255.0 1026.6L255.0 1042.8L255.0 1059.0L251.4 1059.0L251.4 1042.8L251.4 1026.6L251.4 1010.4L251.4 994.2L252.8 978.0L256.8 969.9L260.9 961.8L273.0 951.0L279.9 945.6L289.2 934.8L300.0 929.4L305.4 924.0L321.6 913.2L321.6 913.2Z"/>
<path fill="#FF6D00" stroke="#FF6D00" stroke-width="0.7" d="M370.2 907.8L386.4 902.4L386.4 913.2L386.4 913.2L370.2 917.2L354.0 921.3L337.8 925.4L321.6 929.4L321.6 929.4L305.4 936.3L289.2 945.6L289.2 945.6L273.0 958.2L268.9 961.8L260.4 978.0L258.6 994.2L258.6 1010.4L258.6 1026.6L258.6 1042.8L258.6 1059.0L256.8 1059.0L255.0 1059.0L255.0 1042.8L255.0 1026.6L255.0 1010.4L255.0 994.2L256.8 978.0L256.8 978.0L264.9 961.8L273.0 954.6L284.6 945.6L289.2 940.2L305.4 931.7L310.8 929.4L321.6 921.3L337.8 917.2L354.0 913.2L354.0 913.2Z"/>
<path fill="#FF8000" stroke="#FF8000" stroke-width="0.7" d="M337.8 925.4L354.0 921.3L370.2 917.2L386.4 913.2L386.4 921.3L370.2 925.4L354.0 929.4L354.0 929.4L337.8 932.1L321.6 934.8L305.4 941.0L297.3 945.6L289.2 948.8L273.0 961.8L273.0 961.8L264.0 978.0L262.2 994.2L262.2 1010.4L262.2 1026.6L262.2 1042.8L262.2 1059.0L258.6 1059.0L258.6 1042.8L258.6 1026.6L258.6 1010.4L258.6 994.2L260.4 978.0L268.9 961.8L273.0 958.2L289.2 945.6L289.2 945.6L305.4 936.3L321.6 929.4L321.6 929.4Z"/>
<path fill="#FF9200" stroke="#FF9200" stroke-width="0.7" d="M370.2 925.4L386.4 921.3L386.4 929.4L386.4 929.4L370.2 932.1L354.0 934.8L337.8 937.5L321.6 940.2L305.4 945.6L305.4 945.6L289.2 952.1L277.1 961.8L273.0 968.3L267.6 978.0L265.8 994.2L265.8 1010.4L265.8 1026.6L265.8 1042.8L265.8 1059.0L262.2 1059.0L262.2 1042.8L262.2 1026.6L262.2 1010.4L262.2 994.2L264.0 978.0L273.0 961.8L273.0 961.8L289.2 948.8L297.3 945.6L305.4 941.0L321.6 934.8L337.8 932.1L354.0 929.4L354.0 929.4Z"/>
<path fill="#FFA400" stroke="#FFA400" stroke-width="0.7" d="M321.6 940.2L337.8 937.5L354.0 934.8L370.2 932.1L386.4 929.4L386.4 934.8L370.2 937.5L354.0 940.2L337.8 942.9L321.6 945.6L321.6 945.6L305.4 949.0L289.2 955.3L281.1 961.8L273.0 974.8L271.2 978.0L269.4 994.2L269.4 1010.4L269.4 1026.6L269.4 1042.8L269.4 1059.0L265.8 1059.0L265.8 1042.8L265.8 1026.6L265.8 1010.4L265.8 994.2L267.6 978.0L273.0 968.3L277.1 961.8L289.2 952.1L305.4 945.6L305.4 945.6Z"/>
<path fill="#FFB600" stroke="#FFB600" stroke-width="0.7" d="M337.8 942.9L354.0 940.2L370.2 937.5L386.4 934.8L386.4 940.2L370.2 942.9L354.0 945.6L354.0 945.6L337.8 947.7L321.6 949.5L305.4 952.4L289.2 958.6L285.1 961.8L275.3 978.0L273.0 994.2L273.0 1010.4L273.0 1026.6L273.0 1042.8L273.0 1059.0L273.0 1059.0L269.4 1059.0L269.4 1042.8L269.4 1026.6L269.4 1010.4L269.4 994.2L271.2 978.0L273.0 974.8L281.1 961.8L289.2 955.3L305.4 949.0L321.6 945.6L321.6 945.6Z"/>
<path fill="#FFC800" stroke="#FFC800" stroke-width="0.7" d="M370.2 942.9L386.4 940.2L386.4 945.6L386.4 945.6L370.2 947.9L354.0 950.2L337.8 952.0L321.6 953.3L305.4 955.7L289.2 961.8L289.2 961.8L279.9 978.0L278.1 994.2L278.1 1010.4L278.1 1026.6L278.1 1042.8L278.1 1059.0L273.0 1059.0L273.0 1042.8L273.0 1026.6L273.0 1010.4L273.0 994.2L275.3 978.0L285.1 961.8L289.2 958.6L305.4 952.4L321.6 949.5L337.8 947.7L354.0 945.6L354.0 945.6Z"/>
<path fill="#FFDB00" stroke="#FFDB00" stroke-width="0.7" d="M305.4 955.7L321.6 953.3L337.8 952.0L354.0 950.2L370.2 947.9L386.4 945.6L386.4 950.2L370.2 952.5L354.0 954.9L337.8 956.3L321.6 957.2L305.4 959.1L298.2 961.8L289.2 969.9L284.6 978.0L283.1 994.2L283.1 1010.4L283.1 1026.6L283.1 1042.8L283.1 1059.0L278.1 1059.0L278.1 1042.8L278.1 1026.6L278.1 1010.4L278.1 994.2L279.9 978.0L289.2 961.8L289.2 961.8Z"/>
<path fill="#FFED00" stroke="#FFED00" stroke-width="0.7" d="M305.4 959.1L321.6 957.2L337.8 956.3L354.0 954.9L370.2 952.5L386.4 950.2L386.4 954.9L370.2 957.2L354.0 959.5L337.8 960.5L321.6 961.0L313.5 961.8L305.4 965.0L289.2 978.0L289.2 978.0L288.2 994.2L288.2 1010.4L288.2 1026.6L288.2 1042.8L288.2 1059.0L283.1 1059.0L283.1 1042.8L283.1 1026.6L283.1 1010.4L283.1 994.2L284.6 978.0L289.2 969.9L298.2 961.8Z"/>
<path fill="#FFFF00" stroke="#FFFF00" stroke-width="0.7" d="M321.6 961.0L337.8 960.5L354.0 959.5L370.2 957.2L386.4 954.9L386.4 959.5L370.2 961.8L370.2 961.8L354.0 963.8L337.8 965.3L321.6 967.4L307.3 978.0L305.4 984.5L301.0 994.2L299.2 1010.4L299.2 1026.6L299.2 1042.8L299.2 1059.0L289.2 1059.0L288.2 1059.0L288.2 1042.8L288.2 1026.6L288.2 1010.4L288.2 994.2L289.2 978.0L289.2 978.0L305.4 965.0L313.5 961.8Z"/>
<path fill="#FFFF19" stroke="#FFFF19" stroke-width="0.7" d="M386.4 959.5L386.4 961.8L386.4 963.9L370.2 965.8L354.0 967.9L337.8 970.4L321.6 974.5L316.8 978.0L309.9 994.2L308.6 1010.4L308.6 1026.6L308.6 1042.8L308.6 1059.0L305.4 1059.0L299.2 1059.0L299.2 1042.8L299.2 1026.6L299.2 1010.4L301.0 994.2L305.4 984.5L307.3 978.0L321.6 967.4L337.8 965.3L354.0 963.8L370.2 961.8L370.2 961.8Z"/>
<path fill="#FFFF4D" stroke="#FFFF4D" stroke-width="0.7" d="M321.6 974.5L337.8 970.4L354.0 967.9L370.2 965.8L386.4 963.9L386.4 968.2L370.2 969.7L354.0 971.9L337.8 975.5L329.7 978.0L321.6 984.2L316.4 994.2L315.1 1010.4L315.1 1026.6L315.1 1042.8L315.1 1059.0L308.6 1059.0L308.6 1042.8L308.6 1026.6L308.6 1010.4L309.9 994.2L316.8 978.0Z"/>
<path fill="#FFFF80" stroke="#FFFF80" stroke-width="0.7" d="M337.8 975.5L354.0 971.9L370.2 969.7L386.4 968.2L386.4 972.5L370.2 973.7L354.0 976.0L345.9 978.0L337.8 985.4L325.6 994.2L321.6 1010.4L321.6 1026.6L321.6 1042.8L321.6 1059.0L321.6 1059.0L315.1 1059.0L315.1 1042.8L315.1 1026.6L315.1 1010.4L316.4 994.2L321.6 984.2L329.7 978.0Z"/>
<path fill="#FFFFB2" stroke="#FFFFB2" stroke-width="0.7" d="M354.0 976.0L370.2 973.7L386.4 972.5L386.4 976.7L370.2 977.6L367.5 978.0L354.0 990.5L349.6 994.2L344.3 1010.4L344.3 1026.6L344.3 1042.8L344.3 1059.0L337.8 1059.0L321.6 1059.0L321.6 1042.8L321.6 1026.6L321.6 1010.4L325.6 994.2L337.8 985.4L345.9 978.0Z"/>
<path fill="#FFFFE6" stroke="#FFFFE6" stroke-width="0.7" d="M370.2 977.6L386.4 976.7L386.4 978.0L386.4 994.2L386.4 1010.4L386.4 1026.6L386.4 1042.8L386.4 1059.0L370.2 1059.0L354.0 1059.0L344.3 1059.0L344.3 1042.8L344.3 1026.6L344.3 1010.4L349.6 994.2L354.0 990.5L367.5 978.0Z"/>
<path d="M240.6 897.0v162.0M224.4 913.2h162.0M256.8 897.0v162.0M224.4 929.4h162.0M273.0 897.0v162.0M224.4 945.6h162.0M289.2 897.0v162.0M224.4 961.8h162.0M305.4 897.0v162.0M224.4 978.0h162.0M321.6 897.0v162.0M224.4 994.2h162.0M337.8 897.0v162.0M224.4 1010.4h162.0M354.0 897.0v162.0M224.4 1026.6h162.0M370.2 897.0v162.0M224.4 1042.8h162.0" stroke="#fff" stroke-width="0.8" stroke-opacity="0.14" fill="none"/>
</g>
<path d="M240.6 897.0v2.5M240.6 1059.0v-2.5M224.4 913.2h2.5M386.4 913.2h-2.5M256.8 897.0v2.5M256.8 1059.0v-2.5M224.4 929.4h2.5M386.4 929.4h-2.5M273.0 897.0v2.5M273.0 1059.0v-2.5M224.4 945.6h2.5M386.4 945.6h-2.5M289.2 897.0v2.5M289.2 1059.0v-2.5M224.4 961.8h2.5M386.4 961.8h-2.5M305.4 897.0v2.5M305.4 1059.0v-2.5M224.4 978.0h2.5M386.4 978.0h-2.5M321.6 897.0v2.5M321.6 1059.0v-2.5M224.4 994.2h2.5M386.4 994.2h-2.5M337.8 897.0v2.5M337.8 1059.0v-2.5M224.4 1010.4h2.5M386.4 1010.4h-2.5M354.0 897.0v2.5M354.0 1059.0v-2.5M224.4 1026.6h2.5M386.4 1026.6h-2.5M370.2 897.0v2.5M370.2 1059.0v-2.5M224.4 1042.8h2.5M386.4 1042.8h-2.5" stroke="#000" stroke-width="1.3" fill="none"/>
<rect x="224.4" y="897.0" width="162.0" height="162.0" fill="none" stroke="#000" stroke-width="2"/>
<text x="305.4" y="1039.5" text-anchor="middle" class="s">Economic Sociology</text>
<g><text x="293.45" y="889.90" class="s">0.</text><path d="M314.19 889.90L314.19 877.60L312.79 877.60C312.39 878.70 311.19 879.90 309.39 880.60L309.39 882.10C310.79 881.70 311.79 881.10 312.49 880.30L312.49 889.90Z" fill="#000"/></g>
<g><text x="374.45" y="889.90" class="s">0.2</text></g>
<g>
<rect x="405.0" y="897.0" width="162.0" height="162.0" fill="#FF0000"/>
<path fill="#FF0000" stroke="#FF0000" stroke-width="0.7" d="M421.2 897.0L437.4 897.0L437.4 897.0L437.4 897.0L421.2 897.5L405.5 913.2L405.5 929.4L405.5 945.6L405.5 961.8L405.5 978.0L405.5 994.2L405.5 1010.4L405.5 1026.6L405.5 1042.8L405.5 1059.0L405.0 1059.0L405.0 1042.8L405.0 1026.6L405.0 1010.4L405.0 994.2L405.0 978.0L405.0 961.8L405.0 945.6L405.0 929.4L405.0 913.2L405.0 897.0Z"/>
<path fill="#FF1200" stroke="#FF1200" stroke-width="0.7" d="M421.2 897.5L437.4 897.0L437.4 897.0L453.6 897.0L469.8 897.0L469.8 897.0L469.8 897.0L453.6 897.5L437.4 898.0L421.2 898.5L406.5 913.2L406.4 929.4L406.4 945.6L406.4 961.8L406.4 978.0L406.4 994.2L406.4 1010.4L406.4 1026.6L406.4 1042.8L406.4 1059.0L405.5 1059.0L405.5 1042.8L405.5 1026.6L405.5 1010.4L405.5 994.2L405.5 978.0L405.5 961.8L405.5 945.6L405.5 929.4L405.5 913.2Z"/>
<path fill="#FF2400" stroke="#FF2400" stroke-width="0.7" d="M421.2 898.5L437.4 898.0L453.6 897.5L469.8 897.0L469.8 897.0L486.0 897.0L502.2 897.0L502.2 897.0L502.2 897.0L486.0 897.5L469.8 898.1L453.6 898.5L437.4 899.0L421.2 899.5L407.5 913.2L407.4 929.4L407.4 945.6L407.4 961.8L407.4 978.0L407.4 994.2L407.4 1010.4L407.4 1026.6L407.4 1042.8L407.4 1059.0L406.4 1059.0L406.4 1042.8L406.4 1026.6L406.4 1010.4L406.4 994.2L406.4 978.0L406.4 961.8L406.4 945.6L406.4 929.4L406.5 913.2Z"/>
<path fill="#FF3700" stroke="#FF3700" stroke-width="0.7" d="M421.2 899.5L437.4 899.0L453.6 898.5L469.8 898.1L486.0 897.5L502.2 897.0L502.2 897.0L518.4 897.0L534.6 897.0L534.6 897.0L534.6 897.0L518.4 897.6L502.2 898.1L486.0 898.6L469.8 899.1L453.6 899.6L437.4 900.0L421.2 900.4L408.4 913.2L408.4 929.4L408.4 945.6L408.4 961.8L408.4 978.0L408.4 994.2L408.4 1010.4L408.4 1026.6L408.4 1042.8L408.4 1059.0L407.4 1059.0L407.4 1042.8L407.4 1026.6L407.4 1010.4L407.4 994.2L407.4 978.0L407.4 961.8L407.4 945.6L407.4 929.4L407.5 913.2Z"/>
<path fill="#FF4900" stroke="#FF4900" stroke-width="0.7" d="M421.2 900.4L437.4 900.0L453.6 899.6L469.8 899.1L486.0 898.6L502.2 898.1L518.4 897.6L534.6 897.0L534.6 897.0L550.8 897.0L567.0 897.0L567.0 897.0L550.8 897.6L534.6 898.2L518.4 898.7L502.2 899.2L486.0 899.7L469.8 900.2L453.6 900.6L437.4 901.0L421.2 901.4L409.4 913.2L409.3 929.4L409.3 945.6L409.3 961.8L409.3 978.0L409.3 994.2L409.3 1010.4L409.3 1026.6L409.3 1042.8L409.3 1059.0L408.4 1059.0L408.4 1042.8L408.4 1026.6L408.4 1010.4L408.4 994.2L408.4 978.0L408.4 961.8L408.4 945.6L408.4 929.4L408.4 913.2Z"/>
<path fill="#FF5B00" stroke="#FF5B00" stroke-width="0.7" d="M421.2 901.4L437.4 901.0L453.6 900.6L469.8 900.2L486.0 899.7L502.2 899.2L518.4 898.7L534.6 898.2L550.8 897.6L567.0 897.0L567.0 898.2L550.8 898.8L534.6 899.3L518.4 899.8L502.2 900.4L486.0 900.8L469.8 901.2L453.6 901.6L437.4 902.0L421.2 902.4L410.4 913.2L410.3 929.4L410.3 945.6L410.3 961.8L410.3 978.0L410.3 994.2L410.3 1010.4L410.3 1026.6L410.3 1042.8L410.3 1059.0L409.3 1059.0L409.3 1042.8L409.3 1026.6L409.3 1010.4L409.3 994.2L409.3 978.0L409.3 961.8L409.3 945.6L409.3 929.4L409.4 913.2Z"/>
<path fill="#FF6D00" stroke="#FF6D00" stroke-width="0.7" d="M421.2 902.4L437.4 902.0L453.6 901.6L469.8 901.2L486.0 900.8L502.2 900.4L518.4 899.8L534.6 899.3L550.8 898.8L567.0 898.2L567.0 899.5L550.8 900.0L534.6 900.5L518.4 900.9L502.2 901.5L486.0 901.9L469.8 902.3L453.6 902.6L437.4 903.0L421.2 903.4L411.4 913.2L411.3 929.4L411.3 945.6L411.3 961.8L411.3 978.0L411.3 994.2L411.3 1010.4L411.3 1026.6L411.3 1042.8L411.3 1059.0L410.3 1059.0L410.3 1042.8L410.3 1026.6L410.3 1010.4L410.3 994.2L410.3 978.0L410.3 961.8L410.3 945.6L410.3 929.4L410.4 913.2Z"/>
<path fill="#FF8000" stroke="#FF8000" stroke-width="0.7" d="M421.2 903.4L437.4 903.0L453.6 902.6L469.8 902.3L486.0 901.9L502.2 901.5L518.4 900.9L534.6 900.5L550.8 900.0L567.0 899.5L567.0 900.7L550.8 901.2L534.6 901.6L518.4 902.1L502.2 902.6L486.0 903.0L469.8 903.4L453.6 903.7L437.4 904.0L421.2 904.4L412.4 913.2L412.2 929.4L412.2 945.6L412.2 961.8L412.2 978.0L412.2 994.2L412.2 1010.4L412.2 1026.6L412.2 1042.8L412.2 1059.0L411.3 1059.0L411.3 1042.8L411.3 1026.6L411.3 1010.4L411.3 994.2L411.3 978.0L411.3 961.8L411.3 945.6L411.3 929.4L411.4 913.2Z"/>
<path fill="#FF9200" stroke="#FF9200" stroke-width="0.7" d="M421.2 904.4L437.4 904.0L453.6 903.7L469.8 903.4L486.0 903.0L502.2 902.6L518.4 902.1L534.6 901.6L550.8 901.2L567.0 900.7L567.0 901.9L550.8 902.4L534.6 902.8L518.4 903.2L502.2 903.7L486.0 904.1L469.8 904.4L453.6 904.7L437.4 905.0L421.2 905.3L413.3 913.2L413.2 929.4L413.2 945.6L413.2 961.8L413.2 978.0L413.2 994.2L413.2 1010.4L413.2 1026.6L413.2 1042.8L413.2 1059.0L412.2 1059.0L412.2 1042.8L412.2 1026.6L412.2 1010.4L412.2 994.2L412.2 978.0L412.2 961.8L412.2 945.6L412.2 929.4L412.4 913.2Z"/>
<path fill="#FFA400" stroke="#FFA400" stroke-width="0.7" d="M421.2 905.3L437.4 905.0L453.6 904.7L469.8 904.4L486.0 904.1L502.2 903.7L518.4 903.2L534.6 902.8L550.8 902.4L567.0 901.9L567.0 903.2L550.8 903.6L534.6 903.9L518.4 904.3L502.2 904.8L486.0 905.2L469.8 905.5L453.6 905.7L437.4 905.9L421.2 906.3L414.3 913.2L414.2 929.4L414.2 945.6L414.2 961.8L414.2 978.0L414.2 994.2L414.2 1010.4L414.2 1026.6L414.2 1042.8L414.2 1059.0L413.2 1059.0L413.2 1042.8L413.2 1026.6L413.2 1010.4L413.2 994.2L413.2 978.0L413.2 961.8L413.2 945.6L413.2 929.4L413.3 913.2Z"/>
<path fill="#FFB600" stroke="#FFB600" stroke-width="0.7" d="M421.2 906.3L437.4 905.9L453.6 905.7L469.8 905.5L486.0 905.2L502.2 904.8L518.4 904.3L534.6 903.9L550.8 903.6L567.0 903.2L567.0 904.4L550.8 904.7L534.6 905.1L518.4 905.4L502.2 905.9L486.0 906.3L469.8 906.5L453.6 906.7L437.4 906.9L421.2 907.3L415.3 913.2L415.1 929.4L415.1 945.6L415.1 961.8L415.1 978.0L415.1 994.2L415.1 1010.4L415.1 1026.6L415.1 1042.8L415.1 1059.0L414.2 1059.0L414.2 1042.8L414.2 1026.6L414.2 1010.4L414.2 994.2L414.2 978.0L414.2 961.8L414.2 945.6L414.2 929.4L414.3 913.2Z"/>
<path fill="#FFC800" stroke="#FFC800" stroke-width="0.7" d="M421.2 907.3L437.4 906.9L453.6 906.7L469.8 906.5L486.0 906.3L502.2 905.9L518.4 905.4L534.6 905.1L550.8 904.7L567.0 904.4L567.0 905.7L550.8 905.9L534.6 906.2L518.4 906.6L502.2 907.1L486.0 907.4L469.8 907.6L453.6 907.8L437.4 907.9L421.2 908.3L416.3 913.2L416.1 929.4L416.1 945.6L416.1 961.8L416.1 978.0L416.1 994.2L416.1 1010.4L416.1 1026.6L416.1 1042.8L416.1 1059.0L415.1 1059.0L415.1 1042.8L415.1 1026.6L415.1 1010.4L415.1 994.2L415.1 978.0L415.1 961.8L415.1 945.6L415.1 929.4L415.3 913.2Z"/>
<path fill="#FFDB00" stroke="#FFDB00" stroke-width="0.7" d="M421.2 908.3L437.4 907.9L453.6 907.8L469.8 907.6L486.0 907.4L502.2 907.1L518.4 906.6L534.6 906.2L550.8 905.9L567.0 905.7L567.0 906.9L550.8 907.1L534.6 907.4L518.4 907.7L502.2 908.2L486.0 908.5L469.8 908.6L453.6 908.8L437.4 908.9L421.2 909.3L417.3 913.2L417.1 929.4L417.1 945.6L417.1 961.8L417.1 978.0L417.1 994.2L417.1 1010.4L417.1 1026.6L417.1 1042.8L417.1 1059.0L416.1 1059.0L416.1 1042.8L416.1 1026.6L416.1 1010.4L416.1 994.2L416.1 978.0L416.1 961.8L416.1 945.6L416.1 929.4L416.3 913.2Z"/>
<path fill="#FFED00" stroke="#FFED00" stroke-width="0.7" d="M421.2 909.3L437.4 908.9L453.6 908.8L469.8 908.6L486.0 908.5L502.2 908.2L518.4 907.7L534.6 907.4L550.8 907.1L567.0 906.9L567.0 908.1L550.8 908.3L534.6 908.5L518.4 908.8L502.2 909.3L486.0 909.6L469.8 909.7L453.6 909.8L437.4 909.9L421.2 910.3L418.3 913.2L418.0 929.4L418.0 945.6L418.0 961.8L418.0 978.0L418.0 994.2L418.0 1010.4L418.0 1026.6L418.0 1042.8L418.0 1059.0L417.1 1059.0L417.1 1042.8L417.1 1026.6L417.1 1010.4L417.1 994.2L417.1 978.0L417.1 961.8L417.1 945.6L417.1 929.4L417.3 913.2Z"/>
<path fill="#FFFF00" stroke="#FFFF00" stroke-width="0.7" d="M421.2 910.3L437.4 909.9L453.6 909.8L469.8 909.7L486.0 909.6L502.2 909.3L518.4 908.8L534.6 908.5L550.8 908.3L567.0 908.1L567.0 909.4L550.8 909.5L534.6 909.7L518.4 909.9L502.2 910.4L486.0 910.7L469.8 910.8L453.6 910.8L437.4 910.9L421.2 911.2L419.2 913.2L419.0 929.4L419.0 945.6L419.0 961.8L419.0 978.0L419.0 994.2L419.0 1010.4L419.0 1026.6L419.0 1042.8L419.0 1059.0L418.0 1059.0L418.0 1042.8L418.0 1026.6L418.0 1010.4L418.0 994.2L418.0 978.0L418.0 961.8L418.0 945.6L418.0 929.4L418.3 913.2Z"/>
<path fill="#FFFF19" stroke="#FFFF19" stroke-width="0.7" d="M421.2 911.2L437.4 910.9L453.6 910.8L469.8 910.8L486.0 910.7L502.2 910.4L518.4 909.9L534.6 909.7L550.8 909.5L567.0 909.4L567.0 910.6L550.8 910.7L534.6 910.8L518.4 911.1L502.2 911.5L486.0 911.8L469.8 911.8L453.6 911.9L437.4 911.9L421.2 912.2L420.2 913.2L419.9 929.4L419.9 945.6L419.9 961.8L419.9 978.0L419.9 994.2L419.9 1010.4L419.9 1026.6L419.9 1042.8L419.9 1059.0L419.0 1059.0L419.0 1042.8L419.0 1026.6L419.0 1010.4L419.0 994.2L419.0 978.0L419.0 961.8L419.0 945.6L419.0 929.4L419.2 913.2Z"/>
<path fill="#FFFF4D" stroke="#FFFF4D" stroke-width="0.7" d="M421.2 912.2L437.4 911.9L453.6 911.9L469.8 911.8L486.0 911.8L502.2 911.5L518.4 911.1L534.6 910.8L550.8 910.7L567.0 910.6L567.0 911.8L550.8 911.9L534.6 912.0L518.4 912.2L502.2 912.6L486.0 912.9L469.8 912.9L453.6 912.9L437.4 912.9L421.2 913.2L421.2 913.2L420.9 929.4L420.9 945.6L420.9 961.8L420.9 978.0L420.9 994.2L420.9 1010.4L420.9 1026.6L420.9 1042.8L420.9 1059.0L419.9 1059.0L419.9 1042.8L419.9 1026.6L419.9 1010.4L419.9 994.2L419.9 978.0L419.9 961.8L419.9 945.6L419.9 929.4L420.2 913.2Z"/>
<path fill="#FFFF80" stroke="#FFFF80" stroke-width="0.7" d="M437.4 912.9L453.6 912.9L469.8 912.9L486.0 912.9L502.2 912.6L518.4 912.2L534.6 912.0L550.8 911.9L567.0 911.8L567.0 913.1L550.8 913.1L534.6 913.1L529.2 913.2L518.4 915.9L502.2 927.9L486.0 928.3L469.8 928.3L453.6 928.3L437.4 929.4L437.4 929.4L436.3 945.6L436.3 961.8L436.3 978.0L436.3 994.2L436.3 1010.4L436.3 1026.6L436.3 1042.8L436.3 1059.0L421.2 1059.0L420.9 1059.0L420.9 1042.8L420.9 1026.6L420.9 1010.4L420.9 994.2L420.9 978.0L420.9 961.8L420.9 945.6L420.9 929.4L421.2 913.2L421.2 913.2Z"/>
<path fill="#FFFFB2" stroke="#FFFFB2" stroke-width="0.7" d="M534.6 913.1L550.8 913.1L567.0 913.1L567.0 913.2L567.0 929.4L567.0 935.9L550.8 935.9L534.6 941.5L518.4 945.6L518.4 945.6L502.2 960.0L486.0 960.3L484.5 961.8L477.9 978.0L477.9 994.2L477.9 1010.4L477.9 1026.6L477.9 1042.8L477.9 1059.0L469.8 1059.0L453.6 1059.0L437.4 1059.0L436.3 1059.0L436.3 1042.8L436.3 1026.6L436.3 1010.4L436.3 994.2L436.3 978.0L436.3 961.8L436.3 945.6L437.4 929.4L437.4 929.4L453.6 928.3L469.8 928.3L486.0 928.3L502.2 927.9L518.4 915.9L529.2 913.2Z"/>
<path fill="#FFFFE6" stroke="#FFFFE6" stroke-width="0.7" d="M534.6 941.5L550.8 935.9L567.0 935.9L567.0 945.6L567.0 961.8L567.0 978.0L567.0 994.2L567.0 1010.4L567.0 1026.6L567.0 1042.8L567.0 1059.0L550.8 1059.0L534.6 1059.0L518.4 1059.0L502.2 1059.0L486.0 1059.0L477.9 1059.0L477.9 1042.8L477.9 1026.6L477.9 1010.4L477.9 994.2L477.9 978.0L484.5 961.8L486.0 960.3L502.2 960.0L518.4 945.6L518.4 945.6Z"/>
<path d="M421.2 897.0v162.0M405.0 913.2h162.0M437.4 897.0v162.0M405.0 929.4h162.0M453.6 897.0v162.0M405.0 945.6h162.0M469.8 897.0v162.0M405.0 961.8h162.0M486.0 897.0v162.0M405.0 978.0h162.0M502.2 897.0v162.0M405.0 994.2h162.0M518.4 897.0v162.0M405.0 1010.4h162.0M534.6 897.0v162.0M405.0 1026.6h162.0M550.8 897.0v162.0M405.0 1042.8h162.0" stroke="#fff" stroke-width="0.8" stroke-opacity="0.14" fill="none"/>
</g>
<path d="M421.2 897.0v2.5M421.2 1059.0v-2.5M405.0 913.2h2.5M567.0 913.2h-2.5M437.4 897.0v2.5M437.4 1059.0v-2.5M405.0 929.4h2.5M567.0 929.4h-2.5M453.6 897.0v2.5M453.6 1059.0v-2.5M405.0 945.6h2.5M567.0 945.6h-2.5M469.8 897.0v2.5M469.8 1059.0v-2.5M405.0 961.8h2.5M567.0 961.8h-2.5M486.0 897.0v2.5M486.0 1059.0v-2.5M405.0 978.0h2.5M567.0 978.0h-2.5M502.2 897.0v2.5M502.2 1059.0v-2.5M405.0 994.2h2.5M567.0 994.2h-2.5M518.4 897.0v2.5M518.4 1059.0v-2.5M405.0 1010.4h2.5M567.0 1010.4h-2.5M534.6 897.0v2.5M534.6 1059.0v-2.5M405.0 1026.6h2.5M567.0 1026.6h-2.5M550.8 897.0v2.5M550.8 1059.0v-2.5M405.0 1042.8h2.5M567.0 1042.8h-2.5" stroke="#000" stroke-width="1.3" fill="none"/>
<rect x="405.0" y="897.0" width="162.0" height="162.0" fill="none" stroke="#000" stroke-width="2"/>
<text x="486.0" y="1039.5" text-anchor="middle" class="s">Social Network Anal.</text>
<g><text x="474.05" y="889.90" class="s">0.</text><path d="M494.79 889.90L494.79 877.60L493.39 877.60C492.99 878.70 491.79 879.90 489.99 880.60L489.99 882.10C491.39 881.70 492.39 881.10 493.09 880.30L493.09 889.90Z" fill="#000"/></g>
<g><text x="555.05" y="889.90" class="s">0.2</text></g>
<g transform="rotate(-90 586.3 978.0)"><text x="574.35" y="978.00" class="s">0.5</text></g>
<g transform="rotate(-90 586.3 1059.0)"><text x="574.35" y="1059.00" class="s">0.0</text></g>
<g>
<rect x="43.8" y="1070.1" width="162.0" height="162.0" fill="#FF0000"/>
<path fill="#FF0000" stroke="#FF0000" stroke-width="0.7" d="M60.0 1070.1L76.2 1070.1L76.2 1070.1L76.2 1070.1L65.4 1086.3L60.0 1091.7L51.9 1102.5L46.5 1118.7L43.8 1134.9L43.8 1151.1L43.8 1167.3L43.8 1183.5L43.8 1199.7L43.8 1215.9L43.8 1232.1L43.8 1232.1L43.8 1215.9L43.8 1199.7L43.8 1183.5L43.8 1167.3L43.8 1151.1L43.8 1134.9L43.8 1118.7L43.8 1102.5L43.8 1086.3L43.8 1070.1Z"/>
<path fill="#FF1200" stroke="#FF1200" stroke-width="0.7" d="M76.2 1070.1L76.2 1070.1L92.4 1070.1L100.5 1070.1L92.4 1074.1L76.2 1086.3L76.2 1086.3L60.0 1102.5L60.0 1102.5L51.9 1118.7L50.3 1134.9L49.2 1151.1L49.2 1167.3L49.2 1183.5L49.2 1199.7L49.2 1215.9L49.2 1232.1L43.8 1232.1L43.8 1215.9L43.8 1199.7L43.8 1183.5L43.8 1167.3L43.8 1151.1L43.8 1134.9L46.5 1118.7L51.9 1102.5L60.0 1091.7L65.4 1086.3Z"/>
<path fill="#FF2400" stroke="#FF2400" stroke-width="0.7" d="M92.4 1074.1L100.5 1070.1L108.6 1070.1L116.7 1070.1L108.6 1072.8L92.4 1082.2L87.0 1086.3L76.2 1092.8L66.5 1102.5L60.0 1113.3L57.3 1118.7L56.8 1134.9L54.6 1151.1L54.6 1167.3L54.6 1183.5L54.6 1199.7L54.6 1215.9L54.6 1232.1L49.2 1232.1L49.2 1215.9L49.2 1199.7L49.2 1183.5L49.2 1167.3L49.2 1151.1L50.3 1134.9L51.9 1118.7L60.0 1102.5L60.0 1102.5L76.2 1086.3L76.2 1086.3Z"/>
<path fill="#FF3700" stroke="#FF3700" stroke-width="0.7" d="M92.4 1082.2L108.6 1072.8L116.7 1070.1L124.8 1070.1L132.9 1070.1L124.8 1072.4L108.6 1078.2L96.4 1086.3L92.4 1089.0L76.2 1099.3L73.0 1102.5L62.7 1118.7L62.3 1134.9L60.0 1151.1L60.0 1167.3L60.0 1183.5L60.0 1199.7L60.0 1215.9L60.0 1232.1L60.0 1232.1L54.6 1232.1L54.6 1215.9L54.6 1199.7L54.6 1183.5L54.6 1167.3L54.6 1151.1L56.8 1134.9L57.3 1118.7L60.0 1113.3L66.5 1102.5L76.2 1092.8L87.0 1086.3Z"/>
<path fill="#FF4900" stroke="#FF4900" stroke-width="0.7" d="M108.6 1078.2L124.8 1072.4L132.9 1070.1L141.0 1070.1L149.1 1070.1L141.0 1071.9L124.8 1077.0L108.6 1083.6L104.5 1086.3L92.4 1094.4L80.2 1102.5L76.2 1106.5L68.1 1118.7L66.9 1134.9L64.6 1151.1L64.6 1167.3L64.6 1183.5L64.6 1199.7L64.6 1215.9L64.6 1232.1L60.0 1232.1L60.0 1215.9L60.0 1199.7L60.0 1183.5L60.0 1167.3L60.0 1151.1L62.3 1134.9L62.7 1118.7L73.0 1102.5L76.2 1099.3L92.4 1089.0L96.4 1086.3Z"/>
<path fill="#FF5B00" stroke="#FF5B00" stroke-width="0.7" d="M108.6 1083.6L124.8 1077.0L141.0 1071.9L149.1 1070.1L157.2 1070.1L165.3 1070.1L157.2 1071.7L141.0 1075.5L124.8 1081.7L114.0 1086.3L108.6 1089.0L92.4 1099.8L88.3 1102.5L76.2 1114.6L73.5 1118.7L71.6 1134.9L69.3 1151.1L69.3 1167.3L69.3 1183.5L69.3 1199.7L69.3 1215.9L69.3 1232.1L64.6 1232.1L64.6 1215.9L64.6 1199.7L64.6 1183.5L64.6 1167.3L64.6 1151.1L66.9 1134.9L68.1 1118.7L76.2 1106.5L80.2 1102.5L92.4 1094.4L104.5 1086.3Z"/>
<path fill="#FF6D00" stroke="#FF6D00" stroke-width="0.7" d="M124.8 1081.7L141.0 1075.5L157.2 1071.7L165.3 1070.1L173.4 1070.1L189.6 1070.1L189.6 1070.1L189.6 1070.1L173.4 1071.7L157.2 1075.0L141.0 1079.1L124.8 1086.3L124.8 1086.3L108.6 1094.4L96.4 1102.5L92.4 1106.5L80.2 1118.7L76.2 1134.9L76.2 1134.9L73.9 1151.1L73.9 1167.3L73.9 1183.5L73.9 1199.7L73.9 1215.9L73.9 1232.1L69.3 1232.1L69.3 1215.9L69.3 1199.7L69.3 1183.5L69.3 1167.3L69.3 1151.1L71.6 1134.9L73.5 1118.7L76.2 1114.6L88.3 1102.5L92.4 1099.8L108.6 1089.0L114.0 1086.3Z"/>
<path fill="#FF8000" stroke="#FF8000" stroke-width="0.7" d="M141.0 1079.1L157.2 1075.0L173.4 1071.7L189.6 1070.1L189.6 1070.1L205.8 1070.1L205.8 1071.7L189.6 1073.3L173.4 1075.0L157.2 1078.2L141.0 1082.7L132.9 1086.3L124.8 1090.3L108.6 1099.8L104.5 1102.5L92.4 1114.6L88.3 1118.7L82.7 1134.9L78.9 1151.1L78.9 1167.3L78.9 1183.5L78.9 1199.7L78.9 1215.9L78.9 1232.1L76.2 1232.1L73.9 1232.1L73.9 1215.9L73.9 1199.7L73.9 1183.5L73.9 1167.3L73.9 1151.1L76.2 1134.9L76.2 1134.9L80.2 1118.7L92.4 1106.5L96.4 1102.5L108.6 1094.4L124.8 1086.3L124.8 1086.3Z"/>
<path fill="#FF9200" stroke="#FF9200" stroke-width="0.7" d="M141.0 1082.7L157.2 1078.2L173.4 1075.0L189.6 1073.3L205.8 1071.7L205.8 1075.0L189.6 1076.6L173.4 1078.2L157.2 1081.4L141.0 1086.3L141.0 1086.3L124.8 1094.4L111.8 1102.5L108.6 1106.5L96.4 1118.7L92.4 1126.8L89.2 1134.9L84.3 1151.1L84.3 1167.3L84.3 1183.5L84.3 1199.7L84.3 1215.9L84.3 1232.1L78.9 1232.1L78.9 1215.9L78.9 1199.7L78.9 1183.5L78.9 1167.3L78.9 1151.1L82.7 1134.9L88.3 1118.7L92.4 1114.6L104.5 1102.5L108.6 1099.8L124.8 1090.3L132.9 1086.3Z"/>
<path fill="#FFA400" stroke="#FFA400" stroke-width="0.7" d="M157.2 1081.4L173.4 1078.2L189.6 1076.6L205.8 1075.0L205.8 1078.2L189.6 1079.8L173.4 1081.4L157.2 1084.7L151.8 1086.3L141.0 1089.9L124.8 1098.4L118.3 1102.5L108.6 1114.6L104.5 1118.7L95.6 1134.9L92.4 1143.0L89.7 1151.1L89.7 1167.3L89.7 1183.5L89.7 1199.7L89.7 1215.9L89.7 1232.1L84.3 1232.1L84.3 1215.9L84.3 1199.7L84.3 1183.5L84.3 1167.3L84.3 1151.1L89.2 1134.9L92.4 1126.8L96.4 1118.7L108.6 1106.5L111.8 1102.5L124.8 1094.4L141.0 1086.3L141.0 1086.3Z"/>
<path fill="#FFB600" stroke="#FFB600" stroke-width="0.7" d="M157.2 1084.7L173.4 1081.4L189.6 1079.8L205.8 1078.2L205.8 1081.4L189.6 1083.1L173.4 1084.7L165.3 1086.3L157.2 1088.4L141.0 1093.5L124.8 1102.5L124.8 1102.5L111.3 1118.7L108.6 1124.1L102.1 1134.9L95.4 1151.1L95.4 1167.3L95.4 1183.5L95.4 1199.7L95.4 1215.9L95.4 1232.1L92.4 1232.1L89.7 1232.1L89.7 1215.9L89.7 1199.7L89.7 1183.5L89.7 1167.3L89.7 1151.1L92.4 1143.0L95.6 1134.9L104.5 1118.7L108.6 1114.6L118.3 1102.5L124.8 1098.4L141.0 1089.9L151.8 1086.3Z"/>
<path fill="#FFC800" stroke="#FFC800" stroke-width="0.7" d="M173.4 1084.7L189.6 1083.1L205.8 1081.4L205.8 1084.7L189.6 1086.3L189.6 1086.3L173.4 1089.0L157.2 1092.7L141.0 1097.1L131.3 1102.5L124.8 1109.0L116.7 1118.7L108.6 1134.9L108.6 1134.9L101.4 1151.1L101.4 1167.3L101.4 1183.5L101.4 1199.7L101.4 1215.9L101.4 1232.1L95.4 1232.1L95.4 1215.9L95.4 1199.7L95.4 1183.5L95.4 1167.3L95.4 1151.1L102.1 1134.9L108.6 1124.1L111.3 1118.7L124.8 1102.5L124.8 1102.5L141.0 1093.5L157.2 1088.4L165.3 1086.3Z"/>
<path fill="#FFDB00" stroke="#FFDB00" stroke-width="0.7" d="M205.8 1084.7L205.8 1086.3L205.8 1090.0L189.6 1092.5L173.4 1094.4L157.2 1097.0L141.0 1100.7L137.8 1102.5L124.8 1115.5L122.1 1118.7L112.2 1134.9L108.6 1148.4L107.4 1151.1L107.4 1167.3L107.4 1183.5L107.4 1199.7L107.4 1215.9L107.4 1232.1L101.4 1232.1L101.4 1215.9L101.4 1199.7L101.4 1183.5L101.4 1167.3L101.4 1151.1L108.6 1134.9L108.6 1134.9L116.7 1118.7L124.8 1109.0L131.3 1102.5L141.0 1097.1L157.2 1092.7L173.4 1089.0L189.6 1086.3L189.6 1086.3Z"/>
<path fill="#FFED00" stroke="#FFED00" stroke-width="0.7" d="M141.0 1100.7L157.2 1097.0L173.4 1094.4L189.6 1092.5L205.8 1090.0L205.8 1097.3L189.6 1098.8L173.4 1099.8L157.2 1101.2L151.1 1102.5L141.0 1106.5L128.8 1118.7L124.8 1121.4L115.8 1134.9L111.0 1151.1L111.0 1167.3L111.0 1183.5L111.0 1199.7L111.0 1215.9L111.0 1232.1L108.6 1232.1L107.4 1232.1L107.4 1215.9L107.4 1199.7L107.4 1183.5L107.4 1167.3L107.4 1151.1L108.6 1148.4L112.2 1134.9L122.1 1118.7L124.8 1115.5L137.8 1102.5Z"/>
<path fill="#FFFF00" stroke="#FFFF00" stroke-width="0.7" d="M157.2 1101.2L173.4 1099.8L189.6 1098.8L205.8 1097.3L205.8 1102.5L205.8 1104.2L189.6 1104.9L173.4 1105.7L157.2 1107.7L141.0 1114.6L136.9 1118.7L124.8 1126.8L119.4 1134.9L114.1 1151.1L114.1 1167.3L114.1 1183.5L114.1 1199.7L114.1 1215.9L114.1 1232.1L111.0 1232.1L111.0 1215.9L111.0 1199.7L111.0 1183.5L111.0 1167.3L111.0 1151.1L115.8 1134.9L124.8 1121.4L128.8 1118.7L141.0 1106.5L151.1 1102.5Z"/>
<path fill="#FFFF19" stroke="#FFFF19" stroke-width="0.7" d="M141.0 1114.6L157.2 1107.7L173.4 1105.7L189.6 1104.9L205.8 1104.2L205.8 1110.0L189.6 1110.9L173.4 1112.2L157.2 1115.0L149.1 1118.7L141.0 1121.0L124.8 1132.2L123.0 1134.9L117.2 1151.1L117.2 1167.3L117.2 1183.5L117.2 1199.7L117.2 1215.9L117.2 1232.1L114.1 1232.1L114.1 1215.9L114.1 1199.7L114.1 1183.5L114.1 1167.3L114.1 1151.1L119.4 1134.9L124.8 1126.8L136.9 1118.7Z"/>
<path fill="#FFFF4D" stroke="#FFFF4D" stroke-width="0.7" d="M157.2 1115.0L173.4 1112.2L189.6 1110.9L205.8 1110.0L205.8 1115.8L189.6 1116.9L173.4 1118.7L173.4 1118.7L157.2 1121.6L141.0 1125.5L128.0 1134.9L124.8 1138.9L120.2 1151.1L120.2 1167.3L120.2 1183.5L120.2 1199.7L120.2 1215.9L120.2 1232.1L117.2 1232.1L117.2 1215.9L117.2 1199.7L117.2 1183.5L117.2 1167.3L117.2 1151.1L123.0 1134.9L124.8 1132.2L141.0 1121.0L149.1 1118.7Z"/>
<path fill="#FFFF80" stroke="#FFFF80" stroke-width="0.7" d="M189.6 1116.9L205.8 1115.8L205.8 1118.7L205.8 1123.2L189.6 1124.4L173.4 1125.7L157.2 1127.4L141.0 1130.1L134.3 1134.9L124.8 1147.0L123.3 1151.1L123.3 1167.3L123.3 1183.5L123.3 1199.7L123.3 1215.9L123.3 1232.1L120.2 1232.1L120.2 1215.9L120.2 1199.7L120.2 1183.5L120.2 1167.3L120.2 1151.1L124.8 1138.9L128.0 1134.9L141.0 1125.5L157.2 1121.6L173.4 1118.7L173.4 1118.7Z"/>
<path fill="#FFFFB2" stroke="#FFFFB2" stroke-width="0.7" d="M141.0 1130.1L157.2 1127.4L173.4 1125.7L189.6 1124.4L205.8 1123.2L205.8 1132.2L189.6 1132.5L173.4 1132.8L157.2 1133.2L141.0 1134.7L140.7 1134.9L134.9 1151.1L134.9 1167.3L134.9 1183.5L134.9 1199.7L134.9 1215.9L134.9 1232.1L124.8 1232.1L123.3 1232.1L123.3 1215.9L123.3 1199.7L123.3 1183.5L123.3 1167.3L123.3 1151.1L124.8 1147.0L134.3 1134.9Z"/>
<path fill="#FFFFE6" stroke="#FFFFE6" stroke-width="0.7" d="M141.0 1134.7L157.2 1133.2L173.4 1132.8L189.6 1132.5L205.8 1132.2L205.8 1134.9L205.8 1151.1L205.8 1167.3L205.8 1183.5L205.8 1199.7L205.8 1215.9L205.8 1232.1L189.6 1232.1L173.4 1232.1L157.2 1232.1L141.0 1232.1L134.9 1232.1L134.9 1215.9L134.9 1199.7L134.9 1183.5L134.9 1167.3L134.9 1151.1L140.7 1134.9Z"/>
<path d="M60.0 1070.1v162.0M43.8 1086.3h162.0M76.2 1070.1v162.0M43.8 1102.5h162.0M92.4 1070.1v162.0M43.8 1118.7h162.0M108.6 1070.1v162.0M43.8 1134.9h162.0M124.8 1070.1v162.0M43.8 1151.1h162.0M141.0 1070.1v162.0M43.8 1167.3h162.0M157.2 1070.1v162.0M43.8 1183.5h162.0M173.4 1070.1v162.0M43.8 1199.7h162.0M189.6 1070.1v162.0M43.8 1215.9h162.0" stroke="#fff" stroke-width="0.8" stroke-opacity="0.14" fill="none"/>
</g>
<path d="M60.0 1070.1v2.5M60.0 1232.1v-2.5M43.8 1086.3h2.5M205.8 1086.3h-2.5M76.2 1070.1v2.5M76.2 1232.1v-2.5M43.8 1102.5h2.5M205.8 1102.5h-2.5M92.4 1070.1v2.5M92.4 1232.1v-2.5M43.8 1118.7h2.5M205.8 1118.7h-2.5M108.6 1070.1v2.5M108.6 1232.1v-2.5M43.8 1134.9h2.5M205.8 1134.9h-2.5M124.8 1070.1v2.5M124.8 1232.1v-2.5M43.8 1151.1h2.5M205.8 1151.1h-2.5M141.0 1070.1v2.5M141.0 1232.1v-2.5M43.8 1167.3h2.5M205.8 1167.3h-2.5M157.2 1070.1v2.5M157.2 1232.1v-2.5M43.8 1183.5h2.5M205.8 1183.5h-2.5M173.4 1070.1v2.5M173.4 1232.1v-2.5M43.8 1199.7h2.5M205.8 1199.7h-2.5M189.6 1070.1v2.5M189.6 1232.1v-2.5M43.8 1215.9h2.5M205.8 1215.9h-2.5" stroke="#000" stroke-width="1.3" fill="none"/>
<rect x="43.8" y="1070.1" width="162.0" height="162.0" fill="none" stroke="#000" stroke-width="2"/>
<text x="124.8" y="1212.6" text-anchor="middle" class="s">Network Science</text>
<g><text x="31.85" y="1251.30" class="s">0.0</text></g>
<g><text x="112.85" y="1251.30" class="s">0.</text><path d="M133.59 1251.30L133.59 1239.00L132.19 1239.00C131.79 1240.10 130.59 1241.30 128.79 1242.00L128.79 1243.50C130.19 1243.10 131.19 1242.50 131.89 1241.70L131.89 1251.30Z" fill="#000"/></g>
<g transform="rotate(-90 36.4 1070.1)"><path d="M30.85 1070.10L30.85 1057.80L29.45 1057.80C29.05 1058.90 27.85 1060.10 26.05 1060.80L26.05 1062.30C27.45 1061.90 28.45 1061.30 29.15 1060.50L29.15 1070.10Z" fill="#000"/><text x="34.01" y="1070.10" class="s">.0</text></g>
<g transform="rotate(-90 36.4 1151.1)"><text x="24.45" y="1151.10" class="s">0.5</text></g>
<g>
<rect x="224.4" y="1070.1" width="162.0" height="162.0" fill="#FF0000"/>
<path fill="#FF0000" stroke="#FF0000" stroke-width="0.7" d="M240.6 1070.1L256.8 1070.1L273.0 1070.1L289.2 1070.1L305.4 1070.1L305.4 1070.1L305.4 1070.1L289.2 1075.5L275.7 1086.3L273.0 1087.8L256.8 1095.8L248.7 1102.5L240.6 1110.6L232.5 1118.7L228.1 1134.9L224.4 1151.1L224.4 1167.3L224.4 1183.5L224.4 1199.7L224.4 1215.9L224.4 1232.1L224.4 1232.1L224.4 1215.9L224.4 1199.7L224.4 1183.5L224.4 1167.3L224.4 1151.1L224.4 1134.9L224.4 1118.7L224.4 1102.5L224.4 1086.3L224.4 1070.1Z"/>
<path fill="#FF1200" stroke="#FF1200" stroke-width="0.7" d="M289.2 1075.5L305.4 1070.1L305.4 1070.1L321.6 1070.1L321.6 1070.1L321.6 1070.1L305.4 1078.2L289.2 1086.3L289.2 1086.3L273.0 1095.1L262.2 1102.5L256.8 1107.9L246.0 1118.7L240.6 1134.9L240.6 1134.9L235.2 1151.1L232.5 1167.3L232.5 1183.5L232.5 1199.7L232.5 1215.9L232.5 1232.1L224.4 1232.1L224.4 1215.9L224.4 1199.7L224.4 1183.5L224.4 1167.3L224.4 1151.1L228.1 1134.9L232.5 1118.7L240.6 1110.6L248.7 1102.5L256.8 1095.8L273.0 1087.8L275.7 1086.3Z"/>
<path fill="#FF2400" stroke="#FF2400" stroke-width="0.7" d="M305.4 1078.2L321.6 1070.1L321.6 1070.1L337.8 1070.1L337.8 1070.1L337.8 1070.1L321.6 1076.6L305.4 1086.3L305.4 1086.3L289.2 1092.8L273.0 1102.5L273.0 1102.5L256.8 1118.7L256.8 1118.7L248.7 1134.9L243.8 1151.1L240.6 1167.3L240.6 1183.5L240.6 1199.7L240.6 1215.9L240.6 1232.1L240.6 1232.1L232.5 1232.1L232.5 1215.9L232.5 1199.7L232.5 1183.5L232.5 1167.3L235.2 1151.1L240.6 1134.9L240.6 1134.9L246.0 1118.7L256.8 1107.9L262.2 1102.5L273.0 1095.1L289.2 1086.3L289.2 1086.3Z"/>
<path fill="#FF3700" stroke="#FF3700" stroke-width="0.7" d="M321.6 1076.6L337.8 1070.1L337.8 1070.1L354.0 1070.1L354.0 1070.1L354.0 1070.1L337.8 1076.6L321.6 1083.1L316.2 1086.3L305.4 1091.7L289.2 1099.3L283.8 1102.5L273.0 1110.6L264.9 1118.7L256.8 1134.9L256.8 1134.9L250.3 1151.1L247.1 1167.3L247.1 1183.5L247.1 1199.7L247.1 1215.9L247.1 1232.1L240.6 1232.1L240.6 1215.9L240.6 1199.7L240.6 1183.5L240.6 1167.3L243.8 1151.1L248.7 1134.9L256.8 1118.7L256.8 1118.7L273.0 1102.5L273.0 1102.5L289.2 1092.8L305.4 1086.3L305.4 1086.3Z"/>
<path fill="#FF4900" stroke="#FF4900" stroke-width="0.7" d="M321.6 1083.1L337.8 1076.6L354.0 1070.1L354.0 1070.1L370.2 1070.1L370.2 1070.1L370.2 1070.1L354.0 1076.6L337.8 1083.1L329.7 1086.3L321.6 1089.0L305.4 1097.1L294.6 1102.5L289.2 1105.7L273.0 1118.7L273.0 1118.7L263.3 1134.9L256.8 1151.1L256.8 1151.1L253.6 1167.3L253.6 1183.5L253.6 1199.7L253.6 1215.9L253.6 1232.1L247.1 1232.1L247.1 1215.9L247.1 1199.7L247.1 1183.5L247.1 1167.3L250.3 1151.1L256.8 1134.9L256.8 1134.9L264.9 1118.7L273.0 1110.6L283.8 1102.5L289.2 1099.3L305.4 1091.7L316.2 1086.3Z"/>
<path fill="#FF5B00" stroke="#FF5B00" stroke-width="0.7" d="M337.8 1083.1L354.0 1076.6L370.2 1070.1L370.2 1070.1L386.4 1070.1L386.4 1070.1L370.2 1076.6L354.0 1083.1L345.9 1086.3L337.8 1088.6L321.6 1094.4L305.4 1102.5L305.4 1102.5L289.2 1112.2L281.1 1118.7L273.0 1129.5L269.8 1134.9L262.2 1151.1L259.5 1167.3L259.1 1183.5L259.1 1199.7L259.1 1215.9L259.1 1232.1L256.8 1232.1L253.6 1232.1L253.6 1215.9L253.6 1199.7L253.6 1183.5L253.6 1167.3L256.8 1151.1L256.8 1151.1L263.3 1134.9L273.0 1118.7L273.0 1118.7L289.2 1105.7L294.6 1102.5L305.4 1097.1L321.6 1089.0L329.7 1086.3Z"/>
<path fill="#FF6D00" stroke="#FF6D00" stroke-width="0.7" d="M354.0 1083.1L370.2 1076.6L386.4 1070.1L386.4 1076.6L370.2 1083.1L362.1 1086.3L354.0 1088.3L337.8 1093.2L321.6 1099.8L316.2 1102.5L305.4 1107.9L289.2 1118.7L289.2 1118.7L276.2 1134.9L273.0 1140.3L267.6 1151.1L264.9 1167.3L263.7 1183.5L263.7 1199.7L263.7 1215.9L263.7 1232.1L259.1 1232.1L259.1 1215.9L259.1 1199.7L259.1 1183.5L259.5 1167.3L262.2 1151.1L269.8 1134.9L273.0 1129.5L281.1 1118.7L289.2 1112.2L305.4 1102.5L305.4 1102.5L321.6 1094.4L337.8 1088.6L345.9 1086.3Z"/>
<path fill="#FF8000" stroke="#FF8000" stroke-width="0.7" d="M370.2 1083.1L386.4 1076.6L386.4 1083.1L378.3 1086.3L370.2 1088.3L354.0 1092.4L337.8 1097.9L327.0 1102.5L321.6 1104.8L305.4 1113.3L297.3 1118.7L289.2 1126.8L282.7 1134.9L273.0 1151.1L273.0 1151.1L270.3 1167.3L268.4 1183.5L268.4 1199.7L268.4 1215.9L268.4 1232.1L263.7 1232.1L263.7 1215.9L263.7 1199.7L263.7 1183.5L264.9 1167.3L267.6 1151.1L273.0 1140.3L276.2 1134.9L289.2 1118.7L289.2 1118.7L305.4 1107.9L316.2 1102.5L321.6 1099.8L337.8 1093.2L354.0 1088.3L362.1 1086.3Z"/>
<path fill="#FF9200" stroke="#FF9200" stroke-width="0.7" d="M386.4 1083.1L386.4 1086.3L386.4 1088.3L370.2 1092.4L354.0 1096.4L337.8 1102.5L337.8 1102.5L321.6 1109.4L305.4 1118.7L305.4 1118.7L289.2 1134.9L289.2 1134.9L278.4 1151.1L275.3 1167.3L273.0 1183.5L273.0 1199.7L273.0 1215.9L273.0 1232.1L273.0 1232.1L268.4 1232.1L268.4 1215.9L268.4 1199.7L268.4 1183.5L270.3 1167.3L273.0 1151.1L273.0 1151.1L282.7 1134.9L289.2 1126.8L297.3 1118.7L305.4 1113.3L321.6 1104.8L327.0 1102.5L337.8 1097.9L354.0 1092.4L370.2 1088.3L378.3 1086.3Z"/>
<path fill="#FFA400" stroke="#FFA400" stroke-width="0.7" d="M354.0 1096.4L370.2 1092.4L386.4 1088.3L386.4 1092.4L370.2 1096.4L354.0 1100.5L348.6 1102.5L337.8 1107.1L321.6 1114.1L313.5 1118.7L305.4 1125.2L295.7 1134.9L289.2 1143.0L283.8 1151.1L279.9 1167.3L277.1 1183.5L277.1 1199.7L277.1 1215.9L277.1 1232.1L273.0 1232.1L273.0 1215.9L273.0 1199.7L273.0 1183.5L275.3 1167.3L278.4 1151.1L289.2 1134.9L289.2 1134.9L305.4 1118.7L305.4 1118.7L321.6 1109.4L337.8 1102.5L337.8 1102.5Z"/>
<path fill="#FFB600" stroke="#FFB600" stroke-width="0.7" d="M354.0 1100.5L370.2 1096.4L386.4 1092.4L386.4 1096.4L370.2 1100.5L362.1 1102.5L354.0 1105.0L337.8 1111.8L321.6 1118.7L321.6 1118.7L305.4 1131.7L302.2 1134.9L289.2 1151.1L289.2 1151.1L284.6 1167.3L281.1 1183.5L281.1 1199.7L281.1 1215.9L281.1 1232.1L277.1 1232.1L277.1 1215.9L277.1 1199.7L277.1 1183.5L279.9 1167.3L283.8 1151.1L289.2 1143.0L295.7 1134.9L305.4 1125.2L313.5 1118.7L321.6 1114.1L337.8 1107.1L348.6 1102.5Z"/>
<path fill="#FFC800" stroke="#FFC800" stroke-width="0.7" d="M370.2 1100.5L386.4 1096.4L386.4 1100.5L378.3 1102.5L370.2 1105.4L354.0 1109.9L337.8 1116.4L332.4 1118.7L321.6 1125.2L309.4 1134.9L305.4 1138.9L295.7 1151.1L289.2 1167.3L289.2 1167.3L285.1 1183.5L285.1 1199.7L285.1 1215.9L285.1 1232.1L281.1 1232.1L281.1 1215.9L281.1 1199.7L281.1 1183.5L284.6 1167.3L289.2 1151.1L289.2 1151.1L302.2 1134.9L305.4 1131.7L321.6 1118.7L321.6 1118.7L337.8 1111.8L354.0 1105.0L362.1 1102.5Z"/>
<path fill="#FFDB00" stroke="#FFDB00" stroke-width="0.7" d="M386.4 1100.5L386.4 1102.5L386.4 1106.4L370.2 1111.2L354.0 1114.8L344.0 1118.7L337.8 1122.8L321.6 1131.7L317.6 1134.9L305.4 1147.0L302.2 1151.1L296.2 1167.3L289.2 1183.5L289.2 1199.7L289.2 1215.9L289.2 1232.1L289.2 1232.1L285.1 1232.1L285.1 1215.9L285.1 1199.7L285.1 1183.5L289.2 1167.3L289.2 1167.3L295.7 1151.1L305.4 1138.9L309.4 1134.9L321.6 1125.2L332.4 1118.7L337.8 1116.4L354.0 1109.9L370.2 1105.4L378.3 1102.5Z"/>
<path fill="#FFED00" stroke="#FFED00" stroke-width="0.7" d="M354.0 1114.8L370.2 1111.2L386.4 1106.4L386.4 1114.1L370.2 1117.0L360.5 1118.7L354.0 1120.6L337.8 1130.8L329.7 1134.9L321.6 1141.6L312.1 1151.1L305.4 1161.2L303.3 1167.3L299.3 1183.5L299.3 1199.7L299.3 1215.9L299.3 1232.1L289.2 1232.1L289.2 1215.9L289.2 1199.7L289.2 1183.5L296.2 1167.3L302.2 1151.1L305.4 1147.0L317.6 1134.9L321.6 1131.7L337.8 1122.8L344.0 1118.7Z"/>
<path fill="#FFFF00" stroke="#FFFF00" stroke-width="0.7" d="M370.2 1117.0L386.4 1114.1L386.4 1118.7L386.4 1120.9L370.2 1123.9L354.0 1130.1L345.9 1134.9L337.8 1138.9L324.3 1151.1L321.6 1157.2L314.9 1167.3L310.0 1183.5L310.0 1199.7L310.0 1215.9L310.0 1232.1L305.4 1232.1L299.3 1232.1L299.3 1215.9L299.3 1199.7L299.3 1183.5L303.3 1167.3L305.4 1161.2L312.1 1151.1L321.6 1141.6L329.7 1134.9L337.8 1130.8L354.0 1120.6L360.5 1118.7Z"/>
<path fill="#FFFF19" stroke="#FFFF19" stroke-width="0.7" d="M354.0 1130.1L370.2 1123.9L386.4 1120.9L386.4 1126.5L370.2 1131.2L362.1 1134.9L354.0 1138.1L337.8 1147.0L333.3 1151.1L325.6 1167.3L321.6 1183.5L321.6 1199.7L321.6 1215.9L321.6 1232.1L321.6 1232.1L310.0 1232.1L310.0 1215.9L310.0 1199.7L310.0 1183.5L314.9 1167.3L321.6 1157.2L324.3 1151.1L337.8 1138.9L345.9 1134.9Z"/>
<path fill="#FFFF4D" stroke="#FFFF4D" stroke-width="0.7" d="M370.2 1131.2L386.4 1126.5L386.4 1132.1L378.3 1134.9L370.2 1138.4L354.0 1144.6L343.2 1151.1L337.8 1159.2L333.8 1167.3L329.7 1183.5L329.7 1199.7L329.7 1215.9L329.7 1232.1L321.6 1232.1L321.6 1215.9L321.6 1199.7L321.6 1183.5L325.6 1167.3L333.3 1151.1L337.8 1147.0L354.0 1138.1L362.1 1134.9Z"/>
<path fill="#FFFF80" stroke="#FFFF80" stroke-width="0.7" d="M386.4 1132.1L386.4 1134.9L386.4 1140.0L370.2 1145.5L354.0 1151.1L354.0 1151.1L345.9 1167.3L337.8 1183.5L337.8 1199.7L337.8 1215.9L337.8 1232.1L337.8 1232.1L329.7 1232.1L329.7 1215.9L329.7 1199.7L329.7 1183.5L333.8 1167.3L337.8 1159.2L343.2 1151.1L354.0 1144.6L370.2 1138.4L378.3 1134.9Z"/>
<path fill="#FFFFB2" stroke="#FFFFB2" stroke-width="0.7" d="M370.2 1145.5L386.4 1140.0L386.4 1150.1L381.0 1151.1L370.2 1161.9L367.5 1167.3L354.0 1182.0L353.2 1183.5L353.2 1199.7L353.2 1215.9L353.2 1232.1L337.8 1232.1L337.8 1215.9L337.8 1199.7L337.8 1183.5L345.9 1167.3L354.0 1151.1L354.0 1151.1Z"/>
<path fill="#FFFFE6" stroke="#FFFFE6" stroke-width="0.7" d="M386.4 1150.1L386.4 1151.1L386.4 1167.3L386.4 1183.5L386.4 1199.7L386.4 1215.9L386.4 1232.1L370.2 1232.1L354.0 1232.1L353.2 1232.1L353.2 1215.9L353.2 1199.7L353.2 1183.5L354.0 1182.0L367.5 1167.3L370.2 1161.9L381.0 1151.1Z"/>
<path d="M240.6 1070.1v162.0M224.4 1086.3h162.0M256.8 1070.1v162.0M224.4 1102.5h162.0M273.0 1070.1v162.0M224.4 1118.7h162.0M289.2 1070.1v162.0M224.4 1134.9h162.0M305.4 1070.1v162.0M224.4 1151.1h162.0M321.6 1070.1v162.0M224.4 1167.3h162.0M337.8 1070.1v162.0M224.4 1183.5h162.0M354.0 1070.1v162.0M224.4 1199.7h162.0M370.2 1070.1v162.0M224.4 1215.9h162.0" stroke="#fff" stroke-width="0.8" stroke-opacity="0.14" fill="none"/>
</g>
<path d="M240.6 1070.1v2.5M240.6 1232.1v-2.5M224.4 1086.3h2.5M386.4 1086.3h-2.5M256.8 1070.1v2.5M256.8 1232.1v-2.5M224.4 1102.5h2.5M386.4 1102.5h-2.5M273.0 1070.1v2.5M273.0 1232.1v-2.5M224.4 1118.7h2.5M386.4 1118.7h-2.5M289.2 1070.1v2.5M289.2 1232.1v-2.5M224.4 1134.9h2.5M386.4 1134.9h-2.5M305.4 1070.1v2.5M305.4 1232.1v-2.5M224.4 1151.1h2.5M386.4 1151.1h-2.5M321.6 1070.1v2.5M321.6 1232.1v-2.5M224.4 1167.3h2.5M386.4 1167.3h-2.5M337.8 1070.1v2.5M337.8 1232.1v-2.5M224.4 1183.5h2.5M386.4 1183.5h-2.5M354.0 1070.1v2.5M354.0 1232.1v-2.5M224.4 1199.7h2.5M386.4 1199.7h-2.5M370.2 1070.1v2.5M370.2 1232.1v-2.5M224.4 1215.9h2.5M386.4 1215.9h-2.5" stroke="#000" stroke-width="1.3" fill="none"/>
<rect x="224.4" y="1070.1" width="162.0" height="162.0" fill="none" stroke="#000" stroke-width="2"/>
<text x="305.4" y="1212.6" text-anchor="middle" class="s" textLength="157" lengthAdjust="spacing">Comp. Social Science</text>
<g><text x="212.45" y="1251.30" class="s">0.0</text></g>
<g><text x="293.45" y="1251.30" class="s">0.</text><path d="M314.19 1251.30L314.19 1239.00L312.79 1239.00C312.39 1240.10 311.19 1241.30 309.39 1242.00L309.39 1243.50C310.79 1243.10 311.79 1242.50 312.49 1241.70L312.49 1251.30Z" fill="#000"/></g>
<g>
<rect x="405.0" y="1070.1" width="162.0" height="162.0" fill="#FF0000"/>
<path fill="#FF0000" stroke="#FF0000" stroke-width="0.7" d="M421.2 1070.1L421.2 1070.1L421.2 1070.1L409.1 1086.3L405.0 1102.5L405.0 1118.7L405.0 1134.9L405.0 1151.1L405.0 1167.3L405.0 1183.5L405.0 1199.7L405.0 1215.9L405.0 1232.1L405.0 1232.1L405.0 1215.9L405.0 1199.7L405.0 1183.5L405.0 1167.3L405.0 1151.1L405.0 1134.9L405.0 1118.7L405.0 1102.5L405.0 1086.3L405.0 1070.1Z"/>
<path fill="#FF1200" stroke="#FF1200" stroke-width="0.7" d="M421.2 1070.1L421.2 1070.1L437.4 1070.1L453.6 1070.1L453.6 1070.1L453.6 1070.1L437.4 1074.1L421.2 1080.9L417.1 1086.3L413.1 1102.5L411.5 1118.7L411.5 1134.9L411.5 1151.1L411.5 1167.3L411.5 1183.5L411.5 1199.7L411.5 1215.9L411.5 1232.1L405.0 1232.1L405.0 1215.9L405.0 1199.7L405.0 1183.5L405.0 1167.3L405.0 1151.1L405.0 1134.9L405.0 1118.7L405.0 1102.5L409.1 1086.3Z"/>
<path fill="#FF2400" stroke="#FF2400" stroke-width="0.7" d="M421.2 1080.9L437.4 1074.1L453.6 1070.1L453.6 1070.1L469.8 1070.1L486.0 1070.1L486.0 1070.1L486.0 1070.1L469.8 1072.8L453.6 1076.6L437.4 1082.2L429.3 1086.3L421.2 1102.5L421.2 1102.5L418.0 1118.7L418.0 1134.9L418.0 1151.1L418.0 1167.3L418.0 1183.5L418.0 1199.7L418.0 1215.9L418.0 1232.1L411.5 1232.1L411.5 1215.9L411.5 1199.7L411.5 1183.5L411.5 1167.3L411.5 1151.1L411.5 1134.9L411.5 1118.7L413.1 1102.5L417.1 1086.3Z"/>
<path fill="#FF3700" stroke="#FF3700" stroke-width="0.7" d="M437.4 1082.2L453.6 1076.6L469.8 1072.8L486.0 1070.1L486.0 1070.1L502.2 1070.1L518.4 1070.1L518.4 1070.1L518.4 1070.1L502.2 1072.4L486.0 1074.7L469.8 1078.2L453.6 1083.1L445.5 1086.3L437.4 1091.7L429.3 1102.5L424.4 1118.7L423.9 1134.9L423.9 1151.1L423.9 1167.3L423.9 1183.5L423.9 1199.7L423.9 1215.9L423.9 1232.1L421.2 1232.1L418.0 1232.1L418.0 1215.9L418.0 1199.7L418.0 1183.5L418.0 1167.3L418.0 1151.1L418.0 1134.9L418.0 1118.7L421.2 1102.5L421.2 1102.5L429.3 1086.3Z"/>
<path fill="#FF4900" stroke="#FF4900" stroke-width="0.7" d="M453.6 1083.1L469.8 1078.2L486.0 1074.7L502.2 1072.4L518.4 1070.1L518.4 1070.1L534.6 1070.1L550.8 1070.1L550.8 1070.1L550.8 1070.1L534.6 1072.4L518.4 1074.7L502.2 1077.0L486.0 1079.4L469.8 1083.6L461.7 1086.3L453.6 1090.3L437.4 1102.5L437.4 1102.5L430.9 1118.7L429.3 1134.9L429.3 1151.1L429.3 1167.3L429.3 1183.5L429.3 1199.7L429.3 1215.9L429.3 1232.1L423.9 1232.1L423.9 1215.9L423.9 1199.7L423.9 1183.5L423.9 1167.3L423.9 1151.1L423.9 1134.9L424.4 1118.7L429.3 1102.5L437.4 1091.7L445.5 1086.3Z"/>
<path fill="#FF5B00" stroke="#FF5B00" stroke-width="0.7" d="M469.8 1083.6L486.0 1079.4L502.2 1077.0L518.4 1074.7L534.6 1072.4L550.8 1070.1L550.8 1070.1L567.0 1070.1L567.0 1072.1L550.8 1074.1L534.6 1077.0L518.4 1079.4L502.2 1081.7L486.0 1084.0L477.9 1086.3L469.8 1089.5L453.6 1098.4L448.2 1102.5L437.4 1118.7L437.4 1118.7L434.7 1134.9L434.7 1151.1L434.7 1167.3L434.7 1183.5L434.7 1199.7L434.7 1215.9L434.7 1232.1L429.3 1232.1L429.3 1215.9L429.3 1199.7L429.3 1183.5L429.3 1167.3L429.3 1151.1L429.3 1134.9L430.9 1118.7L437.4 1102.5L437.4 1102.5L453.6 1090.3L461.7 1086.3Z"/>
<path fill="#FF6D00" stroke="#FF6D00" stroke-width="0.7" d="M486.0 1084.0L502.2 1081.7L518.4 1079.4L534.6 1077.0L550.8 1074.1L567.0 1072.1L567.0 1076.2L550.8 1078.2L534.6 1081.7L518.4 1084.0L502.2 1086.3L502.2 1086.3L486.0 1089.0L469.8 1096.0L459.0 1102.5L453.6 1107.9L445.5 1118.7L440.6 1134.9L440.1 1151.1L439.9 1167.3L439.7 1183.5L439.7 1199.7L439.7 1215.9L439.7 1232.1L437.4 1232.1L434.7 1232.1L434.7 1215.9L434.7 1199.7L434.7 1183.5L434.7 1167.3L434.7 1151.1L434.7 1134.9L437.4 1118.7L437.4 1118.7L448.2 1102.5L453.6 1098.4L469.8 1089.5L477.9 1086.3Z"/>
<path fill="#FF8000" stroke="#FF8000" stroke-width="0.7" d="M518.4 1084.0L534.6 1081.7L550.8 1078.2L567.0 1076.2L567.0 1080.2L550.8 1082.2L534.6 1086.3L534.6 1086.3L518.4 1088.6L502.2 1090.9L486.0 1094.4L469.8 1102.5L469.8 1102.5L453.6 1118.7L453.6 1118.7L447.1 1134.9L445.5 1151.1L444.8 1167.3L444.3 1183.5L444.3 1199.7L444.3 1215.9L444.3 1232.1L439.7 1232.1L439.7 1215.9L439.7 1199.7L439.7 1183.5L439.9 1167.3L440.1 1151.1L440.6 1134.9L445.5 1118.7L453.6 1107.9L459.0 1102.5L469.8 1096.0L486.0 1089.0L502.2 1086.3L502.2 1086.3Z"/>
<path fill="#FF9200" stroke="#FF9200" stroke-width="0.7" d="M550.8 1082.2L567.0 1080.2L567.0 1084.3L550.8 1086.3L550.8 1086.3L534.6 1090.9L518.4 1093.2L502.2 1095.6L486.0 1099.8L480.6 1102.5L469.8 1110.6L461.7 1118.7L453.6 1134.9L453.6 1134.9L450.9 1151.1L449.7 1167.3L449.0 1183.5L449.0 1199.7L449.0 1215.9L449.0 1232.1L444.3 1232.1L444.3 1215.9L444.3 1199.7L444.3 1183.5L444.8 1167.3L445.5 1151.1L447.1 1134.9L453.6 1118.7L453.6 1118.7L469.8 1102.5L469.8 1102.5L486.0 1094.4L502.2 1090.9L518.4 1088.6L534.6 1086.3L534.6 1086.3Z"/>
<path fill="#FFA400" stroke="#FFA400" stroke-width="0.7" d="M567.0 1084.3L567.0 1086.3L567.0 1089.0L550.8 1091.7L534.6 1095.6L518.4 1097.9L502.2 1100.2L494.1 1102.5L486.0 1106.5L469.8 1118.7L469.8 1118.7L460.1 1134.9L456.3 1151.1L454.5 1167.3L453.6 1183.5L453.6 1199.7L453.6 1215.9L453.6 1232.1L453.6 1232.1L449.0 1232.1L449.0 1215.9L449.0 1199.7L449.0 1183.5L449.7 1167.3L450.9 1151.1L453.6 1134.9L453.6 1134.9L461.7 1118.7L469.8 1110.6L480.6 1102.5L486.0 1099.8L502.2 1095.6L518.4 1093.2L534.6 1090.9L550.8 1086.3L550.8 1086.3Z"/>
<path fill="#FFB600" stroke="#FFB600" stroke-width="0.7" d="M502.2 1100.2L518.4 1097.9L534.6 1095.6L550.8 1091.7L567.0 1089.0L567.0 1094.4L550.8 1097.1L534.6 1100.2L518.4 1102.5L518.4 1102.5L502.2 1106.5L486.0 1114.6L480.6 1118.7L469.8 1129.5L466.6 1134.9L461.7 1151.1L458.9 1167.3L457.6 1183.5L457.6 1199.7L457.6 1215.9L457.6 1232.1L453.6 1232.1L453.6 1215.9L453.6 1199.7L453.6 1183.5L454.5 1167.3L456.3 1151.1L460.1 1134.9L469.8 1118.7L469.8 1118.7L486.0 1106.5L494.1 1102.5Z"/>
<path fill="#FFC800" stroke="#FFC800" stroke-width="0.7" d="M534.6 1100.2L550.8 1097.1L567.0 1094.4L567.0 1099.8L550.8 1102.5L550.8 1102.5L534.6 1105.7L518.4 1109.0L502.2 1114.6L494.1 1118.7L486.0 1122.8L473.9 1134.9L469.8 1143.0L467.1 1151.1L463.2 1167.3L461.7 1183.5L461.7 1199.7L461.7 1215.9L461.7 1232.1L457.6 1232.1L457.6 1215.9L457.6 1199.7L457.6 1183.5L458.9 1167.3L461.7 1151.1L466.6 1134.9L469.8 1129.5L480.6 1118.7L486.0 1114.6L502.2 1106.5L518.4 1102.5L518.4 1102.5Z"/>
<path fill="#FFDB00" stroke="#FFDB00" stroke-width="0.7" d="M567.0 1099.8L567.0 1102.5L567.0 1106.4L550.8 1109.5L534.6 1112.2L518.4 1115.5L510.3 1118.7L502.2 1122.8L486.0 1130.8L481.9 1134.9L473.0 1151.1L469.8 1159.2L467.6 1167.3L465.8 1183.5L465.8 1199.7L465.8 1215.9L465.8 1232.1L461.7 1232.1L461.7 1215.9L461.7 1199.7L461.7 1183.5L463.2 1167.3L467.1 1151.1L469.8 1143.0L473.9 1134.9L486.0 1122.8L494.1 1118.7L502.2 1114.6L518.4 1109.0L534.6 1105.7L550.8 1102.5L550.8 1102.5Z"/>
<path fill="#FFED00" stroke="#FFED00" stroke-width="0.7" d="M518.4 1115.5L534.6 1112.2L550.8 1109.5L567.0 1106.4L567.0 1114.1L550.8 1116.6L534.6 1118.7L534.6 1118.7L518.4 1122.8L502.2 1130.8L494.1 1134.9L486.0 1140.3L479.5 1151.1L473.0 1167.3L469.8 1183.5L469.8 1199.7L469.8 1215.9L469.8 1232.1L469.8 1232.1L465.8 1232.1L465.8 1215.9L465.8 1199.7L465.8 1183.5L467.6 1167.3L469.8 1159.2L473.0 1151.1L481.9 1134.9L486.0 1130.8L502.2 1122.8L510.3 1118.7Z"/>
<path fill="#FFFF00" stroke="#FFFF00" stroke-width="0.7" d="M550.8 1116.6L567.0 1114.1L567.0 1118.7L567.0 1121.2L550.8 1122.9L534.6 1125.2L518.4 1130.8L510.3 1134.9L502.2 1138.9L486.0 1151.1L486.0 1151.1L479.5 1167.3L476.3 1183.5L476.3 1199.7L476.3 1215.9L476.3 1232.1L469.8 1232.1L469.8 1215.9L469.8 1199.7L469.8 1183.5L473.0 1167.3L479.5 1151.1L486.0 1140.3L494.1 1134.9L502.2 1130.8L518.4 1122.8L534.6 1118.7L534.6 1118.7Z"/>
<path fill="#FFFF19" stroke="#FFFF19" stroke-width="0.7" d="M518.4 1130.8L534.6 1125.2L550.8 1122.9L567.0 1121.2L567.0 1127.4L550.8 1128.9L534.6 1131.7L526.5 1134.9L518.4 1138.9L502.2 1147.0L496.8 1151.1L486.0 1167.3L486.0 1167.3L482.8 1183.5L482.8 1199.7L482.8 1215.9L482.8 1232.1L476.3 1232.1L476.3 1215.9L476.3 1199.7L476.3 1183.5L479.5 1167.3L486.0 1151.1L486.0 1151.1L502.2 1138.9L510.3 1134.9Z"/>
<path fill="#FFFF4D" stroke="#FFFF4D" stroke-width="0.7" d="M534.6 1131.7L550.8 1128.9L567.0 1127.4L567.0 1133.7L550.8 1134.9L550.8 1134.9L534.6 1140.0L518.4 1147.0L510.3 1151.1L502.2 1159.2L496.8 1167.3L491.4 1183.5L490.8 1199.7L490.8 1215.9L490.8 1232.1L486.0 1232.1L482.8 1232.1L482.8 1215.9L482.8 1199.7L482.8 1183.5L486.0 1167.3L486.0 1167.3L496.8 1151.1L502.2 1147.0L518.4 1138.9L526.5 1134.9Z"/>
<path fill="#FFFF80" stroke="#FFFF80" stroke-width="0.7" d="M567.0 1133.7L567.0 1134.9L567.0 1144.9L550.8 1147.4L534.6 1150.1L531.9 1151.1L518.4 1162.7L513.8 1167.3L502.2 1183.5L502.2 1183.5L500.3 1199.7L500.3 1215.9L500.3 1232.1L490.8 1232.1L490.8 1215.9L490.8 1199.7L491.4 1183.5L496.8 1167.3L502.2 1159.2L510.3 1151.1L518.4 1147.0L534.6 1140.0L550.8 1134.9L550.8 1134.9Z"/>
<path fill="#FFFFB2" stroke="#FFFFB2" stroke-width="0.7" d="M534.6 1150.1L550.8 1147.4L567.0 1144.9L567.0 1151.1L567.0 1164.6L558.9 1167.3L550.8 1171.3L534.6 1180.8L531.9 1183.5L524.9 1199.7L518.4 1215.9L518.4 1232.1L518.4 1232.1L502.2 1232.1L500.3 1232.1L500.3 1215.9L500.3 1199.7L502.2 1183.5L502.2 1183.5L513.8 1167.3L518.4 1162.7L531.9 1151.1Z"/>
<path fill="#FFFFE6" stroke="#FFFFE6" stroke-width="0.7" d="M567.0 1164.6L567.0 1167.3L567.0 1183.5L567.0 1199.7L567.0 1215.9L567.0 1232.1L550.8 1232.1L534.6 1232.1L518.4 1232.1L518.4 1215.9L524.9 1199.7L531.9 1183.5L534.6 1180.8L550.8 1171.3L558.9 1167.3Z"/>
<path d="M421.2 1070.1v162.0M405.0 1086.3h162.0M437.4 1070.1v162.0M405.0 1102.5h162.0M453.6 1070.1v162.0M405.0 1118.7h162.0M469.8 1070.1v162.0M405.0 1134.9h162.0M486.0 1070.1v162.0M405.0 1151.1h162.0M502.2 1070.1v162.0M405.0 1167.3h162.0M518.4 1070.1v162.0M405.0 1183.5h162.0M534.6 1070.1v162.0M405.0 1199.7h162.0M550.8 1070.1v162.0M405.0 1215.9h162.0" stroke="#fff" stroke-width="0.8" stroke-opacity="0.14" fill="none"/>
</g>
<path d="M421.2 1070.1v2.5M421.2 1232.1v-2.5M405.0 1086.3h2.5M567.0 1086.3h-2.5M437.4 1070.1v2.5M437.4 1232.1v-2.5M405.0 1102.5h2.5M567.0 1102.5h-2.5M453.6 1070.1v2.5M453.6 1232.1v-2.5M405.0 1118.7h2.5M567.0 1118.7h-2.5M469.8 1070.1v2.5M469.8 1232.1v-2.5M405.0 1134.9h2.5M567.0 1134.9h-2.5M486.0 1070.1v2.5M486.0 1232.1v-2.5M405.0 1151.1h2.5M567.0 1151.1h-2.5M502.2 1070.1v2.5M502.2 1232.1v-2.5M405.0 1167.3h2.5M567.0 1167.3h-2.5M518.4 1070.1v2.5M518.4 1232.1v-2.5M405.0 1183.5h2.5M567.0 1183.5h-2.5M534.6 1070.1v2.5M534.6 1232.1v-2.5M405.0 1199.7h2.5M567.0 1199.7h-2.5M550.8 1070.1v2.5M550.8 1232.1v-2.5M405.0 1215.9h2.5M567.0 1215.9h-2.5" stroke="#000" stroke-width="1.3" fill="none"/>
<rect x="405.0" y="1070.1" width="162.0" height="162.0" fill="none" stroke="#000" stroke-width="2"/>
<text x="486.0" y="1212.6" text-anchor="middle" class="s">Total</text>
<g><text x="393.05" y="1251.30" class="s">0.0</text></g>
<g><text x="474.05" y="1251.30" class="s">0.</text><path d="M494.79 1251.30L494.79 1239.00L493.39 1239.00C492.99 1240.10 491.79 1241.30 489.99 1242.00L489.99 1243.50C491.39 1243.10 492.39 1242.50 493.09 1241.70L493.09 1251.30Z" fill="#000"/></g>
<g transform="rotate(-90 586.3 1151.1)"><text x="574.35" y="1151.10" class="s">0.5</text></g>
<g transform="rotate(-90 586.3 1232.1)"><text x="574.35" y="1232.10" class="s">0.0</text></g>
<text x="305.4" y="1267.6" text-anchor="middle" class="s">Genericness</text>
<text x="14.8" y="1070.0" text-anchor="middle" transform="rotate(-90 14.8 1070.0)" class="s" style="font-size:17.5px">Specificity</text>
<rect x="621.4" y="983.55" width="17.4" height="162.00" fill="#FF0000"/>
<rect x="621.4" y="983.55" width="17.4" height="153.90" fill="#FF1200"/>
<rect x="621.4" y="983.55" width="17.4" height="145.80" fill="#FF2400"/>
<rect x="621.4" y="983.55" width="17.4" height="137.70" fill="#FF3700"/>
<rect x="621.4" y="983.55" width="17.4" height="129.60" fill="#FF4900"/>
<rect x="621.4" y="983.55" width="17.4" height="121.50" fill="#FF5B00"/>
<rect x="621.4" y="983.55" width="17.4" height="113.40" fill="#FF6D00"/>
<rect x="621.4" y="983.55" width="17.4" height="105.30" fill="#FF8000"/>
<rect x="621.4" y="983.55" width="17.4" height="97.20" fill="#FF9200"/>
<rect x="621.4" y="983.55" width="17.4" height="89.10" fill="#FFA400"/>
<rect x="621.4" y="983.55" width="17.4" height="81.00" fill="#FFB600"/>
<rect x="621.4" y="983.55" width="17.4" height="72.90" fill="#FFC800"/>
<rect x="621.4" y="983.55" width="17.4" height="64.80" fill="#FFDB00"/>
<rect x="621.4" y="983.55" width="17.4" height="56.70" fill="#FFED00"/>
<rect x="621.4" y="983.55" width="17.4" height="48.60" fill="#FFFF00"/>
<rect x="621.4" y="983.55" width="17.4" height="40.50" fill="#FFFF19"/>
<rect x="621.4" y="983.55" width="17.4" height="32.40" fill="#FFFF4D"/>
<rect x="621.4" y="983.55" width="17.4" height="24.30" fill="#FFFF80"/>
<rect x="621.4" y="983.55" width="17.4" height="16.20" fill="#FFFFB2"/>
<rect x="621.4" y="983.55" width="17.4" height="8.10" fill="#FFFFE6"/>
<path d="M621.4 999.8h2.5M638.8 999.8h-2.5M621.4 1015.9h2.5M638.8 1015.9h-2.5M621.4 1032.1h2.5M638.8 1032.1h-2.5M621.4 1048.3h2.5M638.8 1048.3h-2.5M621.4 1064.5h2.5M638.8 1064.5h-2.5M621.4 1080.8h2.5M638.8 1080.8h-2.5M621.4 1097.0h2.5M638.8 1097.0h-2.5M621.4 1113.1h2.5M638.8 1113.1h-2.5M621.4 1129.3h2.5M638.8 1129.3h-2.5" stroke="#000" stroke-width="1.3" fill="none"/>
<rect x="621.4" y="983.5" width="17.4" height="162.0" fill="none" stroke="#000" stroke-width="2"/>
<g transform="rotate(-90 657.4 983.5)"><path d="M651.85 983.55L651.85 971.25L650.45 971.25C650.05 972.35 648.85 973.55 647.05 974.25L647.05 975.75C648.45 975.35 649.45 974.75 650.15 973.95L650.15 983.55Z" fill="#000"/><text x="655.01" y="983.55" class="s">.0</text></g>
<g transform="rotate(-90 657.4 1064.5)"><text x="645.45" y="1064.55" class="s">0.5</text></g>
<g transform="rotate(-90 657.4 1145.5)"><text x="645.45" y="1145.55" class="s">0.0</text></g>
<text x="678.0" y="1065.0" text-anchor="middle" transform="rotate(-90 678.0 1065.0)" class="s">Recall</text>
<g>
<rect x="43.8" y="1323.0" width="162.0" height="162.0" fill="#FF5B00"/>
<path fill="#FF5B00" stroke="#FF5B00" stroke-width="0.7" d="M141.0 1404.0L157.2 1404.0L157.2 1404.0L173.4 1420.2L173.4 1420.2L189.6 1428.3L205.8 1429.9L205.8 1436.4L205.8 1452.6L205.8 1468.8L205.8 1485.0L189.6 1485.0L173.4 1485.0L157.2 1485.0L141.0 1485.0L124.8 1485.0L108.6 1485.0L92.4 1485.0L76.2 1485.0L60.0 1485.0L59.3 1485.0L59.4 1468.8L59.4 1452.6L60.0 1436.4L60.0 1436.4L60.0 1436.4L76.2 1443.2L92.4 1443.2L104.0 1436.4L108.6 1434.5L113.2 1436.4L124.8 1443.2L141.0 1447.2L157.2 1445.0L170.2 1436.4L157.2 1420.2L141.0 1422.9L124.8 1420.2L124.8 1420.2L124.8 1420.2L141.0 1404.0Z"/>
<path fill="#FF6D00" stroke="#FF6D00" stroke-width="0.7" d="M124.8 1395.9L141.0 1393.2L157.2 1391.5L173.4 1394.5L189.6 1397.8L205.8 1401.3L205.8 1404.0L205.8 1420.2L205.8 1429.9L189.6 1428.3L173.4 1420.2L173.4 1420.2L157.2 1404.0L157.2 1404.0L141.0 1404.0L141.0 1404.0L124.8 1420.2L124.8 1420.2L124.8 1420.2L141.0 1422.9L157.2 1420.2L170.2 1436.4L157.2 1445.0L141.0 1447.2L124.8 1443.2L113.2 1436.4L108.6 1434.5L104.0 1436.4L92.4 1443.2L76.2 1443.2L60.0 1436.4L60.0 1436.4L60.0 1436.4L59.4 1452.6L59.4 1468.8L59.3 1485.0L58.5 1485.0L58.6 1468.8L58.6 1452.6L59.1 1436.4L60.0 1431.0L76.2 1428.3L92.4 1432.3L108.6 1425.0L114.0 1420.2L121.6 1404.0Z"/>
<path fill="#FF8000" stroke="#FF8000" stroke-width="0.7" d="M76.2 1371.6L92.4 1371.6L92.4 1371.6L95.6 1387.8L92.4 1404.0L92.4 1404.0L84.3 1420.2L92.4 1424.2L100.5 1420.2L108.6 1414.8L115.1 1404.0L121.6 1387.8L124.8 1382.4L141.0 1383.8L157.2 1382.1L173.4 1382.4L189.6 1385.1L205.8 1387.8L205.8 1387.8L205.8 1401.3L189.6 1397.8L173.4 1394.5L157.2 1391.5L141.0 1393.2L124.8 1395.9L121.6 1404.0L114.0 1420.2L108.6 1425.0L92.4 1432.3L76.2 1428.3L60.0 1431.0L59.1 1436.4L58.6 1452.6L58.6 1468.8L58.5 1485.0L57.7 1485.0L57.8 1468.8L57.8 1452.6L58.3 1436.4L60.0 1425.6L70.8 1420.2L72.1 1404.0L72.1 1387.8L76.2 1371.6Z"/>
<path fill="#FF9200" stroke="#FF9200" stroke-width="0.7" d="M76.2 1366.2L92.4 1365.1L97.8 1371.6L102.1 1387.8L108.6 1404.0L115.1 1387.8L124.8 1371.6L124.8 1371.6L124.8 1371.6L141.0 1375.7L157.2 1374.0L173.4 1371.6L173.4 1371.6L189.6 1371.6L189.6 1371.6L205.8 1374.3L205.8 1387.8L189.6 1385.1L173.4 1382.4L157.2 1382.1L141.0 1383.8L124.8 1382.4L121.6 1387.8L115.1 1404.0L108.6 1414.8L100.5 1420.2L92.4 1424.2L84.3 1420.2L92.4 1404.0L92.4 1404.0L95.6 1387.8L92.4 1371.6L92.4 1371.6L76.2 1371.6L76.2 1371.6L72.1 1387.8L72.1 1404.0L70.8 1420.2L60.0 1425.6L58.3 1436.4L57.8 1452.6L57.8 1468.8L57.7 1485.0L56.9 1485.0L57.0 1468.8L57.0 1452.6L57.4 1436.4L60.0 1420.2L60.0 1420.2L64.0 1404.0L64.0 1387.8L68.1 1371.6Z"/>
<path fill="#FFA400" stroke="#FFA400" stroke-width="0.7" d="M189.6 1355.4L189.6 1355.4L205.8 1361.6L205.8 1371.6L205.8 1374.3L189.6 1371.6L189.6 1371.6L173.4 1371.6L173.4 1371.6L157.2 1374.0L141.0 1375.7L124.8 1371.6L124.8 1371.6L124.8 1371.6L115.1 1387.8L108.6 1404.0L102.1 1387.8L97.8 1371.6L92.4 1365.1L76.2 1366.2L68.1 1371.6L64.0 1387.8L64.0 1404.0L60.0 1420.2L60.0 1420.2L57.4 1436.4L57.0 1452.6L57.0 1468.8L56.9 1485.0L56.1 1485.0L56.1 1468.8L56.1 1452.6L56.6 1436.4L59.0 1420.2L59.5 1404.0L59.5 1387.8L60.0 1371.6L60.0 1371.6L76.2 1360.8L92.4 1358.6L103.2 1371.6L108.6 1387.8L116.7 1371.6L124.8 1360.8L141.0 1366.2L157.2 1362.2L173.4 1359.1L189.6 1355.4Z"/>
<path fill="#FFB600" stroke="#FFB600" stroke-width="0.7" d="M76.2 1355.4L92.4 1354.6L97.8 1355.4L108.6 1371.6L119.4 1355.4L124.8 1354.6L141.0 1355.4L157.2 1354.6L173.4 1354.3L189.6 1353.9L205.8 1354.6L205.8 1355.4L205.8 1361.6L189.6 1355.4L189.6 1355.4L189.6 1355.4L173.4 1359.1L157.2 1362.2L141.0 1366.2L124.8 1360.8L116.7 1371.6L108.6 1387.8L103.2 1371.6L92.4 1358.6L76.2 1360.8L60.0 1371.6L60.0 1371.6L59.5 1387.8L59.5 1404.0L59.0 1420.2L56.6 1436.4L56.1 1452.6L56.1 1468.8L56.1 1485.0L55.3 1485.0L55.3 1468.8L55.3 1452.6L55.7 1436.4L58.0 1420.2L58.4 1404.0L58.4 1387.8L58.9 1371.6L60.0 1370.1L76.2 1355.4Z"/>
<path fill="#FFC800" stroke="#FFC800" stroke-width="0.7" d="M76.2 1353.8L92.4 1353.1L108.6 1355.4L124.8 1353.1L141.0 1353.8L157.2 1353.1L173.4 1352.8L189.6 1352.5L205.8 1353.1L205.8 1354.6L189.6 1353.9L173.4 1354.3L157.2 1354.6L141.0 1355.4L124.8 1354.6L119.4 1355.4L108.6 1371.6L97.8 1355.4L92.4 1354.6L76.2 1355.4L76.2 1355.4L60.0 1370.1L58.9 1371.6L58.4 1387.8L58.4 1404.0L58.0 1420.2L55.7 1436.4L55.3 1452.6L55.3 1468.8L55.3 1485.0L54.4 1485.0L54.5 1468.8L54.5 1452.6L54.9 1436.4L57.0 1420.2L57.4 1404.0L57.4 1387.8L57.8 1371.6L60.0 1368.7L74.6 1355.4Z"/>
<path fill="#FFDB00" stroke="#FFDB00" stroke-width="0.7" d="M76.2 1352.2L92.4 1351.5L108.6 1353.6L124.8 1351.5L141.0 1352.2L157.2 1351.5L173.4 1351.3L189.6 1351.0L205.8 1351.5L205.8 1353.1L189.6 1352.5L173.4 1352.8L157.2 1353.1L141.0 1353.8L124.8 1353.1L108.6 1355.4L92.4 1353.1L76.2 1353.8L74.6 1355.4L60.0 1368.7L57.8 1371.6L57.4 1387.8L57.4 1404.0L57.0 1420.2L54.9 1436.4L54.5 1452.6L54.5 1468.8L54.4 1485.0L53.6 1485.0L53.7 1468.8L53.7 1452.6L54.0 1436.4L55.9 1420.2L56.3 1404.0L56.3 1387.8L56.8 1371.6L60.0 1367.2L73.0 1355.4Z"/>
<path fill="#FFED00" stroke="#FFED00" stroke-width="0.7" d="M76.2 1350.5L92.4 1350.0L108.6 1351.8L124.8 1350.0L141.0 1350.5L157.2 1350.0L173.4 1349.8L189.6 1349.5L205.8 1350.0L205.8 1351.5L189.6 1351.0L173.4 1351.3L157.2 1351.5L141.0 1352.2L124.8 1351.5L108.6 1353.6L92.4 1351.5L76.2 1352.2L73.0 1355.4L60.0 1367.2L56.8 1371.6L56.3 1387.8L56.3 1404.0L55.9 1420.2L54.0 1436.4L53.7 1452.6L53.7 1468.8L53.6 1485.0L52.8 1485.0L52.8 1468.8L52.8 1452.6L53.2 1436.4L54.9 1420.2L55.3 1404.0L55.3 1387.8L55.7 1371.6L60.0 1365.7L71.3 1355.4Z"/>
<path fill="#FFFF00" stroke="#FFFF00" stroke-width="0.7" d="M76.2 1348.9L92.4 1348.5L108.6 1350.0L124.8 1348.5L141.0 1348.9L157.2 1348.5L173.4 1348.3L189.6 1348.0L205.8 1348.5L205.8 1350.0L189.6 1349.5L173.4 1349.8L157.2 1350.0L141.0 1350.5L124.8 1350.0L108.6 1351.8L92.4 1350.0L76.2 1350.5L71.3 1355.4L60.0 1365.7L55.7 1371.6L55.3 1387.8L55.3 1404.0L54.9 1420.2L53.2 1436.4L52.8 1452.6L52.8 1468.8L52.8 1485.0L52.0 1485.0L52.0 1468.8L52.0 1452.6L52.3 1436.4L53.9 1420.2L54.3 1404.0L54.3 1387.8L54.6 1371.6L60.0 1364.2L69.7 1355.4Z"/>
<path fill="#FFFF19" stroke="#FFFF19" stroke-width="0.7" d="M76.2 1347.3L92.4 1346.9L108.6 1348.2L124.8 1346.9L141.0 1347.3L157.2 1346.9L173.4 1346.8L189.6 1346.6L205.8 1346.9L205.8 1348.5L189.6 1348.0L173.4 1348.3L157.2 1348.5L141.0 1348.9L124.8 1348.5L108.6 1350.0L92.4 1348.5L76.2 1348.9L69.7 1355.4L60.0 1364.2L54.6 1371.6L54.3 1387.8L54.3 1404.0L53.9 1420.2L52.3 1436.4L52.0 1452.6L52.0 1468.8L52.0 1485.0L51.2 1485.0L51.2 1468.8L51.2 1452.6L51.5 1436.4L52.9 1420.2L53.2 1404.0L53.2 1387.8L53.5 1371.6L60.0 1362.8L68.1 1355.4Z"/>
<path fill="#FFFF4D" stroke="#FFFF4D" stroke-width="0.7" d="M76.2 1345.7L92.4 1345.4L108.6 1346.4L124.8 1345.4L141.0 1345.7L157.2 1345.4L173.4 1345.3L189.6 1345.1L205.8 1345.4L205.8 1346.9L189.6 1346.6L173.4 1346.8L157.2 1346.9L141.0 1347.3L124.8 1346.9L108.6 1348.2L92.4 1346.9L76.2 1347.3L68.1 1355.4L60.0 1362.8L53.5 1371.6L53.2 1387.8L53.2 1404.0L52.9 1420.2L51.5 1436.4L51.2 1452.6L51.2 1468.8L51.2 1485.0L50.3 1485.0L50.4 1468.8L50.4 1452.6L50.6 1436.4L51.9 1420.2L52.2 1404.0L52.2 1387.8L52.4 1371.6L60.0 1361.3L66.5 1355.4Z"/>
<path fill="#FFFF80" stroke="#FFFF80" stroke-width="0.7" d="M76.2 1344.1L92.4 1343.8L108.6 1344.6L124.8 1343.8L141.0 1344.1L157.2 1343.8L173.4 1343.7L189.6 1343.6L205.8 1343.8L205.8 1345.4L189.6 1345.1L173.4 1345.3L157.2 1345.4L141.0 1345.7L124.8 1345.4L108.6 1346.4L92.4 1345.4L76.2 1345.7L66.5 1355.4L60.0 1361.3L52.4 1371.6L52.2 1387.8L52.2 1404.0L51.9 1420.2L50.6 1436.4L50.4 1452.6L50.4 1468.8L50.3 1485.0L49.5 1485.0L49.6 1468.8L49.6 1452.6L49.8 1436.4L50.9 1420.2L51.1 1404.0L51.1 1387.8L51.4 1371.6L60.0 1359.8L64.9 1355.4Z"/>
<path fill="#FFFFB2" stroke="#FFFFB2" stroke-width="0.7" d="M76.2 1342.4L92.4 1342.3L108.6 1342.8L124.8 1342.3L141.0 1342.4L157.2 1342.3L173.4 1342.2L189.6 1342.1L205.8 1342.3L205.8 1343.8L189.6 1343.6L173.4 1343.7L157.2 1343.8L141.0 1344.1L124.8 1343.8L108.6 1344.6L92.4 1343.8L76.2 1344.1L64.9 1355.4L60.0 1359.8L51.4 1371.6L51.1 1387.8L51.1 1404.0L50.9 1420.2L49.8 1436.4L49.6 1452.6L49.6 1468.8L49.5 1485.0L48.7 1485.0L48.7 1468.8L48.7 1452.6L48.9 1436.4L49.9 1420.2L50.1 1404.0L50.1 1387.8L50.3 1371.6L60.0 1358.3L63.2 1355.4Z"/>
<path fill="#FFFFE6" stroke="#FFFFE6" stroke-width="0.7" d="M60.0 1323.0L76.2 1323.0L92.4 1323.0L108.6 1323.0L124.8 1323.0L141.0 1323.0L157.2 1323.0L173.4 1323.0L189.6 1323.0L205.8 1323.0L205.8 1339.2L205.8 1342.3L189.6 1342.1L173.4 1342.2L157.2 1342.3L141.0 1342.4L124.8 1342.3L108.6 1342.8L92.4 1342.3L76.2 1342.4L63.2 1355.4L60.0 1358.3L50.3 1371.6L50.1 1387.8L50.1 1404.0L49.9 1420.2L48.9 1436.4L48.7 1452.6L48.7 1468.8L48.7 1485.0L43.8 1485.0L43.8 1468.8L43.8 1452.6L43.8 1436.4L43.8 1420.2L43.8 1404.0L43.8 1387.8L43.8 1371.6L43.8 1355.4L43.8 1339.2L43.8 1323.0Z"/>
<path d="M60.0 1323.0v162.0M43.8 1339.2h162.0M76.2 1323.0v162.0M43.8 1355.4h162.0M92.4 1323.0v162.0M43.8 1371.6h162.0M108.6 1323.0v162.0M43.8 1387.8h162.0M124.8 1323.0v162.0M43.8 1404.0h162.0M141.0 1323.0v162.0M43.8 1420.2h162.0M157.2 1323.0v162.0M43.8 1436.4h162.0M173.4 1323.0v162.0M43.8 1452.6h162.0M189.6 1323.0v162.0M43.8 1468.8h162.0" stroke="#fff" stroke-width="0.8" stroke-opacity="0.14" fill="none"/>
</g>
<path d="M60.0 1323.0v2.5M60.0 1485.0v-2.5M43.8 1339.2h2.5M205.8 1339.2h-2.5M76.2 1323.0v2.5M76.2 1485.0v-2.5M43.8 1355.4h2.5M205.8 1355.4h-2.5M92.4 1323.0v2.5M92.4 1485.0v-2.5M43.8 1371.6h2.5M205.8 1371.6h-2.5M108.6 1323.0v2.5M108.6 1485.0v-2.5M43.8 1387.8h2.5M205.8 1387.8h-2.5M124.8 1323.0v2.5M124.8 1485.0v-2.5M43.8 1404.0h2.5M205.8 1404.0h-2.5M141.0 1323.0v2.5M141.0 1485.0v-2.5M43.8 1420.2h2.5M205.8 1420.2h-2.5M157.2 1323.0v2.5M157.2 1485.0v-2.5M43.8 1436.4h2.5M205.8 1436.4h-2.5M173.4 1323.0v2.5M173.4 1485.0v-2.5M43.8 1452.6h2.5M205.8 1452.6h-2.5M189.6 1323.0v2.5M189.6 1485.0v-2.5M43.8 1468.8h2.5M205.8 1468.8h-2.5" stroke="#000" stroke-width="1.3" fill="none"/>
<rect x="43.8" y="1323.0" width="162.0" height="162.0" fill="none" stroke="#000" stroke-width="2"/>
<text x="124.8" y="1465.5" text-anchor="middle" class="s">Soc. Psy.& Epidem.</text>
<g><text x="112.85" y="1315.90" class="s">0.</text><path d="M133.59 1315.90L133.59 1303.60L132.19 1303.60C131.79 1304.70 130.59 1305.90 128.79 1306.60L128.79 1308.10C130.19 1307.70 131.19 1307.10 131.89 1306.30L131.89 1315.90Z" fill="#000"/></g>
<g><text x="193.85" y="1315.90" class="s">0.2</text></g>
<g transform="rotate(-90 36.4 1323.0)"><path d="M30.85 1323.00L30.85 1310.70L29.45 1310.70C29.05 1311.80 27.85 1313.00 26.05 1313.70L26.05 1315.20C27.45 1314.80 28.45 1314.20 29.15 1313.40L29.15 1323.00Z" fill="#000"/><text x="34.01" y="1323.00" class="s">.0</text></g>
<g transform="rotate(-90 36.4 1404.0)"><text x="24.45" y="1404.00" class="s">0.5</text></g>
<g>
<rect x="224.4" y="1323.0" width="162.0" height="162.0" fill="#FFC800"/>
<path fill="#FFC800" stroke="#FFC800" stroke-width="0.7" d="M370.2 1420.2L386.4 1412.1L386.4 1420.2L386.4 1436.4L386.4 1452.6L386.4 1468.8L386.4 1485.0L370.2 1485.0L354.0 1485.0L337.8 1485.0L321.6 1485.0L305.4 1485.0L293.8 1485.0L294.6 1468.8L295.7 1452.6L305.4 1436.4L305.4 1436.4L321.6 1436.4L337.8 1436.4L354.0 1433.7L370.2 1420.2Z"/>
<path fill="#FFDB00" stroke="#FFDB00" stroke-width="0.7" d="M305.4 1402.1L313.5 1404.0L321.6 1412.1L337.8 1413.7L354.0 1404.0L354.0 1404.0L370.2 1402.7L386.4 1401.1L386.4 1404.0L386.4 1412.1L370.2 1420.2L370.2 1420.2L354.0 1433.7L337.8 1436.4L321.6 1436.4L305.4 1436.4L305.4 1436.4L295.7 1452.6L294.6 1468.8L293.8 1485.0L289.2 1485.0L273.0 1485.0L256.8 1485.0L256.8 1485.0L256.8 1485.0L258.6 1468.8L260.4 1452.6L262.9 1436.4L268.4 1420.2L273.0 1415.6L289.2 1410.1L298.9 1404.0Z"/>
<path fill="#FFED00" stroke="#FFED00" stroke-width="0.7" d="M273.0 1355.4L273.0 1355.4L273.0 1355.4L273.0 1355.4ZM273.0 1393.9L289.2 1392.7L305.4 1392.6L321.6 1394.7L337.8 1396.4L354.0 1395.9L370.2 1395.9L386.4 1395.3L386.4 1401.1L370.2 1402.7L354.0 1404.0L354.0 1404.0L337.8 1413.7L321.6 1412.1L313.5 1404.0L305.4 1402.1L298.9 1404.0L289.2 1410.1L273.0 1415.6L268.4 1420.2L262.9 1436.4L260.4 1452.6L258.6 1468.8L256.8 1485.0L256.8 1485.0L244.3 1485.0L244.7 1468.8L246.0 1452.6L247.4 1436.4L248.7 1420.2L256.8 1408.6L261.4 1404.0Z"/>
<path fill="#FFFF00" stroke="#FFFF00" stroke-width="0.7" d="M273.0 1352.7L279.5 1355.4L289.2 1371.6L289.2 1371.6L305.4 1381.6L321.6 1383.8L337.8 1385.9L354.0 1387.8L354.0 1387.8L370.2 1389.2L386.4 1389.5L386.4 1395.3L370.2 1395.9L354.0 1395.9L337.8 1396.4L321.6 1394.7L305.4 1392.6L289.2 1392.7L273.0 1393.9L261.4 1404.0L256.8 1408.6L248.7 1420.2L247.4 1436.4L246.0 1452.6L244.7 1468.8L244.3 1485.0L240.6 1485.0L238.9 1485.0L238.9 1468.8L239.1 1452.6L239.4 1436.4L239.4 1420.2L239.4 1404.0L240.6 1395.9L248.7 1387.8L256.8 1379.7L264.9 1371.6L267.6 1355.4ZM273.0 1355.4L273.0 1355.4L273.0 1355.4L273.0 1355.4Z"/>
<path fill="#FFFF19" stroke="#FFFF19" stroke-width="0.7" d="M273.0 1350.0L286.0 1355.4L289.2 1360.8L305.4 1370.1L313.5 1371.6L321.6 1373.6L337.8 1376.4L354.0 1378.8L370.2 1380.6L386.4 1381.8L386.4 1387.8L386.4 1389.5L370.2 1389.2L354.0 1387.8L354.0 1387.8L337.8 1385.9L321.6 1383.8L305.4 1381.6L289.2 1371.6L289.2 1371.6L279.5 1355.4L273.0 1352.7L267.6 1355.4L264.9 1371.6L256.8 1379.7L248.7 1387.8L240.6 1395.9L239.4 1404.0L239.4 1420.2L239.4 1436.4L239.1 1452.6L238.9 1468.8L238.9 1485.0L236.5 1485.0L236.5 1468.8L236.7 1452.6L236.9 1436.4L236.9 1420.2L236.9 1404.0L239.1 1387.8L240.6 1386.0L255.0 1371.6L256.8 1366.2L262.2 1355.4Z"/>
<path fill="#FFFF4D" stroke="#FFFF4D" stroke-width="0.7" d="M256.8 1355.4L273.0 1347.3L289.2 1353.4L294.6 1355.4L305.4 1362.8L321.6 1366.0L337.8 1368.1L354.0 1370.1L370.2 1371.6L370.2 1371.6L386.4 1373.3L386.4 1381.8L370.2 1380.6L354.0 1378.8L337.8 1376.4L321.6 1373.6L313.5 1371.6L305.4 1370.1L289.2 1360.8L286.0 1355.4L273.0 1350.0L262.2 1355.4L256.8 1366.2L255.0 1371.6L240.6 1386.0L239.1 1387.8L236.9 1404.0L236.9 1420.2L236.9 1436.4L236.7 1452.6L236.5 1468.8L236.5 1485.0L234.1 1485.0L234.1 1468.8L234.2 1452.6L234.4 1436.4L234.4 1420.2L234.4 1404.0L236.2 1387.8L240.6 1382.4L251.4 1371.6L256.8 1355.4Z"/>
<path fill="#FFFF80" stroke="#FFFF80" stroke-width="0.7" d="M256.8 1350.8L273.0 1344.6L289.2 1349.3L305.4 1355.4L305.4 1355.4L321.6 1358.9L337.8 1361.0L354.0 1362.8L370.2 1363.9L386.4 1365.1L386.4 1371.6L386.4 1373.3L370.2 1371.6L370.2 1371.6L354.0 1370.1L337.8 1368.1L321.6 1366.0L305.4 1362.8L294.6 1355.4L289.2 1353.4L273.0 1347.3L256.8 1355.4L256.8 1355.4L251.4 1371.6L240.6 1382.4L236.2 1387.8L234.4 1404.0L234.4 1420.2L234.4 1436.4L234.2 1452.6L234.1 1468.8L234.1 1485.0L231.7 1485.0L231.7 1468.8L231.8 1452.6L231.9 1436.4L231.9 1420.2L231.9 1404.0L233.2 1387.8L240.6 1378.8L247.8 1371.6L252.2 1355.4Z"/>
<path fill="#FFFFB2" stroke="#FFFFB2" stroke-width="0.7" d="M256.8 1346.1L273.0 1341.9L289.2 1345.3L305.4 1350.0L321.6 1352.2L337.8 1353.9L354.0 1355.4L354.0 1355.4L370.2 1356.2L386.4 1357.0L386.4 1365.1L370.2 1363.9L354.0 1362.8L337.8 1361.0L321.6 1358.9L305.4 1355.4L305.4 1355.4L289.2 1349.3L273.0 1344.6L256.8 1350.8L252.2 1355.4L247.8 1371.6L240.6 1378.8L233.2 1387.8L231.9 1404.0L231.9 1420.2L231.9 1436.4L231.8 1452.6L231.7 1468.8L231.7 1485.0L229.2 1485.0L229.2 1468.8L229.3 1452.6L229.4 1436.4L229.4 1420.2L229.4 1404.0L230.3 1387.8L240.6 1375.2L244.2 1371.6L247.5 1355.4Z"/>
<path fill="#FFFFE6" stroke="#FFFFE6" stroke-width="0.7" d="M240.6 1323.0L256.8 1323.0L273.0 1323.0L289.2 1323.0L305.4 1323.0L321.6 1323.0L337.8 1323.0L354.0 1323.0L370.2 1323.0L386.4 1323.0L386.4 1339.2L386.4 1355.4L386.4 1357.0L370.2 1356.2L354.0 1355.4L354.0 1355.4L337.8 1353.9L321.6 1352.2L305.4 1350.0L289.2 1345.3L273.0 1341.9L256.8 1346.1L247.5 1355.4L244.2 1371.6L240.6 1375.2L230.3 1387.8L229.4 1404.0L229.4 1420.2L229.4 1436.4L229.3 1452.6L229.2 1468.8L229.2 1485.0L224.4 1485.0L224.4 1468.8L224.4 1452.6L224.4 1436.4L224.4 1420.2L224.4 1404.0L224.4 1387.8L224.4 1371.6L224.4 1355.4L224.4 1339.2L224.4 1323.0Z"/>
<path d="M240.6 1323.0v162.0M224.4 1339.2h162.0M256.8 1323.0v162.0M224.4 1355.4h162.0M273.0 1323.0v162.0M224.4 1371.6h162.0M289.2 1323.0v162.0M224.4 1387.8h162.0M305.4 1323.0v162.0M224.4 1404.0h162.0M321.6 1323.0v162.0M224.4 1420.2h162.0M337.8 1323.0v162.0M224.4 1436.4h162.0M354.0 1323.0v162.0M224.4 1452.6h162.0M370.2 1323.0v162.0M224.4 1468.8h162.0" stroke="#fff" stroke-width="0.8" stroke-opacity="0.14" fill="none"/>
</g>
<path d="M240.6 1323.0v2.5M240.6 1485.0v-2.5M224.4 1339.2h2.5M386.4 1339.2h-2.5M256.8 1323.0v2.5M256.8 1485.0v-2.5M224.4 1355.4h2.5M386.4 1355.4h-2.5M273.0 1323.0v2.5M273.0 1485.0v-2.5M224.4 1371.6h2.5M386.4 1371.6h-2.5M289.2 1323.0v2.5M289.2 1485.0v-2.5M224.4 1387.8h2.5M386.4 1387.8h-2.5M305.4 1323.0v2.5M305.4 1485.0v-2.5M224.4 1404.0h2.5M386.4 1404.0h-2.5M321.6 1323.0v2.5M321.6 1485.0v-2.5M224.4 1420.2h2.5M386.4 1420.2h-2.5M337.8 1323.0v2.5M337.8 1485.0v-2.5M224.4 1436.4h2.5M386.4 1436.4h-2.5M354.0 1323.0v2.5M354.0 1485.0v-2.5M224.4 1452.6h2.5M386.4 1452.6h-2.5M370.2 1323.0v2.5M370.2 1485.0v-2.5M224.4 1468.8h2.5M386.4 1468.8h-2.5" stroke="#000" stroke-width="1.3" fill="none"/>
<rect x="224.4" y="1323.0" width="162.0" height="162.0" fill="none" stroke="#000" stroke-width="2"/>
<text x="305.4" y="1465.5" text-anchor="middle" class="s">Economic Sociology</text>
<g><text x="293.45" y="1315.90" class="s">0.</text><path d="M314.19 1315.90L314.19 1303.60L312.79 1303.60C312.39 1304.70 311.19 1305.90 309.39 1306.60L309.39 1308.10C310.79 1307.70 311.79 1307.10 312.49 1306.30L312.49 1315.90Z" fill="#000"/></g>
<g><text x="374.45" y="1315.90" class="s">0.2</text></g>
<g>
<rect x="405.0" y="1323.0" width="162.0" height="162.0" fill="#FFFFB2"/>
<path fill="#FFFFB2" stroke="#FFFFB2" stroke-width="0.7" d="M421.2 1339.2L437.4 1339.2L453.6 1339.2L469.8 1339.2L486.0 1339.2L502.2 1339.2L518.4 1339.2L534.6 1339.2L550.8 1339.2L567.0 1339.2L567.0 1339.2L567.0 1355.4L567.0 1363.5L550.8 1363.5L534.6 1363.5L518.4 1371.6L518.4 1371.6L502.2 1381.7L486.0 1387.8L486.0 1387.8L477.9 1404.0L477.9 1420.2L477.9 1436.4L477.9 1452.6L477.9 1468.8L477.9 1485.0L469.8 1485.0L453.6 1485.0L437.4 1485.0L421.2 1485.0L421.2 1485.0L421.2 1468.8L421.2 1452.6L421.2 1436.4L421.2 1420.2L421.2 1404.0L421.2 1387.8L421.2 1371.6L421.2 1355.4L421.2 1339.2Z"/>
<path fill="#FFFFE6" stroke="#FFFFE6" stroke-width="0.7" d="M421.2 1323.0L437.4 1323.0L453.6 1323.0L469.8 1323.0L486.0 1323.0L502.2 1323.0L518.4 1323.0L534.6 1323.0L550.8 1323.0L567.0 1323.0L567.0 1339.2L550.8 1339.2L534.6 1339.2L518.4 1339.2L502.2 1339.2L486.0 1339.2L469.8 1339.2L453.6 1339.2L437.4 1339.2L421.2 1339.2L421.2 1339.2L421.2 1355.4L421.2 1371.6L421.2 1387.8L421.2 1404.0L421.2 1420.2L421.2 1436.4L421.2 1452.6L421.2 1468.8L421.2 1485.0L405.0 1485.0L405.0 1468.8L405.0 1452.6L405.0 1436.4L405.0 1420.2L405.0 1404.0L405.0 1387.8L405.0 1371.6L405.0 1355.4L405.0 1339.2L405.0 1323.0ZM534.6 1363.5L550.8 1363.5L567.0 1363.5L567.0 1371.6L567.0 1387.8L567.0 1404.0L567.0 1420.2L567.0 1436.4L567.0 1452.6L567.0 1468.8L567.0 1485.0L550.8 1485.0L534.6 1485.0L518.4 1485.0L502.2 1485.0L486.0 1485.0L477.9 1485.0L477.9 1468.8L477.9 1452.6L477.9 1436.4L477.9 1420.2L477.9 1404.0L486.0 1387.8L486.0 1387.8L502.2 1381.7L518.4 1371.6L518.4 1371.6Z"/>
<path d="M421.2 1323.0v162.0M405.0 1339.2h162.0M437.4 1323.0v162.0M405.0 1355.4h162.0M453.6 1323.0v162.0M405.0 1371.6h162.0M469.8 1323.0v162.0M405.0 1387.8h162.0M486.0 1323.0v162.0M405.0 1404.0h162.0M502.2 1323.0v162.0M405.0 1420.2h162.0M518.4 1323.0v162.0M405.0 1436.4h162.0M534.6 1323.0v162.0M405.0 1452.6h162.0M550.8 1323.0v162.0M405.0 1468.8h162.0" stroke="#fff" stroke-width="0.8" stroke-opacity="0.14" fill="none"/>
</g>
<path d="M421.2 1323.0v2.5M421.2 1485.0v-2.5M405.0 1339.2h2.5M567.0 1339.2h-2.5M437.4 1323.0v2.5M437.4 1485.0v-2.5M405.0 1355.4h2.5M567.0 1355.4h-2.5M453.6 1323.0v2.5M453.6 1485.0v-2.5M405.0 1371.6h2.5M567.0 1371.6h-2.5M469.8 1323.0v2.5M469.8 1485.0v-2.5M405.0 1387.8h2.5M567.0 1387.8h-2.5M486.0 1323.0v2.5M486.0 1485.0v-2.5M405.0 1404.0h2.5M567.0 1404.0h-2.5M502.2 1323.0v2.5M502.2 1485.0v-2.5M405.0 1420.2h2.5M567.0 1420.2h-2.5M518.4 1323.0v2.5M518.4 1485.0v-2.5M405.0 1436.4h2.5M567.0 1436.4h-2.5M534.6 1323.0v2.5M534.6 1485.0v-2.5M405.0 1452.6h2.5M567.0 1452.6h-2.5M550.8 1323.0v2.5M550.8 1485.0v-2.5M405.0 1468.8h2.5M567.0 1468.8h-2.5" stroke="#000" stroke-width="1.3" fill="none"/>
<rect x="405.0" y="1323.0" width="162.0" height="162.0" fill="none" stroke="#000" stroke-width="2"/>
<text x="486.0" y="1465.5" text-anchor="middle" class="s">Social Network Anal.</text>
<g><text x="474.05" y="1315.90" class="s">0.</text><path d="M494.79 1315.90L494.79 1303.60L493.39 1303.60C492.99 1304.70 491.79 1305.90 489.99 1306.60L489.99 1308.10C491.39 1307.70 492.39 1307.10 493.09 1306.30L493.09 1315.90Z" fill="#000"/></g>
<g><text x="555.05" y="1315.90" class="s">0.2</text></g>
<g transform="rotate(-90 586.3 1404.0)"><text x="574.35" y="1404.00" class="s">0.5</text></g>
<g transform="rotate(-90 586.3 1485.0)"><text x="574.35" y="1485.00" class="s">0.0</text></g>
<g>
<rect x="43.8" y="1496.3" width="162.0" height="162.0" fill="#FFFF80"/>
<path fill="#FFFF80" stroke="#FFFF80" stroke-width="0.7" d="M124.8 1558.8L141.0 1558.8L157.2 1558.8L173.4 1558.8L189.6 1558.6L205.8 1558.4L205.8 1561.1L205.8 1577.3L205.8 1593.5L205.8 1609.7L205.8 1625.9L205.8 1642.1L205.8 1658.3L189.6 1658.3L173.4 1658.3L157.2 1658.3L141.0 1658.3L124.8 1658.3L120.2 1658.3L120.2 1642.1L120.2 1625.9L120.2 1609.7L120.2 1593.5L120.2 1577.3L120.2 1561.1Z"/>
<path fill="#FFFFB2" stroke="#FFFFB2" stroke-width="0.7" d="M60.0 1541.2L63.7 1544.9L63.7 1561.1L63.7 1577.3L63.7 1593.5L63.7 1609.7L63.7 1625.9L63.7 1642.1L63.7 1658.3L60.0 1658.3L56.3 1658.3L56.3 1642.1L56.3 1625.9L56.3 1609.7L56.3 1593.5L56.3 1577.3L56.3 1561.1L56.3 1544.9ZM205.8 1544.9L205.8 1544.9L205.8 1558.4L189.6 1558.6L173.4 1558.8L157.2 1558.8L141.0 1558.8L124.8 1558.8L120.2 1561.1L120.2 1577.3L120.2 1593.5L120.2 1609.7L120.2 1625.9L120.2 1642.1L120.2 1658.3L108.6 1658.3L92.4 1658.3L85.2 1658.3L85.2 1642.1L85.2 1625.9L85.2 1609.7L85.2 1593.5L85.2 1577.3L89.7 1561.1L92.4 1558.4L108.6 1551.0L124.8 1547.2L141.0 1547.2L157.2 1547.2L173.4 1547.2L189.6 1546.1L205.8 1544.9Z"/>
<path fill="#FFFFE6" stroke="#FFFFE6" stroke-width="0.7" d="M60.0 1496.3L76.2 1496.3L92.4 1496.3L108.6 1496.3L124.8 1496.3L141.0 1496.3L157.2 1496.3L173.4 1496.3L189.6 1496.3L205.8 1496.3L205.8 1512.5L205.8 1528.7L205.8 1544.9L205.8 1544.9L189.6 1546.1L173.4 1547.2L157.2 1547.2L141.0 1547.2L124.8 1547.2L108.6 1551.0L92.4 1558.4L89.7 1561.1L85.2 1577.3L85.2 1593.5L85.2 1609.7L85.2 1625.9L85.2 1642.1L85.2 1658.3L76.2 1658.3L63.7 1658.3L63.7 1642.1L63.7 1625.9L63.7 1609.7L63.7 1593.5L63.7 1577.3L63.7 1561.1L63.7 1544.9L60.0 1541.2L56.3 1544.9L56.3 1561.1L56.3 1577.3L56.3 1593.5L56.3 1609.7L56.3 1625.9L56.3 1642.1L56.3 1658.3L43.8 1658.3L43.8 1642.1L43.8 1625.9L43.8 1609.7L43.8 1593.5L43.8 1577.3L43.8 1561.1L43.8 1544.9L43.8 1528.7L43.8 1512.5L43.8 1496.3Z"/>
<path d="M60.0 1496.3v162.0M43.8 1512.5h162.0M76.2 1496.3v162.0M43.8 1528.7h162.0M92.4 1496.3v162.0M43.8 1544.9h162.0M108.6 1496.3v162.0M43.8 1561.1h162.0M124.8 1496.3v162.0M43.8 1577.3h162.0M141.0 1496.3v162.0M43.8 1593.5h162.0M157.2 1496.3v162.0M43.8 1609.7h162.0M173.4 1496.3v162.0M43.8 1625.9h162.0M189.6 1496.3v162.0M43.8 1642.1h162.0" stroke="#fff" stroke-width="0.8" stroke-opacity="0.14" fill="none"/>
</g>
<path d="M60.0 1496.3v2.5M60.0 1658.3v-2.5M43.8 1512.5h2.5M205.8 1512.5h-2.5M76.2 1496.3v2.5M76.2 1658.3v-2.5M43.8 1528.7h2.5M205.8 1528.7h-2.5M92.4 1496.3v2.5M92.4 1658.3v-2.5M43.8 1544.9h2.5M205.8 1544.9h-2.5M108.6 1496.3v2.5M108.6 1658.3v-2.5M43.8 1561.1h2.5M205.8 1561.1h-2.5M124.8 1496.3v2.5M124.8 1658.3v-2.5M43.8 1577.3h2.5M205.8 1577.3h-2.5M141.0 1496.3v2.5M141.0 1658.3v-2.5M43.8 1593.5h2.5M205.8 1593.5h-2.5M157.2 1496.3v2.5M157.2 1658.3v-2.5M43.8 1609.7h2.5M205.8 1609.7h-2.5M173.4 1496.3v2.5M173.4 1658.3v-2.5M43.8 1625.9h2.5M205.8 1625.9h-2.5M189.6 1496.3v2.5M189.6 1658.3v-2.5M43.8 1642.1h2.5M205.8 1642.1h-2.5" stroke="#000" stroke-width="1.3" fill="none"/>
<rect x="43.8" y="1496.3" width="162.0" height="162.0" fill="none" stroke="#000" stroke-width="2"/>
<text x="124.8" y="1638.8" text-anchor="middle" class="s">Network Science</text>
<g><text x="31.85" y="1677.50" class="s">0.0</text></g>
<g><text x="112.85" y="1677.50" class="s">0.</text><path d="M133.59 1677.50L133.59 1665.20L132.19 1665.20C131.79 1666.30 130.59 1667.50 128.79 1668.20L128.79 1669.70C130.19 1669.30 131.19 1668.70 131.89 1667.90L131.89 1677.50Z" fill="#000"/></g>
<g transform="rotate(-90 36.4 1496.3)"><path d="M30.85 1496.30L30.85 1484.00L29.45 1484.00C29.05 1485.10 27.85 1486.30 26.05 1487.00L26.05 1488.50C27.45 1488.10 28.45 1487.50 29.15 1486.70L29.15 1496.30Z" fill="#000"/><text x="34.01" y="1496.30" class="s">.0</text></g>
<g transform="rotate(-90 36.4 1577.3)"><text x="24.45" y="1577.30" class="s">0.5</text></g>
<g>
<rect x="224.4" y="1496.3" width="162.0" height="162.0" fill="#FFED00"/>
<path fill="#FFED00" stroke="#FFED00" stroke-width="0.7" d="M240.6 1544.9L240.6 1544.9L243.3 1561.1L243.3 1577.3L243.3 1593.5L243.3 1609.7L243.3 1625.9L243.3 1642.1L243.8 1658.3L240.6 1658.3L240.2 1658.3L240.2 1642.1L240.2 1625.9L240.2 1609.7L240.2 1593.5L240.2 1577.3L240.3 1561.1L240.6 1544.9ZM289.2 1639.4L291.9 1642.1L292.4 1658.3L289.2 1658.3L286.0 1658.3L286.5 1642.1Z"/>
<path fill="#FFFF00" stroke="#FFFF00" stroke-width="0.7" d="M240.6 1541.8L254.1 1544.9L256.8 1549.5L270.3 1561.1L273.0 1563.8L275.7 1561.1L279.1 1544.9L289.2 1541.4L305.4 1541.8L317.6 1544.9L321.6 1550.3L337.8 1561.1L354.0 1561.1L370.2 1561.1L386.4 1561.1L386.4 1561.1L386.4 1577.3L386.4 1593.5L386.4 1609.7L386.4 1625.9L386.4 1642.1L386.4 1658.3L370.2 1658.3L354.0 1658.3L337.8 1658.3L321.6 1658.3L305.4 1658.3L292.4 1658.3L291.9 1642.1L289.2 1639.4L286.5 1642.1L286.0 1658.3L273.0 1658.3L256.8 1658.3L243.8 1658.3L243.3 1642.1L243.3 1625.9L243.3 1609.7L243.3 1593.5L243.3 1577.3L243.3 1561.1L240.6 1544.9L240.6 1544.9L240.6 1544.9L240.3 1561.1L240.2 1577.3L240.2 1593.5L240.2 1609.7L240.2 1625.9L240.2 1642.1L240.2 1658.3L236.7 1658.3L236.7 1642.1L236.7 1625.9L236.7 1609.7L236.7 1593.5L236.7 1577.3L237.0 1561.1L237.7 1544.9Z"/>
<path fill="#FFFF19" stroke="#FFFF19" stroke-width="0.7" d="M240.6 1538.7L256.8 1541.7L273.0 1538.2L289.2 1534.3L305.4 1536.5L321.6 1539.9L337.8 1540.7L354.0 1541.0L370.2 1541.1L386.4 1541.1L386.4 1544.9L386.4 1561.1L370.2 1561.1L354.0 1561.1L337.8 1561.1L321.6 1550.3L317.6 1544.9L305.4 1541.8L289.2 1541.4L279.1 1544.9L275.7 1561.1L273.0 1563.8L270.3 1561.1L256.8 1549.5L254.1 1544.9L240.6 1541.8L237.7 1544.9L237.0 1561.1L236.7 1577.3L236.7 1593.5L236.7 1609.7L236.7 1625.9L236.7 1642.1L236.7 1658.3L233.2 1658.3L233.2 1642.1L233.2 1625.9L233.2 1609.7L233.2 1593.5L233.2 1577.3L233.7 1561.1L234.7 1544.9Z"/>
<path fill="#FFFF4D" stroke="#FFFF4D" stroke-width="0.7" d="M289.2 1509.1L293.7 1512.5L293.8 1528.7L305.4 1531.3L321.6 1533.7L337.8 1534.7L354.0 1535.4L370.2 1535.7L386.4 1535.7L386.4 1541.1L370.2 1541.1L354.0 1541.0L337.8 1540.7L321.6 1539.9L305.4 1536.5L289.2 1534.3L273.0 1538.2L256.8 1541.7L240.6 1538.7L234.7 1544.9L233.7 1561.1L233.2 1577.3L233.2 1593.5L233.2 1609.7L233.2 1625.9L233.2 1642.1L233.2 1658.3L229.7 1658.3L229.7 1642.1L229.7 1625.9L229.7 1609.7L229.7 1593.5L229.7 1577.3L230.4 1561.1L231.8 1544.9L240.6 1535.6L256.8 1537.6L273.0 1528.7L273.0 1528.7L285.7 1512.5Z"/>
<path fill="#FFFF80" stroke="#FFFF80" stroke-width="0.7" d="M289.2 1504.2L300.2 1512.5L305.4 1522.5L321.6 1526.5L337.8 1528.7L337.8 1528.7L354.0 1529.8L370.2 1530.3L386.4 1530.3L386.4 1535.7L370.2 1535.7L354.0 1535.4L337.8 1534.7L321.6 1533.7L305.4 1531.3L293.8 1528.7L293.7 1512.5L289.2 1509.1L285.7 1512.5L273.0 1528.7L273.0 1528.7L256.8 1537.6L240.6 1535.6L231.8 1544.9L230.4 1561.1L229.7 1577.3L229.7 1593.5L229.7 1609.7L229.7 1625.9L229.7 1642.1L229.7 1658.3L226.2 1658.3L226.2 1642.1L226.2 1625.9L226.2 1609.7L226.2 1593.5L226.2 1577.3L227.0 1561.1L228.8 1544.9L240.6 1532.4L256.8 1533.6L265.6 1528.7L273.0 1522.2L280.6 1512.5Z"/>
<path fill="#FFFFB2" stroke="#FFFFB2" stroke-width="0.7" d="M289.2 1499.2L305.4 1511.0L311.9 1512.5L321.6 1515.7L337.8 1518.6L354.0 1520.1L370.2 1521.1L386.4 1521.1L386.4 1528.7L386.4 1530.3L370.2 1530.3L354.0 1529.8L337.8 1528.7L337.8 1528.7L321.6 1526.5L305.4 1522.5L300.2 1512.5L289.2 1504.2L280.6 1512.5L273.0 1522.2L265.6 1528.7L256.8 1533.6L240.6 1532.4L228.8 1544.9L227.0 1561.1L226.2 1577.3L226.2 1593.5L226.2 1609.7L226.2 1625.9L226.2 1642.1L226.2 1658.3L224.4 1658.3L224.4 1642.1L224.4 1625.9L224.4 1609.7L224.4 1593.5L224.4 1577.3L224.4 1561.1L224.4 1556.5L225.9 1544.9L240.6 1529.3L256.8 1529.5L258.3 1528.7L273.0 1515.7L275.5 1512.5Z"/>
<path fill="#FFFFE6" stroke="#FFFFE6" stroke-width="0.7" d="M240.6 1496.3L256.8 1496.3L273.0 1496.3L289.2 1496.3L305.4 1496.3L321.6 1496.3L337.8 1496.3L354.0 1496.3L370.2 1496.3L386.4 1496.3L386.4 1512.5L386.4 1521.1L370.2 1521.1L354.0 1520.1L337.8 1518.6L321.6 1515.7L311.9 1512.5L305.4 1511.0L289.2 1499.2L275.5 1512.5L273.0 1515.7L258.3 1528.7L256.8 1529.5L240.6 1529.3L225.9 1544.9L224.4 1556.5L224.4 1544.9L224.4 1528.7L224.4 1512.5L224.4 1496.3Z"/>
<path d="M240.6 1496.3v162.0M224.4 1512.5h162.0M256.8 1496.3v162.0M224.4 1528.7h162.0M273.0 1496.3v162.0M224.4 1544.9h162.0M289.2 1496.3v162.0M224.4 1561.1h162.0M305.4 1496.3v162.0M224.4 1577.3h162.0M321.6 1496.3v162.0M224.4 1593.5h162.0M337.8 1496.3v162.0M224.4 1609.7h162.0M354.0 1496.3v162.0M224.4 1625.9h162.0M370.2 1496.3v162.0M224.4 1642.1h162.0" stroke="#fff" stroke-width="0.8" stroke-opacity="0.14" fill="none"/>
</g>
<path d="M240.6 1496.3v2.5M240.6 1658.3v-2.5M224.4 1512.5h2.5M386.4 1512.5h-2.5M256.8 1496.3v2.5M256.8 1658.3v-2.5M224.4 1528.7h2.5M386.4 1528.7h-2.5M273.0 1496.3v2.5M273.0 1658.3v-2.5M224.4 1544.9h2.5M386.4 1544.9h-2.5M289.2 1496.3v2.5M289.2 1658.3v-2.5M224.4 1561.1h2.5M386.4 1561.1h-2.5M305.4 1496.3v2.5M305.4 1658.3v-2.5M224.4 1577.3h2.5M386.4 1577.3h-2.5M321.6 1496.3v2.5M321.6 1658.3v-2.5M224.4 1593.5h2.5M386.4 1593.5h-2.5M337.8 1496.3v2.5M337.8 1658.3v-2.5M224.4 1609.7h2.5M386.4 1609.7h-2.5M354.0 1496.3v2.5M354.0 1658.3v-2.5M224.4 1625.9h2.5M386.4 1625.9h-2.5M370.2 1496.3v2.5M370.2 1658.3v-2.5M224.4 1642.1h2.5M386.4 1642.1h-2.5" stroke="#000" stroke-width="1.3" fill="none"/>
<rect x="224.4" y="1496.3" width="162.0" height="162.0" fill="none" stroke="#000" stroke-width="2"/>
<text x="305.4" y="1638.8" text-anchor="middle" class="s" textLength="157" lengthAdjust="spacing">Comp. Social Science</text>
<g><text x="212.45" y="1677.50" class="s">0.0</text></g>
<g><text x="293.45" y="1677.50" class="s">0.</text><path d="M314.19 1677.50L314.19 1665.20L312.79 1665.20C312.39 1666.30 311.19 1667.50 309.39 1668.20L309.39 1669.70C310.79 1669.30 311.79 1668.70 312.49 1667.90L312.49 1677.50Z" fill="#000"/></g>
<g>
<rect x="405.0" y="1496.3" width="162.0" height="162.0" fill="#FFC800"/>
<path fill="#FFC800" stroke="#FFC800" stroke-width="0.7" d="M567.0 1642.1L567.0 1642.1L567.0 1658.3L556.2 1658.3L567.0 1642.1Z"/>
<path fill="#FFDB00" stroke="#FFDB00" stroke-width="0.7" d="M550.8 1609.7L567.0 1604.3L567.0 1609.7L567.0 1625.9L567.0 1642.1L567.0 1642.1L556.2 1658.3L550.8 1658.3L534.6 1658.3L518.4 1658.3L502.2 1658.3L499.0 1658.3L502.2 1642.1L502.2 1642.1L518.4 1634.0L534.6 1625.9L534.6 1625.9L550.8 1609.7Z"/>
<path fill="#FFED00" stroke="#FFED00" stroke-width="0.7" d="M550.8 1577.3L567.0 1571.9L567.0 1577.3L567.0 1593.5L567.0 1604.3L550.8 1609.7L550.8 1609.7L534.6 1625.9L534.6 1625.9L518.4 1634.0L502.2 1642.1L502.2 1642.1L499.0 1658.3L486.0 1658.3L469.8 1658.3L453.6 1658.3L453.6 1658.3L453.6 1658.3L457.6 1642.1L461.7 1625.9L469.8 1609.7L469.8 1609.7L486.0 1601.6L502.2 1596.7L518.4 1593.5L518.4 1593.5L534.6 1582.7L550.8 1577.3Z"/>
<path fill="#FFFF00" stroke="#FFFF00" stroke-width="0.7" d="M486.0 1561.1L502.2 1559.5L518.4 1558.7L534.6 1557.7L550.8 1556.6L567.0 1555.7L567.0 1561.1L567.0 1571.9L550.8 1577.3L550.8 1577.3L534.6 1582.7L518.4 1593.5L518.4 1593.5L502.2 1596.7L486.0 1601.6L469.8 1609.7L469.8 1609.7L461.7 1625.9L457.6 1642.1L453.6 1658.3L453.6 1658.3L437.4 1658.3L421.2 1658.3L418.6 1658.3L418.7 1642.1L419.3 1625.9L420.2 1609.7L421.2 1601.6L437.4 1593.5L437.4 1593.5L445.5 1577.3L453.6 1572.7L469.8 1568.0L486.0 1561.1Z"/>
<path fill="#FFFF19" stroke="#FFFF19" stroke-width="0.7" d="M421.2 1556.5L437.4 1549.5L453.6 1551.0L469.8 1551.6L486.0 1551.6L502.2 1551.4L518.4 1550.6L534.6 1549.2L550.8 1547.6L567.0 1546.7L567.0 1555.7L550.8 1556.6L534.6 1557.7L518.4 1558.7L502.2 1559.5L486.0 1561.1L486.0 1561.1L469.8 1568.0L453.6 1572.7L445.5 1577.3L437.4 1593.5L437.4 1593.5L421.2 1601.6L420.2 1609.7L419.3 1625.9L418.7 1642.1L418.6 1658.3L413.4 1658.3L413.8 1642.1L414.5 1625.9L415.5 1609.7L417.1 1593.5L418.6 1577.3L420.1 1561.1Z"/>
<path fill="#FFFF4D" stroke="#FFFF4D" stroke-width="0.7" d="M421.2 1536.8L437.4 1533.1L453.6 1533.6L469.8 1536.8L486.0 1540.5L502.2 1541.7L518.4 1540.5L534.6 1539.1L550.8 1537.8L567.0 1537.3L567.0 1544.9L567.0 1546.7L550.8 1547.6L534.6 1549.2L518.4 1550.6L502.2 1551.4L486.0 1551.6L469.8 1551.6L453.6 1551.0L437.4 1549.5L421.2 1556.5L420.1 1561.1L418.6 1577.3L417.1 1593.5L415.5 1609.7L414.5 1625.9L413.8 1642.1L413.4 1658.3L408.1 1658.3L408.9 1642.1L409.8 1625.9L410.7 1609.7L412.1 1593.5L413.4 1577.3L414.7 1561.1L418.0 1544.9Z"/>
<path fill="#FFFF80" stroke="#FFFF80" stroke-width="0.7" d="M421.2 1522.9L437.4 1520.6L453.6 1521.1L469.8 1522.0L486.0 1525.8L502.2 1526.0L518.4 1526.0L534.6 1527.3L550.8 1527.3L567.0 1527.3L567.0 1528.7L567.0 1537.3L550.8 1537.8L534.6 1539.1L518.4 1540.5L502.2 1541.7L486.0 1540.5L469.8 1536.8L453.6 1533.6L437.4 1533.1L421.2 1536.8L418.0 1544.9L414.7 1561.1L413.4 1577.3L412.1 1593.5L410.7 1609.7L409.8 1625.9L408.9 1642.1L408.1 1658.3L405.0 1658.3L405.0 1642.1L405.0 1625.9L405.0 1625.9L406.0 1609.7L407.0 1593.5L408.1 1577.3L409.3 1561.1L411.5 1544.9L416.7 1528.7Z"/>
<path fill="#FFFFB2" stroke="#FFFFB2" stroke-width="0.7" d="M421.2 1509.8L437.4 1506.4L453.6 1507.9L469.8 1506.4L486.0 1509.8L502.2 1512.5L518.4 1512.5L518.4 1512.5L534.6 1513.8L550.8 1513.8L567.0 1513.8L567.0 1527.3L550.8 1527.3L534.6 1527.3L518.4 1526.0L502.2 1526.0L486.0 1525.8L469.8 1522.0L453.6 1521.1L437.4 1520.6L421.2 1522.9L416.7 1528.7L411.5 1544.9L409.3 1561.1L408.1 1577.3L407.0 1593.5L406.0 1609.7L405.0 1625.9L405.0 1609.7L405.0 1593.5L405.0 1577.3L405.0 1561.1L405.0 1544.9L405.0 1544.9L407.7 1528.7L418.5 1512.5Z"/>
<path fill="#FFFFE6" stroke="#FFFFE6" stroke-width="0.7" d="M421.2 1496.3L437.4 1496.3L453.6 1496.3L469.8 1496.3L486.0 1496.3L502.2 1496.3L518.4 1496.3L534.6 1496.3L550.8 1496.3L567.0 1496.3L567.0 1512.5L567.0 1513.8L550.8 1513.8L534.6 1513.8L518.4 1512.5L518.4 1512.5L502.2 1512.5L486.0 1509.8L469.8 1506.4L453.6 1507.9L437.4 1506.4L421.2 1509.8L418.5 1512.5L407.7 1528.7L405.0 1544.9L405.0 1528.7L405.0 1512.5L405.0 1496.3Z"/>
<path d="M421.2 1496.3v162.0M405.0 1512.5h162.0M437.4 1496.3v162.0M405.0 1528.7h162.0M453.6 1496.3v162.0M405.0 1544.9h162.0M469.8 1496.3v162.0M405.0 1561.1h162.0M486.0 1496.3v162.0M405.0 1577.3h162.0M502.2 1496.3v162.0M405.0 1593.5h162.0M518.4 1496.3v162.0M405.0 1609.7h162.0M534.6 1496.3v162.0M405.0 1625.9h162.0M550.8 1496.3v162.0M405.0 1642.1h162.0" stroke="#fff" stroke-width="0.8" stroke-opacity="0.14" fill="none"/>
</g>
<path d="M421.2 1496.3v2.5M421.2 1658.3v-2.5M405.0 1512.5h2.5M567.0 1512.5h-2.5M437.4 1496.3v2.5M437.4 1658.3v-2.5M405.0 1528.7h2.5M567.0 1528.7h-2.5M453.6 1496.3v2.5M453.6 1658.3v-2.5M405.0 1544.9h2.5M567.0 1544.9h-2.5M469.8 1496.3v2.5M469.8 1658.3v-2.5M405.0 1561.1h2.5M567.0 1561.1h-2.5M486.0 1496.3v2.5M486.0 1658.3v-2.5M405.0 1577.3h2.5M567.0 1577.3h-2.5M502.2 1496.3v2.5M502.2 1658.3v-2.5M405.0 1593.5h2.5M567.0 1593.5h-2.5M518.4 1496.3v2.5M518.4 1658.3v-2.5M405.0 1609.7h2.5M567.0 1609.7h-2.5M534.6 1496.3v2.5M534.6 1658.3v-2.5M405.0 1625.9h2.5M567.0 1625.9h-2.5M550.8 1496.3v2.5M550.8 1658.3v-2.5M405.0 1642.1h2.5M567.0 1642.1h-2.5" stroke="#000" stroke-width="1.3" fill="none"/>
<rect x="405.0" y="1496.3" width="162.0" height="162.0" fill="none" stroke="#000" stroke-width="2"/>
<text x="486.0" y="1638.8" text-anchor="middle" class="s">Total</text>
<g><text x="393.05" y="1677.50" class="s">0.0</text></g>
<g><text x="474.05" y="1677.50" class="s">0.</text><path d="M494.79 1677.50L494.79 1665.20L493.39 1665.20C492.99 1666.30 491.79 1667.50 489.99 1668.20L489.99 1669.70C491.39 1669.30 492.39 1668.70 493.09 1667.90L493.09 1677.50Z" fill="#000"/></g>
<g transform="rotate(-90 586.3 1577.3)"><text x="574.35" y="1577.30" class="s">0.5</text></g>
<g transform="rotate(-90 586.3 1658.3)"><text x="574.35" y="1658.30" class="s">0.0</text></g>
<text x="305.4" y="1693.8" text-anchor="middle" class="s">Genericness</text>
<text x="14.8" y="1496.1" text-anchor="middle" transform="rotate(-90 14.8 1496.1)" class="s" style="font-size:17.5px">Specificity</text>
<rect x="621.4" y="1409.65" width="17.4" height="162.00" fill="#FF0000"/>
<rect x="621.4" y="1409.65" width="17.4" height="153.90" fill="#FF1200"/>
<rect x="621.4" y="1409.65" width="17.4" height="145.80" fill="#FF2400"/>
<rect x="621.4" y="1409.65" width="17.4" height="137.70" fill="#FF3700"/>
<rect x="621.4" y="1409.65" width="17.4" height="129.60" fill="#FF4900"/>
<rect x="621.4" y="1409.65" width="17.4" height="121.50" fill="#FF5B00"/>
<rect x="621.4" y="1409.65" width="17.4" height="113.40" fill="#FF6D00"/>
<rect x="621.4" y="1409.65" width="17.4" height="105.30" fill="#FF8000"/>
<rect x="621.4" y="1409.65" width="17.4" height="97.20" fill="#FF9200"/>
<rect x="621.4" y="1409.65" width="17.4" height="89.10" fill="#FFA400"/>
<rect x="621.4" y="1409.65" width="17.4" height="81.00" fill="#FFB600"/>
<rect x="621.4" y="1409.65" width="17.4" height="72.90" fill="#FFC800"/>
<rect x="621.4" y="1409.65" width="17.4" height="64.80" fill="#FFDB00"/>
<rect x="621.4" y="1409.65" width="17.4" height="56.70" fill="#FFED00"/>
<rect x="621.4" y="1409.65" width="17.4" height="48.60" fill="#FFFF00"/>
<rect x="621.4" y="1409.65" width="17.4" height="40.50" fill="#FFFF19"/>
<rect x="621.4" y="1409.65" width="17.4" height="32.40" fill="#FFFF4D"/>
<rect x="621.4" y="1409.65" width="17.4" height="24.30" fill="#FFFF80"/>
<rect x="621.4" y="1409.65" width="17.4" height="16.20" fill="#FFFFB2"/>
<rect x="621.4" y="1409.65" width="17.4" height="8.10" fill="#FFFFE6"/>
<path d="M621.4 1425.9h2.5M638.8 1425.9h-2.5M621.4 1442.1h2.5M638.8 1442.1h-2.5M621.4 1458.2h2.5M638.8 1458.2h-2.5M621.4 1474.5h2.5M638.8 1474.5h-2.5M621.4 1490.7h2.5M638.8 1490.7h-2.5M621.4 1506.9h2.5M638.8 1506.9h-2.5M621.4 1523.1h2.5M638.8 1523.1h-2.5M621.4 1539.2h2.5M638.8 1539.2h-2.5M621.4 1555.5h2.5M638.8 1555.5h-2.5" stroke="#000" stroke-width="1.3" fill="none"/>
<rect x="621.4" y="1409.7" width="17.4" height="162.0" fill="none" stroke="#000" stroke-width="2"/>
<g transform="rotate(-90 657.4 1409.7)"><path d="M651.85 1409.65L651.85 1397.35L650.45 1397.35C650.05 1398.45 648.85 1399.65 647.05 1400.35L647.05 1401.85C648.45 1401.45 649.45 1400.85 650.15 1400.05L650.15 1409.65Z" fill="#000"/><text x="655.01" y="1409.65" class="s">.0</text></g>
<g transform="rotate(-90 657.4 1490.7)"><text x="645.45" y="1490.65" class="s">0.5</text></g>
<g transform="rotate(-90 657.4 1571.7)"><text x="645.45" y="1571.65" class="s">0.0</text></g>
<text x="678.0" y="1491.2" text-anchor="middle" transform="rotate(-90 678.0 1491.2)" class="s">Precision</text>
<text x="191.8" y="843.4" class="cb">(a)</text>
<text x="241" y="842.7" class="cn" textLength="234.5" lengthAdjust="spacing">Citation-based retrieval</text>
<text x="218.7" y="1728.2" class="cb">(b)</text>
<text x="268.2" y="1727.7" class="cn" textLength="161.5" lengthAdjust="spacing">Lexical retrieval</text>
</svg></body></html>
